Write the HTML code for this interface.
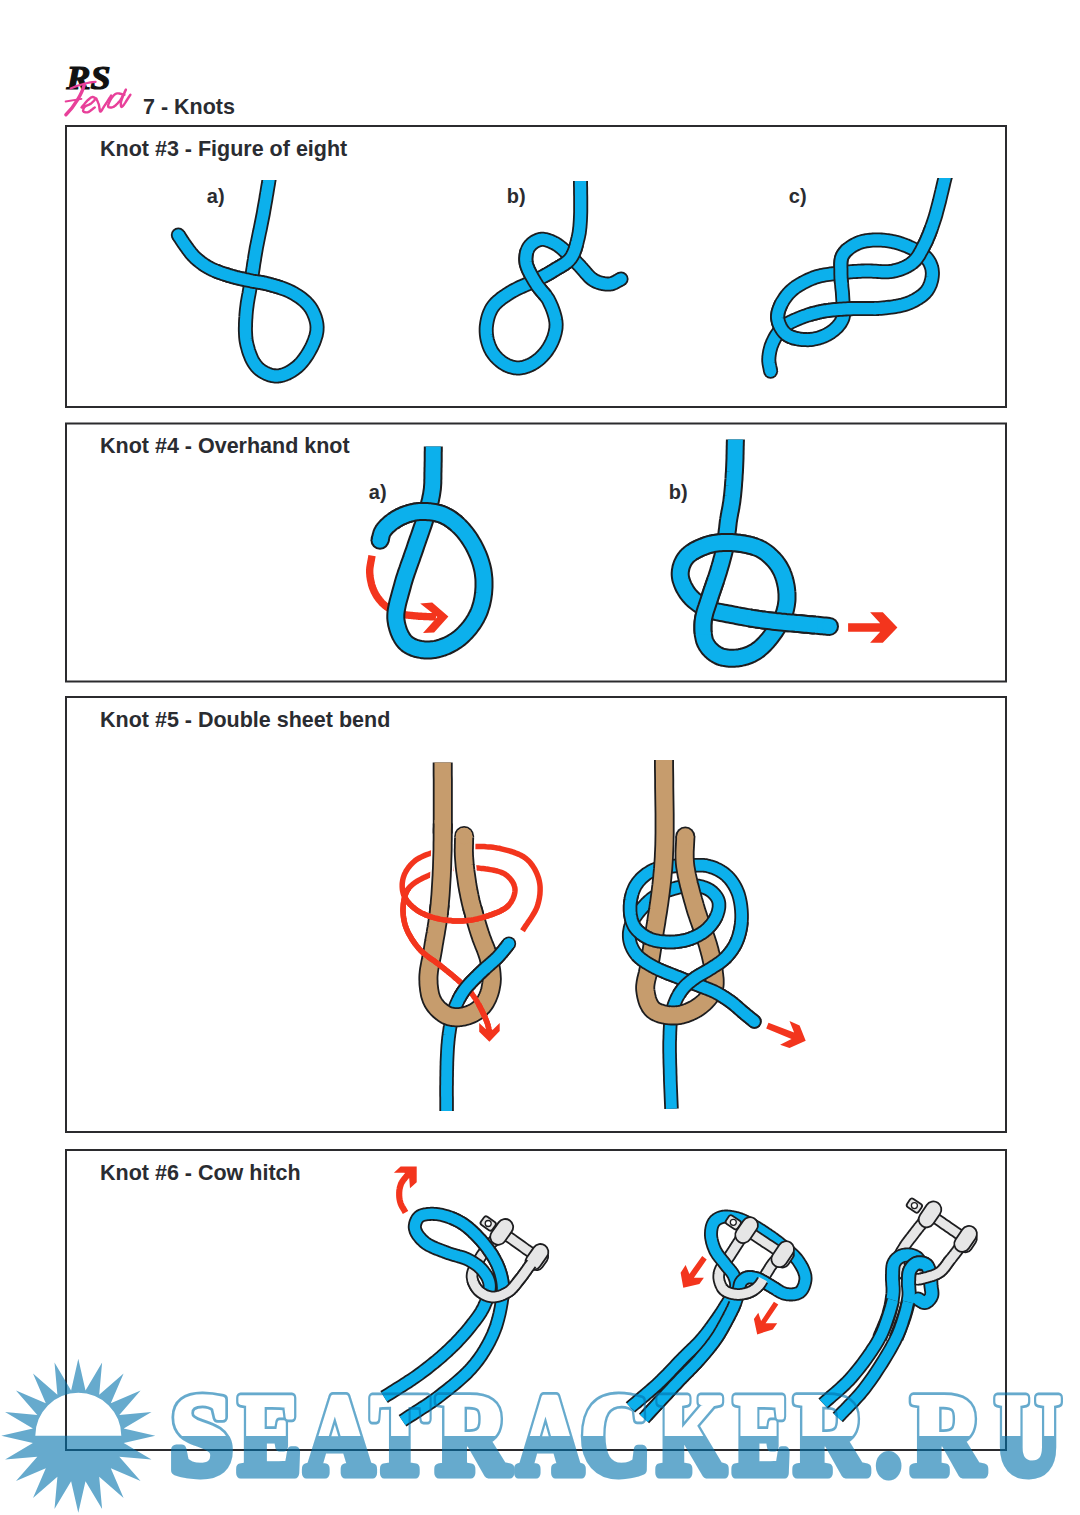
<!DOCTYPE html>
<html><head><meta charset="utf-8">
<style>
html,body{margin:0;padding:0;background:#fff;}
body{width:1080px;height:1515px;position:relative;overflow:hidden;font-family:"Liberation Sans",sans-serif;}
svg{position:absolute;left:0;top:0;}
.wm{mix-blend-mode:multiply;}
</style></head><body>
<svg width="1080" height="1515" viewBox="0 0 1080 1515">
<g fill="none" stroke="#2b2b2e" stroke-width="2">
<rect x="66" y="126" width="940" height="281"/>
<rect x="66" y="423.5" width="940" height="258"/>
<rect x="66" y="697" width="940" height="435"/>
<rect x="66" y="1150" width="940" height="300"/>
</g>
<g font-family="Liberation Sans" font-weight="bold" fill="#2a2c31" font-size="21.5">
<text x="143" y="114">7 - Knots</text>
<text x="100" y="155.5">Knot #3 - Figure of eight</text>
<text x="100" y="452.5">Knot #4 - Overhand knot</text>
<text x="100" y="726.5">Knot #5 - Double sheet bend</text>
<text x="100" y="1179.5">Knot #6 - Cow hitch</text>
<g font-size="20">
<text x="206.8" y="203">a)</text>
<text x="506.8" y="203">b)</text>
<text x="788.8" y="203">c)</text>
<text x="368.8" y="499">a)</text>
<text x="668.8" y="499">b)</text>
</g>
</g>
<text x="66.5" y="89.3" font-family="Liberation Serif" font-weight="bold" font-style="italic" font-size="33" fill="#111" stroke="#111" stroke-width="1.2" textLength="44" lengthAdjust="spacingAndGlyphs">RS</text>
<g fill="none" stroke="#e8409a" stroke-linecap="round" stroke-linejoin="round">
<path d="M70.7 88.5 C78.5 85.2 88.1 82.2 95.6 81.9" stroke-width="2.2"/>
<path d="M84.4 84.4 C82.2 93.3 74.8 105.9 65.9 114.8" stroke-width="3.4"/>
<path d="M65.6 101.5 L81.5 98.9" stroke-width="1.8"/>
<path d="M81.5 107.4 L82.3 106.4 L83.1 105.5 L84.0 104.5 L84.8 103.5 L85.6 102.5 L86.4 101.6 L87.2 100.7 L88.0 100.0 L88.6 99.5 L89.2 99.0 L89.8 98.5 L90.3 98.0 L90.9 97.6 L91.5 97.3 L92.0 97.1 L92.5 97.0 L92.9 97.0 L93.3 97.1 L93.8 97.3 L94.2 97.4 L94.5 97.7 L94.9 97.9 L95.1 98.2 L95.2 98.5 L95.2 99.0 L94.9 99.5 L94.4 100.2 L93.9 100.8 L93.2 101.5 L92.5 102.2 L91.8 102.8 L91.1 103.4 L90.4 103.9 L89.5 104.4 L88.6 104.8 L87.7 105.2 L86.7 105.6 L85.9 106.0 L85.2 106.5 L84.6 107.0 L84.2 107.5 L83.9 108.0 L83.6 108.6 L83.3 109.2 L83.2 109.8 L83.1 110.3 L83.1 110.8 L83.2 111.2 L83.5 111.5 L83.8 111.8 L84.3 112.0 L84.9 112.2 L85.5 112.3 L86.2 112.4 L86.8 112.4 L87.4 112.3 L88.2 112.1 L89.1 111.6 L90.1 111.0 L91.0 110.3 L92.0 109.6 L92.9 108.8 L93.9 108.1 L94.8 107.4" stroke-width="2.4"/>
<path d="M96.3 98.5 L96.6 99.2 L96.9 100.0 L97.3 100.7 L97.6 101.4 L97.9 102.1 L98.2 102.9 L98.5 103.6 L98.8 104.4 L99.0 105.3 L99.2 106.4 L99.4 107.6 L99.5 108.8 L99.7 109.8 L99.8 110.7 L100.1 111.3 L100.4 111.6 L100.8 111.5 L101.2 111.1 L101.7 110.5 L102.2 109.6 L102.7 108.7 L103.3 107.7 L103.8 106.8 L104.4 105.9 L105.2 104.8 L106.0 103.5 L106.8 102.3 L107.7 100.9 L108.5 99.6 L109.4 98.2 L110.3 96.9 L111.1 95.6" stroke-width="2.4"/>
<path d="M124.4 94.8 L123.4 94.6 L122.3 94.3 L121.3 94.0 L120.2 93.7 L119.2 93.5 L118.2 93.4 L117.2 93.4 L116.3 93.6 L115.4 94.0 L114.6 94.6 L113.7 95.4 L113.0 96.2 L112.2 97.2 L111.6 98.1 L110.9 99.1 L110.4 100.0 L109.9 100.9 L109.5 101.8 L109.0 102.8 L108.6 103.8 L108.3 104.7 L108.2 105.6 L108.1 106.3 L108.3 106.8 L108.6 107.1 L109.0 107.3 L109.5 107.4 L110.1 107.5 L110.7 107.5 L111.4 107.5 L112.0 107.4 L112.6 107.2 L113.4 106.9 L114.3 106.4 L115.1 105.8 L116.0 105.0 L116.8 104.2 L117.7 103.3 L118.5 102.4 L119.3 101.5 L120.3 100.1 L121.4 98.3 L122.4 96.3 L123.4 94.3 L124.4 92.5 L125.1 91.0 L125.6 89.9 L125.9 89.6 L125.8 90.0 L125.3 91.1 L124.6 92.7 L123.7 94.6 L122.8 96.7 L122.0 98.7 L121.4 100.5 L121.0 102.0 L120.9 102.8 L120.9 103.6 L120.8 104.4 L120.9 105.2 L120.9 105.9 L121.1 106.4 L121.3 106.8 L121.5 107.0 L122.1 106.7 L123.0 105.8 L124.1 104.4 L125.3 102.6 L126.6 100.5 L127.9 98.5 L129.2 96.5 L130.4 94.8" stroke-width="2.4"/>
</g>
<defs><clipPath id="cl0"><rect x="0" y="180.0" width="1080" height="1335.0"/></clipPath><clipPath id="cl1"><rect x="0" y="181.0" width="1080" height="1334.0"/></clipPath><clipPath id="cl2"><rect x="0" y="178.0" width="1080" height="1337.0"/></clipPath><clipPath id="cl3"><rect x="0" y="446.6" width="1080" height="1068.4"/></clipPath><clipPath id="cl4"><rect x="0" y="439.4" width="1080" height="1075.6"/></clipPath></defs>
<g clip-path="url(#cl0)"><circle cx="178.3" cy="235.0" r="7.50" fill="#1d1d1f"/>
<path d="M270.4 172.1 L270.3 172.7 L270.2 173.2 L270.1 173.7 L270.0 174.2 L269.9 174.7 L269.8 175.2 L269.7 175.7 L269.6 176.2 L269.6 176.8 L269.5 177.3 L269.4 177.9 L269.2 178.6 L269.1 179.3 L269.0 180.0 L268.7 181.7 L268.4 183.7 L268.0 185.9 L267.6 188.2 L267.2 190.7 L266.8 193.3 L266.3 195.9 L265.9 198.7 L265.4 201.5 L264.9 204.3 L264.4 207.1 L263.9 209.8 L263.5 212.4 L263.0 215.0 L262.5 217.5 L262.0 220.0 L261.5 222.5 L261.0 225.0 L260.5 227.6 L260.0 230.1 L259.4 232.6 L258.9 235.1 L258.4 237.6 L257.9 240.1 L257.4 242.6 L256.9 245.1 L256.4 247.5 L256.0 250.0 L255.6 252.3 L255.2 254.6 L254.8 256.9 L254.5 259.2 L254.1 261.5 L253.7 263.8 L253.4 266.1 L253.1 268.3 L252.7 270.6 L252.4 272.9 L252.0 275.1 L251.7 277.4 L251.4 279.7 L251.0 282.0 L250.6 284.3 L250.2 286.7 L249.8 289.1 L249.4 291.4 L249.0 293.8 L248.5 296.2 L248.1 298.6 L247.7 300.9 L247.3 303.3 L247.0 305.7 L246.7 308.0 L246.4 310.4 L246.2 312.7 L246.0 315.0 L245.9 317.2 L245.7 319.4 L245.6 321.6 L245.5 323.8 L245.5 326.0 L245.4 328.2 L245.4 330.4 L245.5 332.6 L245.6 334.7 L245.7 336.8 L245.9 338.9 L246.2 341.0 L246.6 343.0 L247.0 345.0 L247.5 346.8 L248.0 348.6 L248.5 350.5 L249.1 352.3 L249.8 354.2 L250.5 355.9 L251.2 357.7 L252.0 359.4 L252.9 361.1 L253.8 362.6 L254.8 364.1 L255.8 365.5 L256.9 366.8 L258.0 368.0 L259.1 369.0 L260.3 369.9 L261.5 370.8 L262.8 371.6 L264.1 372.4 L265.5 373.1 L266.9 373.8 L268.4 374.4 L269.8 374.9 L271.3 375.3 L272.7 375.6 L274.2 375.8 L275.6 376.0 L277.0 376.0 L278.4 375.9 L279.9 375.7 L281.4 375.4 L282.8 375.0 L284.3 374.5 L285.8 373.9 L287.3 373.3 L288.8 372.5 L290.2 371.7 L291.7 370.9 L293.1 369.9 L294.4 369.0 L295.7 368.0 L297.0 367.0 L298.4 365.8 L299.8 364.4 L301.1 363.0 L302.4 361.4 L303.7 359.8 L305.0 358.0 L306.2 356.3 L307.4 354.5 L308.5 352.7 L309.5 350.9 L310.5 349.1 L311.4 347.4 L312.3 345.6 L313.0 344.0 L313.6 342.7 L314.1 341.4 L314.6 340.1 L315.0 338.8 L315.4 337.5 L315.8 336.3 L316.2 335.0 L316.4 333.7 L316.7 332.4 L316.9 331.1 L317.0 329.9 L317.0 328.6 L317.1 327.3 L317.0 326.0 L316.9 324.6 L316.7 323.2 L316.4 321.8 L316.1 320.4 L315.7 319.0 L315.3 317.6 L314.8 316.2 L314.2 314.8 L313.6 313.4 L313.0 312.0 L312.3 310.7 L311.6 309.4 L310.8 308.2 L310.0 307.0 L309.1 305.8 L308.1 304.6 L307.1 303.5 L306.0 302.4 L304.9 301.3 L303.7 300.3 L302.5 299.3 L301.2 298.3 L299.9 297.3 L298.5 296.4 L297.2 295.5 L295.8 294.7 L294.4 293.8 L293.0 293.0 L291.4 292.1 L289.7 291.3 L288.0 290.5 L286.2 289.8 L284.4 289.1 L282.5 288.4 L280.7 287.7 L278.8 287.1 L276.9 286.5 L275.0 286.0 L273.2 285.4 L271.4 284.9 L269.7 284.5 L268.0 284.0 L266.7 283.7 L265.4 283.4 L264.2 283.1 L262.9 282.9 L261.7 282.6 L260.5 282.4 L259.3 282.2 L258.1 282.1 L256.9 281.9 L255.7 281.7 L254.5 281.5 L253.3 281.3 L252.1 281.1 L250.8 280.8 L249.4 280.5 L247.9 280.2 L246.5 279.9 L245.0 279.6 L243.5 279.2 L242.0 278.9 L240.5 278.6 L239.0 278.2 L237.4 277.8 L235.9 277.5 L234.4 277.1 L232.9 276.7 L231.5 276.2 L230.0 275.8 L228.5 275.4 L227.1 274.9 L225.6 274.4 L224.1 274.0 L222.6 273.5 L221.2 273.0 L219.7 272.5 L218.2 271.9 L216.8 271.4 L215.4 270.8 L214.0 270.2 L212.6 269.6 L211.3 269.0 L210.0 268.3 L208.8 267.6 L207.6 267.0 L206.5 266.3 L205.3 265.6 L204.2 264.8 L203.1 264.1 L202.0 263.3 L200.9 262.5 L199.9 261.7 L198.9 260.9 L197.9 260.1 L196.9 259.2 L195.9 258.4 L195.0 257.5 L194.2 256.7 L193.3 255.8 L192.6 255.0 L191.8 254.1 L191.0 253.2 L190.3 252.3 L189.6 251.3 L188.9 250.4 L188.2 249.5 L187.6 248.6 L186.9 247.7 L186.3 246.8 L185.6 245.9 L185.0 245.0 L184.5 244.3 L183.9 243.5 L183.4 242.8 L183.0 242.1 L182.5 241.4 L182.0 240.7 L181.5 240.0 L181.1 239.2 L180.6 238.5 L180.2 237.8 L179.7 237.1 L179.2 236.4 L178.8 235.7 L178.3 235.0" fill="none" stroke="#1d1d1f" stroke-width="15.00" stroke-linejoin="round"/>
<path d="M270.4 172.1 L270.3 172.7 L270.2 173.2 L270.1 173.7 L270.0 174.2 L269.9 174.7 L269.8 175.2 L269.7 175.7 L269.6 176.2 L269.6 176.8 L269.5 177.3 L269.4 177.9 L269.2 178.6 L269.1 179.3 L269.0 180.0 L268.7 181.7 L268.4 183.7 L268.0 185.9 L267.6 188.2 L267.2 190.7 L266.8 193.3 L266.3 195.9 L265.9 198.7 L265.4 201.5 L264.9 204.3 L264.4 207.1 L263.9 209.8 L263.5 212.4 L263.0 215.0 L262.5 217.5 L262.0 220.0 L261.5 222.5 L261.0 225.0 L260.5 227.6 L260.0 230.1 L259.4 232.6 L258.9 235.1 L258.4 237.6 L257.9 240.1 L257.4 242.6 L256.9 245.1 L256.4 247.5 L256.0 250.0 L255.6 252.3 L255.2 254.6 L254.8 256.9 L254.5 259.2 L254.1 261.5 L253.7 263.8 L253.4 266.1 L253.1 268.3 L252.7 270.6 L252.4 272.9 L252.0 275.1 L251.7 277.4 L251.4 279.7 L251.0 282.0 L250.6 284.3 L250.2 286.7 L249.8 289.1 L249.4 291.4 L249.0 293.8 L248.5 296.2 L248.1 298.6 L247.7 300.9 L247.3 303.3 L247.0 305.7 L246.7 308.0 L246.4 310.4 L246.2 312.7 L246.0 315.0 L245.9 317.2 L245.7 319.4 L245.6 321.6 L245.5 323.8 L245.5 326.0 L245.4 328.2 L245.4 330.4 L245.5 332.6 L245.6 334.7 L245.7 336.8 L245.9 338.9 L246.2 341.0 L246.6 343.0 L247.0 345.0 L247.5 346.8 L248.0 348.6 L248.5 350.5 L249.1 352.3 L249.8 354.2 L250.5 355.9 L251.2 357.7 L252.0 359.4 L252.9 361.1 L253.8 362.6 L254.8 364.1 L255.8 365.5 L256.9 366.8 L258.0 368.0 L259.1 369.0 L260.3 369.9 L261.5 370.8 L262.8 371.6 L264.1 372.4 L265.5 373.1 L266.9 373.8 L268.4 374.4 L269.8 374.9 L271.3 375.3 L272.7 375.6 L274.2 375.8 L275.6 376.0 L277.0 376.0 L278.4 375.9 L279.9 375.7 L281.4 375.4 L282.8 375.0 L284.3 374.5 L285.8 373.9 L287.3 373.3 L288.8 372.5 L290.2 371.7 L291.7 370.9 L293.1 369.9 L294.4 369.0 L295.7 368.0 L297.0 367.0 L298.4 365.8 L299.8 364.4 L301.1 363.0 L302.4 361.4 L303.7 359.8 L305.0 358.0 L306.2 356.3 L307.4 354.5 L308.5 352.7 L309.5 350.9 L310.5 349.1 L311.4 347.4 L312.3 345.6 L313.0 344.0 L313.6 342.7 L314.1 341.4 L314.6 340.1 L315.0 338.8 L315.4 337.5 L315.8 336.3 L316.2 335.0 L316.4 333.7 L316.7 332.4 L316.9 331.1 L317.0 329.9 L317.0 328.6 L317.1 327.3 L317.0 326.0 L316.9 324.6 L316.7 323.2 L316.4 321.8 L316.1 320.4 L315.7 319.0 L315.3 317.6 L314.8 316.2 L314.2 314.8 L313.6 313.4 L313.0 312.0 L312.3 310.7 L311.6 309.4 L310.8 308.2 L310.0 307.0 L309.1 305.8 L308.1 304.6 L307.1 303.5 L306.0 302.4 L304.9 301.3 L303.7 300.3 L302.5 299.3 L301.2 298.3 L299.9 297.3 L298.5 296.4 L297.2 295.5 L295.8 294.7 L294.4 293.8 L293.0 293.0 L291.4 292.1 L289.7 291.3 L288.0 290.5 L286.2 289.8 L284.4 289.1 L282.5 288.4 L280.7 287.7 L278.8 287.1 L276.9 286.5 L275.0 286.0 L273.2 285.4 L271.4 284.9 L269.7 284.5 L268.0 284.0 L266.7 283.7 L265.4 283.4 L264.2 283.1 L262.9 282.9 L261.7 282.6 L260.5 282.4 L259.3 282.2 L258.1 282.1 L256.9 281.9 L255.7 281.7 L254.5 281.5 L253.3 281.3 L252.1 281.1 L250.8 280.8 L249.4 280.5 L247.9 280.2 L246.5 279.9 L245.0 279.6 L243.5 279.2 L242.0 278.9 L240.5 278.6 L239.0 278.2 L237.4 277.8 L235.9 277.5 L234.4 277.1 L232.9 276.7 L231.5 276.2 L230.0 275.8 L228.5 275.4 L227.1 274.9 L225.6 274.4 L224.1 274.0 L222.6 273.5 L221.2 273.0 L219.7 272.5 L218.2 271.9 L216.8 271.4 L215.4 270.8 L214.0 270.2 L212.6 269.6 L211.3 269.0 L210.0 268.3 L208.8 267.6 L207.6 267.0 L206.5 266.3 L205.3 265.6 L204.2 264.8 L203.1 264.1 L202.0 263.3 L200.9 262.5 L199.9 261.7 L198.9 260.9 L197.9 260.1 L196.9 259.2 L195.9 258.4 L195.0 257.5 L194.2 256.7 L193.3 255.8 L192.6 255.0 L191.8 254.1 L191.0 253.2 L190.3 252.3 L189.6 251.3 L188.9 250.4 L188.2 249.5 L187.6 248.6 L186.9 247.7 L186.3 246.8 L185.6 245.9 L185.0 245.0 L184.5 244.3 L183.9 243.5 L183.4 242.8 L183.0 242.1 L182.5 241.4 L182.0 240.7 L181.5 240.0 L181.1 239.2 L180.6 238.5 L180.2 237.8 L179.7 237.1 L179.2 236.4 L178.8 235.7 L178.3 235.0" fill="none" stroke="#0cb0ec" stroke-width="11.40" stroke-linejoin="round"/>
<circle cx="178.3" cy="235.0" r="5.70" fill="#0cb0ec"/>
<path d="M280.7 287.7 L278.8 287.1 L276.9 286.5 L275.0 286.0 L273.2 285.4 L271.4 284.9 L269.7 284.5 L268.0 284.0 L266.7 283.7 L265.4 283.4 L264.2 283.1 L262.9 282.9 L261.7 282.6 L260.5 282.4 L259.3 282.2 L258.1 282.1 L256.9 281.9 L255.7 281.7 L254.5 281.5 L253.3 281.3 L252.1 281.1 L250.8 280.8 L249.4 280.5 L247.9 280.2 L246.5 279.9 L245.0 279.6 L243.5 279.2 L242.0 278.9 L240.5 278.6 L239.0 278.2 L237.4 277.8 L235.9 277.5 L234.4 277.1 L232.9 276.7 L231.5 276.2 L230.0 275.8 L228.5 275.4 L227.1 274.9 L225.6 274.4 L224.1 274.0 L222.6 273.5 L221.2 273.0 L219.7 272.5 L218.2 271.9 L216.8 271.4 L215.4 270.8" fill="none" stroke="#1d1d1f" stroke-width="15.00" stroke-linejoin="round"/>
<path d="M282.5 288.4 L280.7 287.7 L278.8 287.1 L276.9 286.5 L275.0 286.0 L273.2 285.4 L271.4 284.9 L269.7 284.5 L268.0 284.0 L266.7 283.7 L265.4 283.4 L264.2 283.1 L262.9 282.9 L261.7 282.6 L260.5 282.4 L259.3 282.2 L258.1 282.1 L256.9 281.9 L255.7 281.7 L254.5 281.5 L253.3 281.3 L252.1 281.1 L250.8 280.8 L249.4 280.5 L247.9 280.2 L246.5 279.9 L245.0 279.6 L243.5 279.2 L242.0 278.9 L240.5 278.6 L239.0 278.2 L237.4 277.8 L235.9 277.5 L234.4 277.1 L232.9 276.7 L231.5 276.2 L230.0 275.8 L228.5 275.4 L227.1 274.9 L225.6 274.4 L224.1 274.0 L222.6 273.5 L221.2 273.0 L219.7 272.5 L218.2 271.9 L216.8 271.4 L215.4 270.8 L214.0 270.2" fill="none" stroke="#0cb0ec" stroke-width="11.40" stroke-linejoin="round"/></g>
<g clip-path="url(#cl1)"><circle cx="621.1" cy="279.0" r="7.50" fill="#1d1d1f"/>
<path d="M580.5 173.0 L580.5 173.6 L580.5 174.1 L580.5 174.6 L580.5 175.1 L580.5 175.6 L580.5 176.1 L580.5 176.6 L580.5 177.1 L580.5 177.7 L580.5 178.3 L580.5 178.9 L580.5 179.5 L580.5 180.2 L580.5 181.0 L580.5 182.9 L580.5 185.2 L580.6 187.7 L580.6 190.4 L580.6 193.4 L580.7 196.4 L580.7 199.6 L580.7 202.8 L580.7 205.9 L580.7 209.1 L580.7 212.1 L580.6 214.9 L580.5 217.6 L580.4 220.0 L580.3 221.5 L580.2 223.0 L580.1 224.4 L580.0 225.8 L579.9 227.1 L579.7 228.4 L579.6 229.7 L579.4 230.9 L579.3 232.2 L579.1 233.4 L578.8 234.6 L578.6 235.9 L578.3 237.2 L578.0 238.5 L577.6 239.9 L577.3 241.4 L576.9 242.9 L576.5 244.4 L576.1 246.0 L575.6 247.5 L575.2 249.0 L574.6 250.5 L574.1 252.0 L573.5 253.4 L572.8 254.8 L572.1 256.1 L571.3 257.3 L570.5 258.5 L569.6 259.6 L568.7 260.6 L567.6 261.5 L566.6 262.4 L565.4 263.3 L564.3 264.1 L563.0 264.9 L561.8 265.6 L560.6 266.4 L559.3 267.1 L558.1 267.8 L556.8 268.5 L555.6 269.3 L554.4 270.0 L553.3 270.7 L552.1 271.4 L551.0 272.1 L549.9 272.8 L548.7 273.4 L547.6 274.1 L546.4 274.7 L545.3 275.3 L544.1 276.0 L542.9 276.6 L541.7 277.3 L540.4 277.9 L539.1 278.6 L537.8 279.3 L536.0 280.2 L534.1 281.1 L532.1 282.0 L530.0 283.0 L527.9 283.9 L525.7 284.8 L523.6 285.8 L521.4 286.7 L519.2 287.7 L517.1 288.7 L515.1 289.8 L513.1 290.8 L511.2 291.9 L509.4 293.0 L507.9 294.0 L506.5 294.9 L505.0 295.9 L503.6 296.9 L502.2 297.8 L500.9 298.8 L499.6 299.9 L498.3 300.9 L497.1 302.0 L495.9 303.1 L494.8 304.3 L493.8 305.5 L492.9 306.7 L492.0 308.0 L491.2 309.4 L490.5 310.8 L489.8 312.3 L489.2 313.8 L488.6 315.4 L488.1 317.0 L487.7 318.6 L487.3 320.3 L487.0 321.9 L486.7 323.6 L486.5 325.2 L486.3 326.8 L486.2 328.4 L486.2 330.0 L486.2 331.5 L486.3 333.0 L486.4 334.5 L486.6 336.0 L486.8 337.5 L487.1 339.0 L487.4 340.4 L487.8 341.9 L488.3 343.4 L488.7 344.8 L489.2 346.1 L489.8 347.5 L490.4 348.8 L491.0 350.0 L491.6 351.1 L492.3 352.2 L493.0 353.3 L493.8 354.3 L494.6 355.4 L495.4 356.4 L496.3 357.3 L497.2 358.3 L498.2 359.2 L499.1 360.0 L500.1 360.8 L501.0 361.6 L502.0 362.3 L503.0 363.0 L503.9 363.6 L504.9 364.1 L505.8 364.7 L506.8 365.2 L507.8 365.6 L508.9 366.1 L509.9 366.5 L510.9 366.8 L512.0 367.1 L513.0 367.4 L514.1 367.6 L515.1 367.8 L516.2 367.9 L517.2 368.0 L518.2 368.0 L519.3 368.0 L520.4 367.9 L521.5 367.7 L522.5 367.5 L523.6 367.3 L524.7 367.0 L525.8 366.6 L526.9 366.3 L527.9 365.9 L529.0 365.4 L530.0 365.0 L531.0 364.5 L532.0 364.0 L533.0 363.4 L534.0 362.8 L535.0 362.2 L536.0 361.5 L537.0 360.7 L538.0 360.0 L539.0 359.2 L539.9 358.4 L540.8 357.5 L541.7 356.6 L542.6 355.7 L543.4 354.8 L544.2 353.9 L545.0 353.0 L545.8 352.1 L546.5 351.1 L547.2 350.1 L547.9 349.0 L548.6 348.0 L549.3 346.9 L549.9 345.8 L550.5 344.7 L551.1 343.6 L551.6 342.5 L552.2 341.4 L552.6 340.2 L553.1 339.1 L553.5 338.0 L553.9 337.0 L554.2 335.9 L554.5 334.9 L554.8 333.9 L555.1 332.8 L555.3 331.8 L555.5 330.7 L555.7 329.7 L555.9 328.6 L556.0 327.5 L556.0 326.4 L556.1 325.3 L556.1 324.2 L556.0 323.0 L555.9 321.5 L555.6 320.0 L555.4 318.5 L555.0 316.9 L554.6 315.3 L554.1 313.6 L553.6 312.0 L553.0 310.3 L552.4 308.7 L551.8 307.1 L551.1 305.5 L550.4 304.0 L549.7 302.5 L549.0 301.0 L548.3 299.6 L547.4 298.3 L546.6 297.1 L545.7 295.8 L544.7 294.6 L543.7 293.4 L542.7 292.3 L541.7 291.1 L540.7 289.9 L539.7 288.7 L538.8 287.5 L537.8 286.2 L536.9 284.9 L536.1 283.6 L535.2 282.2 L534.3 280.7 L533.4 279.1 L532.5 277.6 L531.6 276.0 L530.7 274.4 L529.9 272.8 L529.1 271.2 L528.3 269.6 L527.7 268.0 L527.1 266.5 L526.6 264.9 L526.2 263.5 L526.0 262.0 L525.9 260.8 L525.8 259.7 L525.8 258.5 L525.9 257.4 L526.0 256.2 L526.1 255.1 L526.3 253.9 L526.5 252.8 L526.8 251.7 L527.2 250.7 L527.6 249.7 L528.0 248.7 L528.5 247.8 L529.0 247.0 L529.6 246.2 L530.2 245.5 L530.9 244.7 L531.6 244.0 L532.4 243.3 L533.3 242.7 L534.1 242.1 L535.0 241.5 L536.0 241.0 L536.9 240.6 L537.8 240.2 L538.8 239.8 L539.7 239.6 L540.6 239.4 L541.5 239.3 L542.5 239.3 L543.5 239.3 L544.5 239.5 L545.5 239.7 L546.5 239.9 L547.5 240.2 L548.5 240.6 L549.6 240.9 L550.6 241.3 L551.6 241.8 L552.5 242.2 L553.5 242.7 L554.4 243.1 L555.3 243.6 L556.2 244.1 L557.0 244.6 L557.9 245.2 L558.7 245.8 L559.5 246.4 L560.4 247.1 L561.2 247.7 L562.0 248.4 L562.8 249.1 L563.6 249.8 L564.4 250.6 L565.2 251.3 L566.0 252.0 L566.9 252.8 L567.8 253.6 L568.7 254.5 L569.6 255.4 L570.5 256.3 L571.3 257.2 L572.2 258.1 L573.1 259.0 L574.0 259.9 L574.9 260.9 L575.8 261.8 L576.7 262.8 L577.7 263.7 L578.6 264.7 L579.7 265.8 L580.7 267.0 L581.8 268.2 L582.9 269.5 L584.0 270.7 L585.1 272.0 L586.2 273.3 L587.3 274.5 L588.4 275.7 L589.5 276.9 L590.7 277.9 L591.9 278.9 L593.1 279.8 L594.3 280.5 L595.4 281.1 L596.5 281.6 L597.6 282.0 L598.7 282.5 L599.9 282.8 L601.0 283.2 L602.2 283.4 L603.4 283.7 L604.5 283.9 L605.7 284.0 L606.8 284.1 L607.9 284.1 L609.0 284.1 L610.0 284.0 L610.9 283.9 L611.7 283.7 L612.5 283.4 L613.3 283.1 L614.1 282.8 L614.9 282.4 L615.7 282.0 L616.5 281.5 L617.2 281.1 L618.0 280.6 L618.8 280.2 L619.5 279.8 L620.3 279.4 L621.1 279.0" fill="none" stroke="#1d1d1f" stroke-width="15.00" stroke-linejoin="round"/>
<path d="M580.5 173.0 L580.5 173.6 L580.5 174.1 L580.5 174.6 L580.5 175.1 L580.5 175.6 L580.5 176.1 L580.5 176.6 L580.5 177.1 L580.5 177.7 L580.5 178.3 L580.5 178.9 L580.5 179.5 L580.5 180.2 L580.5 181.0 L580.5 182.9 L580.5 185.2 L580.6 187.7 L580.6 190.4 L580.6 193.4 L580.7 196.4 L580.7 199.6 L580.7 202.8 L580.7 205.9 L580.7 209.1 L580.7 212.1 L580.6 214.9 L580.5 217.6 L580.4 220.0 L580.3 221.5 L580.2 223.0 L580.1 224.4 L580.0 225.8 L579.9 227.1 L579.7 228.4 L579.6 229.7 L579.4 230.9 L579.3 232.2 L579.1 233.4 L578.8 234.6 L578.6 235.9 L578.3 237.2 L578.0 238.5 L577.6 239.9 L577.3 241.4 L576.9 242.9 L576.5 244.4 L576.1 246.0 L575.6 247.5 L575.2 249.0 L574.6 250.5 L574.1 252.0 L573.5 253.4 L572.8 254.8 L572.1 256.1 L571.3 257.3 L570.5 258.5 L569.6 259.6 L568.7 260.6 L567.6 261.5 L566.6 262.4 L565.4 263.3 L564.3 264.1 L563.0 264.9 L561.8 265.6 L560.6 266.4 L559.3 267.1 L558.1 267.8 L556.8 268.5 L555.6 269.3 L554.4 270.0 L553.3 270.7 L552.1 271.4 L551.0 272.1 L549.9 272.8 L548.7 273.4 L547.6 274.1 L546.4 274.7 L545.3 275.3 L544.1 276.0 L542.9 276.6 L541.7 277.3 L540.4 277.9 L539.1 278.6 L537.8 279.3 L536.0 280.2 L534.1 281.1 L532.1 282.0 L530.0 283.0 L527.9 283.9 L525.7 284.8 L523.6 285.8 L521.4 286.7 L519.2 287.7 L517.1 288.7 L515.1 289.8 L513.1 290.8 L511.2 291.9 L509.4 293.0 L507.9 294.0 L506.5 294.9 L505.0 295.9 L503.6 296.9 L502.2 297.8 L500.9 298.8 L499.6 299.9 L498.3 300.9 L497.1 302.0 L495.9 303.1 L494.8 304.3 L493.8 305.5 L492.9 306.7 L492.0 308.0 L491.2 309.4 L490.5 310.8 L489.8 312.3 L489.2 313.8 L488.6 315.4 L488.1 317.0 L487.7 318.6 L487.3 320.3 L487.0 321.9 L486.7 323.6 L486.5 325.2 L486.3 326.8 L486.2 328.4 L486.2 330.0 L486.2 331.5 L486.3 333.0 L486.4 334.5 L486.6 336.0 L486.8 337.5 L487.1 339.0 L487.4 340.4 L487.8 341.9 L488.3 343.4 L488.7 344.8 L489.2 346.1 L489.8 347.5 L490.4 348.8 L491.0 350.0 L491.6 351.1 L492.3 352.2 L493.0 353.3 L493.8 354.3 L494.6 355.4 L495.4 356.4 L496.3 357.3 L497.2 358.3 L498.2 359.2 L499.1 360.0 L500.1 360.8 L501.0 361.6 L502.0 362.3 L503.0 363.0 L503.9 363.6 L504.9 364.1 L505.8 364.7 L506.8 365.2 L507.8 365.6 L508.9 366.1 L509.9 366.5 L510.9 366.8 L512.0 367.1 L513.0 367.4 L514.1 367.6 L515.1 367.8 L516.2 367.9 L517.2 368.0 L518.2 368.0 L519.3 368.0 L520.4 367.9 L521.5 367.7 L522.5 367.5 L523.6 367.3 L524.7 367.0 L525.8 366.6 L526.9 366.3 L527.9 365.9 L529.0 365.4 L530.0 365.0 L531.0 364.5 L532.0 364.0 L533.0 363.4 L534.0 362.8 L535.0 362.2 L536.0 361.5 L537.0 360.7 L538.0 360.0 L539.0 359.2 L539.9 358.4 L540.8 357.5 L541.7 356.6 L542.6 355.7 L543.4 354.8 L544.2 353.9 L545.0 353.0 L545.8 352.1 L546.5 351.1 L547.2 350.1 L547.9 349.0 L548.6 348.0 L549.3 346.9 L549.9 345.8 L550.5 344.7 L551.1 343.6 L551.6 342.5 L552.2 341.4 L552.6 340.2 L553.1 339.1 L553.5 338.0 L553.9 337.0 L554.2 335.9 L554.5 334.9 L554.8 333.9 L555.1 332.8 L555.3 331.8 L555.5 330.7 L555.7 329.7 L555.9 328.6 L556.0 327.5 L556.0 326.4 L556.1 325.3 L556.1 324.2 L556.0 323.0 L555.9 321.5 L555.6 320.0 L555.4 318.5 L555.0 316.9 L554.6 315.3 L554.1 313.6 L553.6 312.0 L553.0 310.3 L552.4 308.7 L551.8 307.1 L551.1 305.5 L550.4 304.0 L549.7 302.5 L549.0 301.0 L548.3 299.6 L547.4 298.3 L546.6 297.1 L545.7 295.8 L544.7 294.6 L543.7 293.4 L542.7 292.3 L541.7 291.1 L540.7 289.9 L539.7 288.7 L538.8 287.5 L537.8 286.2 L536.9 284.9 L536.1 283.6 L535.2 282.2 L534.3 280.7 L533.4 279.1 L532.5 277.6 L531.6 276.0 L530.7 274.4 L529.9 272.8 L529.1 271.2 L528.3 269.6 L527.7 268.0 L527.1 266.5 L526.6 264.9 L526.2 263.5 L526.0 262.0 L525.9 260.8 L525.8 259.7 L525.8 258.5 L525.9 257.4 L526.0 256.2 L526.1 255.1 L526.3 253.9 L526.5 252.8 L526.8 251.7 L527.2 250.7 L527.6 249.7 L528.0 248.7 L528.5 247.8 L529.0 247.0 L529.6 246.2 L530.2 245.5 L530.9 244.7 L531.6 244.0 L532.4 243.3 L533.3 242.7 L534.1 242.1 L535.0 241.5 L536.0 241.0 L536.9 240.6 L537.8 240.2 L538.8 239.8 L539.7 239.6 L540.6 239.4 L541.5 239.3 L542.5 239.3 L543.5 239.3 L544.5 239.5 L545.5 239.7 L546.5 239.9 L547.5 240.2 L548.5 240.6 L549.6 240.9 L550.6 241.3 L551.6 241.8 L552.5 242.2 L553.5 242.7 L554.4 243.1 L555.3 243.6 L556.2 244.1 L557.0 244.6 L557.9 245.2 L558.7 245.8 L559.5 246.4 L560.4 247.1 L561.2 247.7 L562.0 248.4 L562.8 249.1 L563.6 249.8 L564.4 250.6 L565.2 251.3 L566.0 252.0 L566.9 252.8 L567.8 253.6 L568.7 254.5 L569.6 255.4 L570.5 256.3 L571.3 257.2 L572.2 258.1 L573.1 259.0 L574.0 259.9 L574.9 260.9 L575.8 261.8 L576.7 262.8 L577.7 263.7 L578.6 264.7 L579.7 265.8 L580.7 267.0 L581.8 268.2 L582.9 269.5 L584.0 270.7 L585.1 272.0 L586.2 273.3 L587.3 274.5 L588.4 275.7 L589.5 276.9 L590.7 277.9 L591.9 278.9 L593.1 279.8 L594.3 280.5 L595.4 281.1 L596.5 281.6 L597.6 282.0 L598.7 282.5 L599.9 282.8 L601.0 283.2 L602.2 283.4 L603.4 283.7 L604.5 283.9 L605.7 284.0 L606.8 284.1 L607.9 284.1 L609.0 284.1 L610.0 284.0 L610.9 283.9 L611.7 283.7 L612.5 283.4 L613.3 283.1 L614.1 282.8 L614.9 282.4 L615.7 282.0 L616.5 281.5 L617.2 281.1 L618.0 280.6 L618.8 280.2 L619.5 279.8 L620.3 279.4 L621.1 279.0" fill="none" stroke="#0cb0ec" stroke-width="11.40" stroke-linejoin="round"/>
<circle cx="621.1" cy="279.0" r="5.70" fill="#0cb0ec"/>
<path d="M576.5 244.4 L576.1 246.0 L575.6 247.5 L575.2 249.0 L574.6 250.5 L574.1 252.0 L573.5 253.4 L572.8 254.8 L572.1 256.1 L571.3 257.3 L570.5 258.5 L569.6 259.6 L568.7 260.6 L567.6 261.5 L566.6 262.4 L565.4 263.3 L564.3 264.1 L563.0 264.9 L561.8 265.6 L560.6 266.4 L559.3 267.1 L558.1 267.8 L556.8 268.5 L555.6 269.3 L554.4 270.0 L553.3 270.7 L552.1 271.4 L551.0 272.1 L549.9 272.8 L548.7 273.4 L547.6 274.1 L546.4 274.7 L545.3 275.3 L544.1 276.0 L542.9 276.6" fill="none" stroke="#1d1d1f" stroke-width="15.00" stroke-linejoin="round"/>
<path d="M576.9 242.9 L576.5 244.4 L576.1 246.0 L575.6 247.5 L575.2 249.0 L574.6 250.5 L574.1 252.0 L573.5 253.4 L572.8 254.8 L572.1 256.1 L571.3 257.3 L570.5 258.5 L569.6 259.6 L568.7 260.6 L567.6 261.5 L566.6 262.4 L565.4 263.3 L564.3 264.1 L563.0 264.9 L561.8 265.6 L560.6 266.4 L559.3 267.1 L558.1 267.8 L556.8 268.5 L555.6 269.3 L554.4 270.0 L553.3 270.7 L552.1 271.4 L551.0 272.1 L549.9 272.8 L548.7 273.4 L547.6 274.1 L546.4 274.7 L545.3 275.3 L544.1 276.0 L542.9 276.6 L541.7 277.3" fill="none" stroke="#0cb0ec" stroke-width="11.40" stroke-linejoin="round"/>
<path d="M545.7 295.8 L544.7 294.6 L543.7 293.4 L542.7 292.3 L541.7 291.1 L540.7 289.9 L539.7 288.7 L538.8 287.5 L537.8 286.2 L536.9 284.9 L536.1 283.6 L535.2 282.2 L534.3 280.7 L533.4 279.1 L532.5 277.6 L531.6 276.0 L530.7 274.4 L529.9 272.8 L529.1 271.2 L528.3 269.6 L527.7 268.0 L527.1 266.5 L526.6 264.9 L526.2 263.5 L526.0 262.0 L525.9 260.8 L525.8 259.7 L525.8 258.5 L525.9 257.4 L526.0 256.2 L526.1 255.1 L526.3 253.9 L526.5 252.8 L526.8 251.7 L527.2 250.7" fill="none" stroke="#1d1d1f" stroke-width="15.00" stroke-linejoin="round"/>
<path d="M546.6 297.1 L545.7 295.8 L544.7 294.6 L543.7 293.4 L542.7 292.3 L541.7 291.1 L540.7 289.9 L539.7 288.7 L538.8 287.5 L537.8 286.2 L536.9 284.9 L536.1 283.6 L535.2 282.2 L534.3 280.7 L533.4 279.1 L532.5 277.6 L531.6 276.0 L530.7 274.4 L529.9 272.8 L529.1 271.2 L528.3 269.6 L527.7 268.0 L527.1 266.5 L526.6 264.9 L526.2 263.5 L526.0 262.0 L525.9 260.8 L525.8 259.7 L525.8 258.5 L525.9 257.4 L526.0 256.2 L526.1 255.1 L526.3 253.9 L526.5 252.8 L526.8 251.7 L527.2 250.7 L527.6 249.7" fill="none" stroke="#0cb0ec" stroke-width="11.40" stroke-linejoin="round"/></g>
<g clip-path="url(#cl2)"><circle cx="770.6" cy="371.3" r="7.50" fill="#1d1d1f"/>
<path d="M947.0 170.3 L946.9 170.8 L946.7 171.3 L946.6 171.8 L946.5 172.3 L946.3 172.8 L946.2 173.2 L946.1 173.7 L946.0 174.2 L945.8 174.8 L945.7 175.3 L945.5 175.9 L945.4 176.6 L945.2 177.3 L945.0 178.0 L944.5 180.0 L943.9 182.3 L943.3 185.0 L942.6 187.9 L941.9 191.0 L941.1 194.2 L940.3 197.6 L939.5 201.0 L938.6 204.4 L937.7 207.8 L936.8 211.1 L936.0 214.3 L935.1 217.2 L934.2 220.0 L933.5 222.1 L932.8 224.2 L932.1 226.2 L931.4 228.3 L930.6 230.3 L929.9 232.2 L929.2 234.1 L928.4 236.0 L927.6 237.8 L926.9 239.6 L926.1 241.4 L925.3 243.1 L924.4 244.8 L923.6 246.4 L922.9 247.7 L922.2 249.0 L921.6 250.3 L920.9 251.5 L920.2 252.7 L919.6 253.9 L918.9 255.1 L918.2 256.2 L917.4 257.3 L916.6 258.4 L915.8 259.4 L914.9 260.4 L914.0 261.3 L913.0 262.2 L911.9 263.1 L910.7 264.0 L909.5 264.8 L908.2 265.5 L906.9 266.3 L905.6 267.0 L904.2 267.6 L902.7 268.2 L901.3 268.8 L899.8 269.3 L898.3 269.8 L896.8 270.2 L895.2 270.6 L893.7 271.0 L891.9 271.3 L890.0 271.6 L888.1 271.7 L886.1 271.7 L884.1 271.7 L882.0 271.7 L879.9 271.6 L877.8 271.4 L875.8 271.3 L873.7 271.2 L871.6 271.1 L869.6 271.0 L867.6 271.0 L865.6 271.0 L863.8 271.1 L862.0 271.1 L860.2 271.2 L858.5 271.3 L856.7 271.4 L855.0 271.5 L853.2 271.6 L851.5 271.7 L849.8 271.9 L848.0 272.0 L846.3 272.2 L844.5 272.4 L842.7 272.6 L840.9 272.8 L838.9 273.0 L836.9 273.3 L834.9 273.5 L832.9 273.8 L830.8 274.0 L828.8 274.3 L826.7 274.6 L824.7 274.9 L822.6 275.3 L820.6 275.7 L818.6 276.2 L816.6 276.8 L814.7 277.4 L812.8 278.1 L810.9 278.9 L809.0 279.7 L807.0 280.6 L805.1 281.6 L803.1 282.6 L801.2 283.7 L799.3 284.8 L797.5 285.9 L795.7 287.1 L794.0 288.4 L792.4 289.7 L790.9 291.1 L789.4 292.5 L788.1 293.9 L786.9 295.3 L785.8 296.8 L784.7 298.3 L783.6 300.0 L782.6 301.6 L781.6 303.3 L780.7 305.1 L780.0 306.8 L779.3 308.5 L778.7 310.3 L778.2 312.0 L777.9 313.6 L777.7 315.2 L777.6 316.8 L777.7 318.2 L777.9 319.6 L778.2 321.0 L778.5 322.4 L779.0 323.8 L779.6 325.2 L780.2 326.5 L780.9 327.8 L781.7 329.1 L782.5 330.3 L783.4 331.5 L784.4 332.6 L785.4 333.5 L786.4 334.4 L787.6 335.3 L789.0 336.0 L790.4 336.7 L792.0 337.3 L793.6 337.9 L795.3 338.3 L797.1 338.7 L798.8 339.0 L800.6 339.3 L802.4 339.5 L804.2 339.6 L806.0 339.6 L807.7 339.7 L809.3 339.6 L810.9 339.5 L812.4 339.3 L814.0 339.0 L815.6 338.7 L817.3 338.3 L818.8 337.9 L820.4 337.4 L822.0 336.8 L823.5 336.2 L825.0 335.6 L826.4 334.9 L827.8 334.2 L829.1 333.4 L830.4 332.6 L831.5 331.8 L832.6 331.0 L833.7 330.2 L834.8 329.3 L835.8 328.3 L836.8 327.4 L837.7 326.4 L838.6 325.3 L839.5 324.2 L840.3 323.2 L841.0 322.0 L841.6 320.9 L842.2 319.7 L842.7 318.5 L843.1 317.2 L843.4 315.8 L843.6 314.4 L843.7 313.0 L843.8 311.5 L843.7 310.0 L843.6 308.4 L843.5 306.9 L843.4 305.3 L843.2 303.7 L843.0 302.1 L842.9 300.6 L842.8 299.0 L842.7 297.4 L842.6 295.7 L842.5 293.9 L842.4 292.2 L842.2 290.4 L842.0 288.6 L841.8 286.8 L841.7 285.0 L841.5 283.2 L841.3 281.4 L841.2 279.6 L841.0 277.8 L841.0 276.1 L840.9 274.4 L840.9 272.8 L840.9 271.4 L840.9 270.1 L840.9 268.7 L840.8 267.4 L840.8 266.1 L840.8 264.7 L840.8 263.4 L840.9 262.2 L841.0 260.9 L841.2 259.7 L841.4 258.5 L841.8 257.4 L842.2 256.3 L842.7 255.2 L843.4 254.1 L844.2 253.0 L845.0 252.0 L846.0 250.9 L847.0 249.9 L848.2 249.0 L849.3 248.1 L850.6 247.2 L851.8 246.3 L853.1 245.5 L854.5 244.8 L855.8 244.1 L857.2 243.5 L858.5 242.9 L860.0 242.3 L861.6 241.8 L863.3 241.4 L865.0 241.0 L866.8 240.7 L868.6 240.5 L870.4 240.3 L872.2 240.1 L874.1 240.0 L876.0 240.0 L877.8 240.0 L879.6 240.0 L881.4 240.1 L883.2 240.2 L885.0 240.4 L886.8 240.6 L888.6 240.8 L890.4 241.1 L892.2 241.5 L894.0 241.9 L895.8 242.3 L897.6 242.8 L899.4 243.3 L901.1 243.9 L902.8 244.5 L904.5 245.1 L906.2 245.7 L907.8 246.4 L909.3 247.1 L910.9 247.8 L912.5 248.5 L914.0 249.3 L915.6 250.1 L917.1 250.9 L918.6 251.8 L920.0 252.7 L921.4 253.6 L922.7 254.6 L924.0 255.6 L925.1 256.6 L926.2 257.6 L927.1 258.7 L927.8 259.6 L928.4 260.5 L929.0 261.4 L929.6 262.4 L930.1 263.4 L930.5 264.4 L930.9 265.4 L931.3 266.4 L931.6 267.5 L931.9 268.5 L932.1 269.6 L932.2 270.7 L932.3 271.7 L932.4 272.8 L932.4 274.0 L932.3 275.3 L932.2 276.5 L932.0 277.8 L931.8 279.2 L931.5 280.5 L931.1 281.8 L930.7 283.2 L930.3 284.5 L929.7 285.7 L929.1 287.0 L928.5 288.2 L927.8 289.3 L927.1 290.4 L926.2 291.5 L925.3 292.6 L924.2 293.6 L923.1 294.6 L922.0 295.6 L920.7 296.5 L919.4 297.4 L918.1 298.3 L916.7 299.1 L915.3 299.9 L913.9 300.7 L912.4 301.4 L911.0 302.1 L909.5 302.7 L907.8 303.4 L906.1 304.0 L904.4 304.5 L902.6 305.0 L900.8 305.4 L898.9 305.8 L897.0 306.2 L895.1 306.5 L893.2 306.8 L891.2 307.1 L889.2 307.3 L887.2 307.5 L885.2 307.8 L883.2 308.0 L880.8 308.2 L878.4 308.4 L875.9 308.5 L873.4 308.6 L870.8 308.6 L868.2 308.6 L865.6 308.6 L863.0 308.6 L860.4 308.6 L857.8 308.6 L855.3 308.6 L852.8 308.6 L850.4 308.7 L848.0 308.8 L846.0 308.9 L844.0 309.0 L842.0 309.2 L840.1 309.3 L838.2 309.4 L836.3 309.6 L834.4 309.7 L832.5 309.9 L830.7 310.1 L828.9 310.3 L827.0 310.6 L825.2 310.8 L823.4 311.2 L821.6 311.5 L819.9 311.9 L818.2 312.2 L816.5 312.7 L814.8 313.1 L813.1 313.5 L811.4 314.0 L809.7 314.5 L808.0 315.0 L806.4 315.6 L804.8 316.1 L803.2 316.7 L801.7 317.3 L800.2 317.9 L798.7 318.5 L797.4 319.0 L796.2 319.6 L795.0 320.1 L793.7 320.6 L792.6 321.2 L791.4 321.7 L790.2 322.3 L789.1 322.9 L788.0 323.6 L786.9 324.2 L785.9 324.9 L784.8 325.7 L783.9 326.5 L782.9 327.3 L781.9 328.2 L781.0 329.2 L780.1 330.2 L779.2 331.3 L778.4 332.4 L777.6 333.6 L776.8 334.7 L776.0 335.9 L775.3 337.1 L774.6 338.4 L774.0 339.6 L773.4 340.8 L772.8 342.0 L772.3 343.2 L771.9 344.3 L771.4 345.4 L771.0 346.5 L770.7 347.7 L770.4 348.8 L770.1 350.0 L769.8 351.1 L769.6 352.3 L769.4 353.5 L769.2 354.6 L769.1 355.7 L768.9 356.8 L768.9 357.9 L768.8 359.0 L768.8 359.9 L768.8 360.8 L768.9 361.7 L769.0 362.6 L769.1 363.5 L769.3 364.4 L769.4 365.2 L769.6 366.1 L769.8 367.0 L770.0 367.8 L770.1 368.7 L770.3 369.6 L770.5 370.4 L770.6 371.3" fill="none" stroke="#1d1d1f" stroke-width="15.00" stroke-linejoin="round"/>
<path d="M947.0 170.3 L946.9 170.8 L946.7 171.3 L946.6 171.8 L946.5 172.3 L946.3 172.8 L946.2 173.2 L946.1 173.7 L946.0 174.2 L945.8 174.8 L945.7 175.3 L945.5 175.9 L945.4 176.6 L945.2 177.3 L945.0 178.0 L944.5 180.0 L943.9 182.3 L943.3 185.0 L942.6 187.9 L941.9 191.0 L941.1 194.2 L940.3 197.6 L939.5 201.0 L938.6 204.4 L937.7 207.8 L936.8 211.1 L936.0 214.3 L935.1 217.2 L934.2 220.0 L933.5 222.1 L932.8 224.2 L932.1 226.2 L931.4 228.3 L930.6 230.3 L929.9 232.2 L929.2 234.1 L928.4 236.0 L927.6 237.8 L926.9 239.6 L926.1 241.4 L925.3 243.1 L924.4 244.8 L923.6 246.4 L922.9 247.7 L922.2 249.0 L921.6 250.3 L920.9 251.5 L920.2 252.7 L919.6 253.9 L918.9 255.1 L918.2 256.2 L917.4 257.3 L916.6 258.4 L915.8 259.4 L914.9 260.4 L914.0 261.3 L913.0 262.2 L911.9 263.1 L910.7 264.0 L909.5 264.8 L908.2 265.5 L906.9 266.3 L905.6 267.0 L904.2 267.6 L902.7 268.2 L901.3 268.8 L899.8 269.3 L898.3 269.8 L896.8 270.2 L895.2 270.6 L893.7 271.0 L891.9 271.3 L890.0 271.6 L888.1 271.7 L886.1 271.7 L884.1 271.7 L882.0 271.7 L879.9 271.6 L877.8 271.4 L875.8 271.3 L873.7 271.2 L871.6 271.1 L869.6 271.0 L867.6 271.0 L865.6 271.0 L863.8 271.1 L862.0 271.1 L860.2 271.2 L858.5 271.3 L856.7 271.4 L855.0 271.5 L853.2 271.6 L851.5 271.7 L849.8 271.9 L848.0 272.0 L846.3 272.2 L844.5 272.4 L842.7 272.6 L840.9 272.8 L838.9 273.0 L836.9 273.3 L834.9 273.5 L832.9 273.8 L830.8 274.0 L828.8 274.3 L826.7 274.6 L824.7 274.9 L822.6 275.3 L820.6 275.7 L818.6 276.2 L816.6 276.8 L814.7 277.4 L812.8 278.1 L810.9 278.9 L809.0 279.7 L807.0 280.6 L805.1 281.6 L803.1 282.6 L801.2 283.7 L799.3 284.8 L797.5 285.9 L795.7 287.1 L794.0 288.4 L792.4 289.7 L790.9 291.1 L789.4 292.5 L788.1 293.9 L786.9 295.3 L785.8 296.8 L784.7 298.3 L783.6 300.0 L782.6 301.6 L781.6 303.3 L780.7 305.1 L780.0 306.8 L779.3 308.5 L778.7 310.3 L778.2 312.0 L777.9 313.6 L777.7 315.2 L777.6 316.8 L777.7 318.2 L777.9 319.6 L778.2 321.0 L778.5 322.4 L779.0 323.8 L779.6 325.2 L780.2 326.5 L780.9 327.8 L781.7 329.1 L782.5 330.3 L783.4 331.5 L784.4 332.6 L785.4 333.5 L786.4 334.4 L787.6 335.3 L789.0 336.0 L790.4 336.7 L792.0 337.3 L793.6 337.9 L795.3 338.3 L797.1 338.7 L798.8 339.0 L800.6 339.3 L802.4 339.5 L804.2 339.6 L806.0 339.6 L807.7 339.7 L809.3 339.6 L810.9 339.5 L812.4 339.3 L814.0 339.0 L815.6 338.7 L817.3 338.3 L818.8 337.9 L820.4 337.4 L822.0 336.8 L823.5 336.2 L825.0 335.6 L826.4 334.9 L827.8 334.2 L829.1 333.4 L830.4 332.6 L831.5 331.8 L832.6 331.0 L833.7 330.2 L834.8 329.3 L835.8 328.3 L836.8 327.4 L837.7 326.4 L838.6 325.3 L839.5 324.2 L840.3 323.2 L841.0 322.0 L841.6 320.9 L842.2 319.7 L842.7 318.5 L843.1 317.2 L843.4 315.8 L843.6 314.4 L843.7 313.0 L843.8 311.5 L843.7 310.0 L843.6 308.4 L843.5 306.9 L843.4 305.3 L843.2 303.7 L843.0 302.1 L842.9 300.6 L842.8 299.0 L842.7 297.4 L842.6 295.7 L842.5 293.9 L842.4 292.2 L842.2 290.4 L842.0 288.6 L841.8 286.8 L841.7 285.0 L841.5 283.2 L841.3 281.4 L841.2 279.6 L841.0 277.8 L841.0 276.1 L840.9 274.4 L840.9 272.8 L840.9 271.4 L840.9 270.1 L840.9 268.7 L840.8 267.4 L840.8 266.1 L840.8 264.7 L840.8 263.4 L840.9 262.2 L841.0 260.9 L841.2 259.7 L841.4 258.5 L841.8 257.4 L842.2 256.3 L842.7 255.2 L843.4 254.1 L844.2 253.0 L845.0 252.0 L846.0 250.9 L847.0 249.9 L848.2 249.0 L849.3 248.1 L850.6 247.2 L851.8 246.3 L853.1 245.5 L854.5 244.8 L855.8 244.1 L857.2 243.5 L858.5 242.9 L860.0 242.3 L861.6 241.8 L863.3 241.4 L865.0 241.0 L866.8 240.7 L868.6 240.5 L870.4 240.3 L872.2 240.1 L874.1 240.0 L876.0 240.0 L877.8 240.0 L879.6 240.0 L881.4 240.1 L883.2 240.2 L885.0 240.4 L886.8 240.6 L888.6 240.8 L890.4 241.1 L892.2 241.5 L894.0 241.9 L895.8 242.3 L897.6 242.8 L899.4 243.3 L901.1 243.9 L902.8 244.5 L904.5 245.1 L906.2 245.7 L907.8 246.4 L909.3 247.1 L910.9 247.8 L912.5 248.5 L914.0 249.3 L915.6 250.1 L917.1 250.9 L918.6 251.8 L920.0 252.7 L921.4 253.6 L922.7 254.6 L924.0 255.6 L925.1 256.6 L926.2 257.6 L927.1 258.7 L927.8 259.6 L928.4 260.5 L929.0 261.4 L929.6 262.4 L930.1 263.4 L930.5 264.4 L930.9 265.4 L931.3 266.4 L931.6 267.5 L931.9 268.5 L932.1 269.6 L932.2 270.7 L932.3 271.7 L932.4 272.8 L932.4 274.0 L932.3 275.3 L932.2 276.5 L932.0 277.8 L931.8 279.2 L931.5 280.5 L931.1 281.8 L930.7 283.2 L930.3 284.5 L929.7 285.7 L929.1 287.0 L928.5 288.2 L927.8 289.3 L927.1 290.4 L926.2 291.5 L925.3 292.6 L924.2 293.6 L923.1 294.6 L922.0 295.6 L920.7 296.5 L919.4 297.4 L918.1 298.3 L916.7 299.1 L915.3 299.9 L913.9 300.7 L912.4 301.4 L911.0 302.1 L909.5 302.7 L907.8 303.4 L906.1 304.0 L904.4 304.5 L902.6 305.0 L900.8 305.4 L898.9 305.8 L897.0 306.2 L895.1 306.5 L893.2 306.8 L891.2 307.1 L889.2 307.3 L887.2 307.5 L885.2 307.8 L883.2 308.0 L880.8 308.2 L878.4 308.4 L875.9 308.5 L873.4 308.6 L870.8 308.6 L868.2 308.6 L865.6 308.6 L863.0 308.6 L860.4 308.6 L857.8 308.6 L855.3 308.6 L852.8 308.6 L850.4 308.7 L848.0 308.8 L846.0 308.9 L844.0 309.0 L842.0 309.2 L840.1 309.3 L838.2 309.4 L836.3 309.6 L834.4 309.7 L832.5 309.9 L830.7 310.1 L828.9 310.3 L827.0 310.6 L825.2 310.8 L823.4 311.2 L821.6 311.5 L819.9 311.9 L818.2 312.2 L816.5 312.7 L814.8 313.1 L813.1 313.5 L811.4 314.0 L809.7 314.5 L808.0 315.0 L806.4 315.6 L804.8 316.1 L803.2 316.7 L801.7 317.3 L800.2 317.9 L798.7 318.5 L797.4 319.0 L796.2 319.6 L795.0 320.1 L793.7 320.6 L792.6 321.2 L791.4 321.7 L790.2 322.3 L789.1 322.9 L788.0 323.6 L786.9 324.2 L785.9 324.9 L784.8 325.7 L783.9 326.5 L782.9 327.3 L781.9 328.2 L781.0 329.2 L780.1 330.2 L779.2 331.3 L778.4 332.4 L777.6 333.6 L776.8 334.7 L776.0 335.9 L775.3 337.1 L774.6 338.4 L774.0 339.6 L773.4 340.8 L772.8 342.0 L772.3 343.2 L771.9 344.3 L771.4 345.4 L771.0 346.5 L770.7 347.7 L770.4 348.8 L770.1 350.0 L769.8 351.1 L769.6 352.3 L769.4 353.5 L769.2 354.6 L769.1 355.7 L768.9 356.8 L768.9 357.9 L768.8 359.0 L768.8 359.9 L768.8 360.8 L768.9 361.7 L769.0 362.6 L769.1 363.5 L769.3 364.4 L769.4 365.2 L769.6 366.1 L769.8 367.0 L770.0 367.8 L770.1 368.7 L770.3 369.6 L770.5 370.4 L770.6 371.3" fill="none" stroke="#0cb0ec" stroke-width="11.40" stroke-linejoin="round"/>
<circle cx="770.6" cy="371.3" r="5.70" fill="#0cb0ec"/>
<path d="M931.4 228.3 L930.6 230.3 L929.9 232.2 L929.2 234.1 L928.4 236.0 L927.6 237.8 L926.9 239.6 L926.1 241.4 L925.3 243.1 L924.4 244.8 L923.6 246.4 L922.9 247.7 L922.2 249.0 L921.6 250.3 L920.9 251.5 L920.2 252.7 L919.6 253.9 L918.9 255.1 L918.2 256.2 L917.4 257.3 L916.6 258.4 L915.8 259.4 L914.9 260.4 L914.0 261.3 L913.0 262.2 L911.9 263.1" fill="none" stroke="#1d1d1f" stroke-width="15.00" stroke-linejoin="round"/>
<path d="M932.1 226.2 L931.4 228.3 L930.6 230.3 L929.9 232.2 L929.2 234.1 L928.4 236.0 L927.6 237.8 L926.9 239.6 L926.1 241.4 L925.3 243.1 L924.4 244.8 L923.6 246.4 L922.9 247.7 L922.2 249.0 L921.6 250.3 L920.9 251.5 L920.2 252.7 L919.6 253.9 L918.9 255.1 L918.2 256.2 L917.4 257.3 L916.6 258.4 L915.8 259.4 L914.9 260.4 L914.0 261.3 L913.0 262.2 L911.9 263.1 L910.7 264.0" fill="none" stroke="#0cb0ec" stroke-width="11.40" stroke-linejoin="round"/>
<path d="M841.5 283.2 L841.3 281.4 L841.2 279.6 L841.0 277.8 L841.0 276.1 L840.9 274.4 L840.9 272.8 L840.9 271.4 L840.9 270.1 L840.9 268.7 L840.8 267.4 L840.8 266.1 L840.8 264.7 L840.8 263.4 L840.9 262.2 L841.0 260.9 L841.2 259.7 L841.4 258.5 L841.8 257.4 L842.2 256.3 L842.7 255.2 L843.4 254.1 L844.2 253.0 L845.0 252.0 L846.0 250.9 L847.0 249.9 L848.2 249.0" fill="none" stroke="#1d1d1f" stroke-width="15.00" stroke-linejoin="round"/>
<path d="M841.7 285.0 L841.5 283.2 L841.3 281.4 L841.2 279.6 L841.0 277.8 L841.0 276.1 L840.9 274.4 L840.9 272.8 L840.9 271.4 L840.9 270.1 L840.9 268.7 L840.8 267.4 L840.8 266.1 L840.8 264.7 L840.8 263.4 L840.9 262.2 L841.0 260.9 L841.2 259.7 L841.4 258.5 L841.8 257.4 L842.2 256.3 L842.7 255.2 L843.4 254.1 L844.2 253.0 L845.0 252.0 L846.0 250.9 L847.0 249.9 L848.2 249.0 L849.3 248.1" fill="none" stroke="#0cb0ec" stroke-width="11.40" stroke-linejoin="round"/>
<path d="M873.4 308.6 L870.8 308.6 L868.2 308.6 L865.6 308.6 L863.0 308.6 L860.4 308.6 L857.8 308.6 L855.3 308.6 L852.8 308.6 L850.4 308.7 L848.0 308.8 L846.0 308.9 L844.0 309.0 L842.0 309.2 L840.1 309.3 L838.2 309.4 L836.3 309.6 L834.4 309.7 L832.5 309.9 L830.7 310.1 L828.9 310.3 L827.0 310.6 L825.2 310.8 L823.4 311.2 L821.6 311.5 L819.9 311.9 L818.2 312.2 L816.5 312.7 L814.8 313.1 L813.1 313.5 L811.4 314.0 L809.7 314.5" fill="none" stroke="#1d1d1f" stroke-width="15.00" stroke-linejoin="round"/>
<path d="M875.9 308.5 L873.4 308.6 L870.8 308.6 L868.2 308.6 L865.6 308.6 L863.0 308.6 L860.4 308.6 L857.8 308.6 L855.3 308.6 L852.8 308.6 L850.4 308.7 L848.0 308.8 L846.0 308.9 L844.0 309.0 L842.0 309.2 L840.1 309.3 L838.2 309.4 L836.3 309.6 L834.4 309.7 L832.5 309.9 L830.7 310.1 L828.9 310.3 L827.0 310.6 L825.2 310.8 L823.4 311.2 L821.6 311.5 L819.9 311.9 L818.2 312.2 L816.5 312.7 L814.8 313.1 L813.1 313.5 L811.4 314.0 L809.7 314.5 L808.0 315.0" fill="none" stroke="#0cb0ec" stroke-width="11.40" stroke-linejoin="round"/>
<path d="M781.6 303.3 L780.7 305.1 L780.0 306.8 L779.3 308.5 L778.7 310.3 L778.2 312.0 L777.9 313.6 L777.7 315.2 L777.6 316.8 L777.7 318.2 L777.9 319.6 L778.2 321.0 L778.5 322.4 L779.0 323.8 L779.6 325.2 L780.2 326.5 L780.9 327.8 L781.7 329.1 L782.5 330.3 L783.4 331.5 L784.4 332.6 L785.4 333.5 L786.4 334.4 L787.6 335.3 L789.0 336.0 L790.4 336.7 L792.0 337.3 L793.6 337.9 L795.3 338.3 L797.1 338.7" fill="none" stroke="#1d1d1f" stroke-width="15.00" stroke-linejoin="round"/>
<path d="M782.6 301.6 L781.6 303.3 L780.7 305.1 L780.0 306.8 L779.3 308.5 L778.7 310.3 L778.2 312.0 L777.9 313.6 L777.7 315.2 L777.6 316.8 L777.7 318.2 L777.9 319.6 L778.2 321.0 L778.5 322.4 L779.0 323.8 L779.6 325.2 L780.2 326.5 L780.9 327.8 L781.7 329.1 L782.5 330.3 L783.4 331.5 L784.4 332.6 L785.4 333.5 L786.4 334.4 L787.6 335.3 L789.0 336.0 L790.4 336.7 L792.0 337.3 L793.6 337.9 L795.3 338.3 L797.1 338.7 L798.8 339.0" fill="none" stroke="#0cb0ec" stroke-width="11.40" stroke-linejoin="round"/></g>
<path d="M372.0 555.6 L371.8 556.8 L371.6 558.0 L371.4 559.2 L371.2 560.4 L370.9 561.6 L370.7 562.8 L370.5 564.0 L370.3 565.2 L370.1 566.4 L369.9 567.6 L369.8 568.8 L369.7 570.0 L369.7 571.2 L369.7 572.4 L369.8 573.7 L369.9 575.0 L370.0 576.4 L370.2 577.7 L370.4 579.1 L370.7 580.5 L371.0 581.9 L371.3 583.2 L371.6 584.6 L372.0 585.9 L372.4 587.2 L372.9 588.5 L373.4 589.7 L373.9 590.9 L374.4 592.0 L375.0 593.1 L375.6 594.2 L376.2 595.3 L376.9 596.4 L377.6 597.4 L378.3 598.4 L379.1 599.4 L379.9 600.4 L380.7 601.3 L381.5 602.3 L382.3 603.1 L383.2 604.0 L384.1 604.8 L385.0 605.6 L386.0 606.3 L386.9 607.0 L387.9 607.7 L389.0 608.4 L390.0 609.0 L391.1 609.6 L392.2 610.2 L393.3 610.8 L394.4 611.3 L395.5 611.8 L396.6 612.3 L397.8 612.7 L398.9 613.1 L400.0 613.5 L401.2 613.8 L402.3 614.1 L403.5 614.4 L404.6 614.6 L405.8 614.8 L407.0 615.0 L408.2 615.1 L409.4 615.3 L410.6 615.4 L411.9 615.5 L413.1 615.6 L414.3 615.8 L415.6 615.9 L417.0 616.0 L418.4 616.2 L419.8 616.3 L421.3 616.3 L422.7 616.4 L424.2 616.5 L425.7 616.5 L427.1 616.6 L428.6 616.6 L430.1 616.7 L431.6 616.7 L433.1 616.8 L434.5 616.8 L436.0 616.9" fill="none" stroke="#f3351d" stroke-width="7.40" stroke-linecap="butt" stroke-linejoin="round"/>
<polygon points="420.2,603.4 432.2,602.5 448.4,616.4 434.1,632.6 423,633 437.3,616.9" fill="#f3351d"/>
<g clip-path="url(#cl3)"><circle cx="380.0" cy="540.3" r="9.50" fill="#1d1d1f"/>
<path d="M433.4 438.6 L433.4 439.2 L433.4 439.7 L433.4 440.2 L433.4 440.8 L433.4 441.3 L433.4 441.8 L433.4 442.3 L433.3 442.9 L433.3 443.4 L433.3 444.0 L433.3 444.6 L433.3 445.2 L433.3 445.9 L433.3 446.6 L433.3 447.9 L433.3 449.3 L433.3 450.8 L433.2 452.4 L433.2 454.1 L433.2 455.9 L433.2 457.6 L433.2 459.5 L433.2 461.3 L433.1 463.1 L433.1 464.9 L433.1 466.6 L433.0 468.4 L433.0 470.0 L433.0 471.5 L432.9 472.9 L432.9 474.4 L432.9 475.8 L432.9 477.3 L432.9 478.7 L432.8 480.1 L432.8 481.5 L432.8 483.0 L432.7 484.4 L432.6 485.8 L432.5 487.2 L432.4 488.6 L432.2 490.0 L432.0 491.4 L431.8 492.7 L431.6 494.1 L431.4 495.4 L431.1 496.7 L430.8 498.0 L430.6 499.3 L430.3 500.7 L429.9 502.0 L429.6 503.4 L429.2 504.8 L428.8 506.3 L428.4 507.8 L428.0 509.4 L427.3 511.8 L426.6 514.2 L425.8 516.8 L424.9 519.5 L424.0 522.2 L423.1 525.0 L422.1 527.8 L421.1 530.7 L420.1 533.6 L419.1 536.5 L418.1 539.3 L417.1 542.2 L416.1 545.0 L415.2 547.8 L414.3 550.5 L413.3 553.3 L412.3 556.0 L411.4 558.8 L410.4 561.5 L409.4 564.3 L408.4 567.1 L407.5 569.8 L406.5 572.5 L405.6 575.3 L404.7 578.0 L403.9 580.7 L403.1 583.4 L402.4 586.1 L401.7 588.6 L401.0 591.1 L400.3 593.6 L399.6 596.2 L398.9 598.7 L398.2 601.2 L397.6 603.7 L397.1 606.2 L396.6 608.6 L396.2 611.0 L395.9 613.4 L395.8 615.7 L395.8 618.0 L396.0 620.2 L396.3 622.1 L396.6 624.0 L397.1 625.9 L397.6 627.8 L398.2 629.7 L398.8 631.5 L399.6 633.3 L400.4 635.1 L401.3 636.7 L402.2 638.3 L403.2 639.8 L404.3 641.2 L405.5 642.5 L406.7 643.6 L408.0 644.6 L409.4 645.5 L410.8 646.3 L412.4 647.0 L414.0 647.7 L415.8 648.3 L417.5 648.8 L419.3 649.2 L421.1 649.5 L422.9 649.8 L424.8 649.9 L426.6 650.0 L428.4 650.1 L430.1 650.0 L432.0 649.8 L434.0 649.6 L436.0 649.2 L438.1 648.7 L440.2 648.1 L442.2 647.5 L444.3 646.7 L446.4 645.9 L448.4 644.9 L450.4 643.9 L452.3 642.9 L454.2 641.7 L456.1 640.5 L457.8 639.3 L459.6 637.9 L461.5 636.3 L463.3 634.6 L465.0 632.9 L466.8 631.0 L468.4 629.1 L470.1 627.1 L471.6 625.0 L473.1 622.9 L474.5 620.7 L475.8 618.5 L477.0 616.2 L478.1 614.0 L479.1 611.7 L480.0 609.2 L480.8 606.7 L481.6 604.1 L482.2 601.4 L482.8 598.6 L483.2 595.8 L483.6 592.9 L483.8 590.1 L484.0 587.2 L484.0 584.4 L484.0 581.5 L483.9 578.7 L483.6 576.0 L483.3 573.3 L482.9 570.6 L482.3 567.9 L481.6 565.1 L480.8 562.4 L479.9 559.6 L478.9 556.9 L477.8 554.2 L476.6 551.6 L475.4 549.0 L474.1 546.4 L472.7 543.9 L471.3 541.6 L469.9 539.3 L468.4 537.1 L467.0 535.2 L465.6 533.3 L464.1 531.5 L462.6 529.7 L461.0 528.0 L459.3 526.3 L457.6 524.7 L455.9 523.1 L454.1 521.7 L452.3 520.3 L450.5 519.0 L448.7 517.8 L446.9 516.8 L445.0 515.8 L443.3 515.0 L441.5 514.3 L439.7 513.7 L437.9 513.2 L436.1 512.8 L434.2 512.4 L432.3 512.1 L430.4 511.8 L428.5 511.7 L426.6 511.5 L424.8 511.5 L423.0 511.5 L421.2 511.5 L419.4 511.6 L417.8 511.7 L416.2 511.9 L414.6 512.2 L413.0 512.5 L411.4 512.9 L409.8 513.3 L408.3 513.7 L406.7 514.2 L405.2 514.8 L403.7 515.3 L402.3 516.0 L400.8 516.6 L399.4 517.3 L398.1 518.0 L396.9 518.7 L395.6 519.5 L394.4 520.3 L393.1 521.1 L391.9 522.0 L390.7 522.9 L389.6 523.9 L388.5 524.9 L387.4 525.8 L386.4 526.8 L385.5 527.8 L384.6 528.8 L383.9 529.8 L383.2 530.7 L382.8 531.4 L382.4 532.1 L382.1 532.7 L381.8 533.4 L381.6 534.1 L381.4 534.8 L381.2 535.5 L381.0 536.2 L380.9 536.9 L380.7 537.5 L380.6 538.2 L380.4 538.9 L380.2 539.6 L380.0 540.3" fill="none" stroke="#1d1d1f" stroke-width="19.00" stroke-linejoin="round"/>
<path d="M433.4 438.6 L433.4 439.2 L433.4 439.7 L433.4 440.2 L433.4 440.8 L433.4 441.3 L433.4 441.8 L433.4 442.3 L433.3 442.9 L433.3 443.4 L433.3 444.0 L433.3 444.6 L433.3 445.2 L433.3 445.9 L433.3 446.6 L433.3 447.9 L433.3 449.3 L433.3 450.8 L433.2 452.4 L433.2 454.1 L433.2 455.9 L433.2 457.6 L433.2 459.5 L433.2 461.3 L433.1 463.1 L433.1 464.9 L433.1 466.6 L433.0 468.4 L433.0 470.0 L433.0 471.5 L432.9 472.9 L432.9 474.4 L432.9 475.8 L432.9 477.3 L432.9 478.7 L432.8 480.1 L432.8 481.5 L432.8 483.0 L432.7 484.4 L432.6 485.8 L432.5 487.2 L432.4 488.6 L432.2 490.0 L432.0 491.4 L431.8 492.7 L431.6 494.1 L431.4 495.4 L431.1 496.7 L430.8 498.0 L430.6 499.3 L430.3 500.7 L429.9 502.0 L429.6 503.4 L429.2 504.8 L428.8 506.3 L428.4 507.8 L428.0 509.4 L427.3 511.8 L426.6 514.2 L425.8 516.8 L424.9 519.5 L424.0 522.2 L423.1 525.0 L422.1 527.8 L421.1 530.7 L420.1 533.6 L419.1 536.5 L418.1 539.3 L417.1 542.2 L416.1 545.0 L415.2 547.8 L414.3 550.5 L413.3 553.3 L412.3 556.0 L411.4 558.8 L410.4 561.5 L409.4 564.3 L408.4 567.1 L407.5 569.8 L406.5 572.5 L405.6 575.3 L404.7 578.0 L403.9 580.7 L403.1 583.4 L402.4 586.1 L401.7 588.6 L401.0 591.1 L400.3 593.6 L399.6 596.2 L398.9 598.7 L398.2 601.2 L397.6 603.7 L397.1 606.2 L396.6 608.6 L396.2 611.0 L395.9 613.4 L395.8 615.7 L395.8 618.0 L396.0 620.2 L396.3 622.1 L396.6 624.0 L397.1 625.9 L397.6 627.8 L398.2 629.7 L398.8 631.5 L399.6 633.3 L400.4 635.1 L401.3 636.7 L402.2 638.3 L403.2 639.8 L404.3 641.2 L405.5 642.5 L406.7 643.6 L408.0 644.6 L409.4 645.5 L410.8 646.3 L412.4 647.0 L414.0 647.7 L415.8 648.3 L417.5 648.8 L419.3 649.2 L421.1 649.5 L422.9 649.8 L424.8 649.9 L426.6 650.0 L428.4 650.1 L430.1 650.0 L432.0 649.8 L434.0 649.6 L436.0 649.2 L438.1 648.7 L440.2 648.1 L442.2 647.5 L444.3 646.7 L446.4 645.9 L448.4 644.9 L450.4 643.9 L452.3 642.9 L454.2 641.7 L456.1 640.5 L457.8 639.3 L459.6 637.9 L461.5 636.3 L463.3 634.6 L465.0 632.9 L466.8 631.0 L468.4 629.1 L470.1 627.1 L471.6 625.0 L473.1 622.9 L474.5 620.7 L475.8 618.5 L477.0 616.2 L478.1 614.0 L479.1 611.7 L480.0 609.2 L480.8 606.7 L481.6 604.1 L482.2 601.4 L482.8 598.6 L483.2 595.8 L483.6 592.9 L483.8 590.1 L484.0 587.2 L484.0 584.4 L484.0 581.5 L483.9 578.7 L483.6 576.0 L483.3 573.3 L482.9 570.6 L482.3 567.9 L481.6 565.1 L480.8 562.4 L479.9 559.6 L478.9 556.9 L477.8 554.2 L476.6 551.6 L475.4 549.0 L474.1 546.4 L472.7 543.9 L471.3 541.6 L469.9 539.3 L468.4 537.1 L467.0 535.2 L465.6 533.3 L464.1 531.5 L462.6 529.7 L461.0 528.0 L459.3 526.3 L457.6 524.7 L455.9 523.1 L454.1 521.7 L452.3 520.3 L450.5 519.0 L448.7 517.8 L446.9 516.8 L445.0 515.8 L443.3 515.0 L441.5 514.3 L439.7 513.7 L437.9 513.2 L436.1 512.8 L434.2 512.4 L432.3 512.1 L430.4 511.8 L428.5 511.7 L426.6 511.5 L424.8 511.5 L423.0 511.5 L421.2 511.5 L419.4 511.6 L417.8 511.7 L416.2 511.9 L414.6 512.2 L413.0 512.5 L411.4 512.9 L409.8 513.3 L408.3 513.7 L406.7 514.2 L405.2 514.8 L403.7 515.3 L402.3 516.0 L400.8 516.6 L399.4 517.3 L398.1 518.0 L396.9 518.7 L395.6 519.5 L394.4 520.3 L393.1 521.1 L391.9 522.0 L390.7 522.9 L389.6 523.9 L388.5 524.9 L387.4 525.8 L386.4 526.8 L385.5 527.8 L384.6 528.8 L383.9 529.8 L383.2 530.7 L382.8 531.4 L382.4 532.1 L382.1 532.7 L381.8 533.4 L381.6 534.1 L381.4 534.8 L381.2 535.5 L381.0 536.2 L380.9 536.9 L380.7 537.5 L380.6 538.2 L380.4 538.9 L380.2 539.6 L380.0 540.3" fill="none" stroke="#0cb0ec" stroke-width="15.00" stroke-linejoin="round"/>
<circle cx="380.0" cy="540.3" r="7.50" fill="#0cb0ec"/>
<path d="M457.6 524.7 L455.9 523.1 L454.1 521.7 L452.3 520.3 L450.5 519.0 L448.7 517.8 L446.9 516.8 L445.0 515.8 L443.3 515.0 L441.5 514.3 L439.7 513.7 L437.9 513.2 L436.1 512.8 L434.2 512.4 L432.3 512.1 L430.4 511.8 L428.5 511.7 L426.6 511.5 L424.8 511.5 L423.0 511.5 L421.2 511.5 L419.4 511.6 L417.8 511.7 L416.2 511.9 L414.6 512.2 L413.0 512.5 L411.4 512.9 L409.8 513.3 L408.3 513.7 L406.7 514.2 L405.2 514.8 L403.7 515.3 L402.3 516.0 L400.8 516.6 L399.4 517.3 L398.1 518.0 L396.9 518.7 L395.6 519.5 L394.4 520.3 L393.1 521.1" fill="none" stroke="#1d1d1f" stroke-width="19.00" stroke-linejoin="round"/>
<path d="M459.3 526.3 L457.6 524.7 L455.9 523.1 L454.1 521.7 L452.3 520.3 L450.5 519.0 L448.7 517.8 L446.9 516.8 L445.0 515.8 L443.3 515.0 L441.5 514.3 L439.7 513.7 L437.9 513.2 L436.1 512.8 L434.2 512.4 L432.3 512.1 L430.4 511.8 L428.5 511.7 L426.6 511.5 L424.8 511.5 L423.0 511.5 L421.2 511.5 L419.4 511.6 L417.8 511.7 L416.2 511.9 L414.6 512.2 L413.0 512.5 L411.4 512.9 L409.8 513.3 L408.3 513.7 L406.7 514.2 L405.2 514.8 L403.7 515.3 L402.3 516.0 L400.8 516.6 L399.4 517.3 L398.1 518.0 L396.9 518.7 L395.6 519.5 L394.4 520.3 L393.1 521.1 L391.9 522.0" fill="none" stroke="#0cb0ec" stroke-width="15.00" stroke-linejoin="round"/></g>
<g clip-path="url(#cl4)"><circle cx="829.5" cy="626.4" r="9.50" fill="#1d1d1f"/>
<path d="M735.6 431.4 L735.6 432.0 L735.6 432.5 L735.6 433.0 L735.6 433.5 L735.6 434.0 L735.5 434.6 L735.5 435.1 L735.5 435.6 L735.5 436.2 L735.5 436.7 L735.5 437.3 L735.4 438.0 L735.4 438.7 L735.4 439.4 L735.4 441.0 L735.3 442.7 L735.3 444.7 L735.2 446.7 L735.2 448.9 L735.1 451.1 L735.1 453.5 L735.0 455.9 L735.0 458.3 L734.9 460.7 L734.8 463.1 L734.7 465.5 L734.6 467.8 L734.5 470.0 L734.4 472.2 L734.2 474.4 L734.1 476.6 L734.0 478.8 L733.8 481.0 L733.6 483.2 L733.5 485.4 L733.3 487.6 L733.1 489.8 L732.9 491.9 L732.7 494.0 L732.5 496.0 L732.2 498.0 L732.0 500.0 L731.8 501.6 L731.6 503.1 L731.3 504.5 L731.1 505.9 L730.9 507.3 L730.6 508.7 L730.4 510.1 L730.1 511.4 L729.8 512.8 L729.6 514.2 L729.3 515.6 L729.1 517.0 L728.8 518.5 L728.6 520.0 L728.3 521.8 L728.1 523.6 L727.9 525.4 L727.7 527.3 L727.5 529.2 L727.2 531.1 L727.0 533.0 L726.8 534.9 L726.6 536.8 L726.3 538.8 L726.1 540.7 L725.8 542.6 L725.5 544.5 L725.1 546.4 L724.7 548.3 L724.3 550.2 L723.9 552.1 L723.4 554.0 L722.9 555.9 L722.4 557.8 L721.9 559.6 L721.4 561.5 L720.9 563.4 L720.3 565.3 L719.8 567.2 L719.2 569.0 L718.7 570.9 L718.1 572.8 L717.5 574.7 L716.9 576.6 L716.3 578.5 L715.6 580.4 L715.0 582.3 L714.3 584.2 L713.7 586.1 L713.0 588.0 L712.4 589.9 L711.7 591.8 L711.1 593.7 L710.5 595.5 L709.9 597.4 L709.3 599.2 L708.8 600.9 L708.2 602.5 L707.7 604.2 L707.1 605.8 L706.6 607.5 L706.0 609.1 L705.5 610.7 L705.0 612.3 L704.6 614.0 L704.2 615.6 L703.8 617.2 L703.5 618.8 L703.3 620.4 L703.1 622.0 L703.0 623.5 L702.9 625.1 L702.9 626.7 L702.9 628.3 L702.9 629.9 L703.0 631.5 L703.2 633.1 L703.3 634.7 L703.6 636.2 L703.9 637.7 L704.2 639.2 L704.6 640.6 L705.1 641.9 L705.7 643.2 L706.3 644.3 L706.9 645.4 L707.6 646.4 L708.4 647.5 L709.2 648.5 L710.1 649.4 L711.0 650.4 L711.9 651.2 L712.9 652.1 L713.9 652.9 L714.9 653.6 L716.0 654.3 L717.0 654.9 L718.1 655.5 L719.2 656.0 L720.3 656.5 L721.5 656.9 L722.7 657.2 L724.0 657.5 L725.2 657.7 L726.5 657.9 L727.8 658.1 L729.1 658.2 L730.4 658.2 L731.7 658.2 L733.0 658.2 L734.3 658.2 L735.6 658.1 L737.0 658.0 L738.4 657.8 L739.8 657.6 L741.2 657.3 L742.6 657.0 L744.0 656.6 L745.5 656.2 L746.9 655.7 L748.3 655.2 L749.7 654.7 L751.1 654.1 L752.4 653.4 L753.7 652.7 L755.0 652.0 L756.4 651.1 L757.8 650.1 L759.1 649.1 L760.5 647.9 L761.8 646.8 L763.1 645.5 L764.4 644.2 L765.7 642.9 L766.9 641.5 L768.1 640.1 L769.3 638.7 L770.4 637.3 L771.5 635.8 L772.6 634.4 L773.7 632.9 L774.8 631.4 L775.8 629.8 L776.8 628.2 L777.9 626.6 L778.8 625.0 L779.8 623.3 L780.7 621.6 L781.5 619.9 L782.3 618.2 L783.1 616.5 L783.8 614.8 L784.4 613.2 L784.9 611.5 L785.3 610.0 L785.7 608.5 L786.0 607.0 L786.3 605.5 L786.5 604.0 L786.7 602.5 L786.9 601.0 L787.0 599.5 L787.0 598.0 L787.0 596.5 L787.0 595.0 L787.0 593.4 L786.8 591.9 L786.7 590.4 L786.5 588.8 L786.3 587.1 L786.0 585.4 L785.6 583.7 L785.3 582.0 L784.8 580.3 L784.4 578.6 L783.8 576.9 L783.3 575.3 L782.6 573.7 L782.0 572.0 L781.2 570.5 L780.4 569.0 L779.6 567.5 L778.7 566.0 L777.7 564.6 L776.7 563.2 L775.6 561.7 L774.4 560.4 L773.2 559.0 L771.9 557.7 L770.6 556.4 L769.3 555.2 L767.9 554.0 L766.5 552.9 L765.0 551.8 L763.5 550.8 L762.0 549.9 L760.4 549.0 L758.7 548.2 L756.9 547.5 L755.1 546.8 L753.2 546.2 L751.3 545.6 L749.3 545.1 L747.4 544.7 L745.4 544.3 L743.4 543.9 L741.4 543.6 L739.5 543.3 L737.5 543.1 L735.6 542.9 L733.7 542.7 L731.8 542.6 L729.9 542.5 L728.0 542.5 L726.1 542.4 L724.2 542.5 L722.3 542.5 L720.4 542.7 L718.5 542.8 L716.6 543.1 L714.7 543.4 L712.9 543.7 L711.1 544.1 L709.3 544.6 L707.5 545.1 L705.7 545.7 L703.9 546.4 L702.0 547.1 L700.2 547.9 L698.4 548.7 L696.6 549.6 L694.9 550.5 L693.2 551.5 L691.6 552.5 L690.1 553.6 L688.8 554.7 L687.5 555.8 L686.4 557.0 L685.6 558.1 L684.8 559.2 L684.0 560.3 L683.4 561.5 L682.8 562.7 L682.2 564.0 L681.7 565.3 L681.3 566.6 L680.9 567.9 L680.7 569.3 L680.4 570.6 L680.3 571.9 L680.2 573.2 L680.2 574.5 L680.3 575.9 L680.5 577.3 L680.7 578.7 L681.1 580.1 L681.6 581.6 L682.1 583.1 L682.7 584.5 L683.3 585.9 L684.0 587.4 L684.8 588.7 L685.5 590.1 L686.4 591.4 L687.2 592.7 L688.1 593.9 L689.0 595.1 L690.1 596.3 L691.1 597.5 L692.2 598.6 L693.4 599.7 L694.6 600.8 L695.9 601.8 L697.2 602.8 L698.5 603.8 L699.9 604.7 L701.3 605.6 L702.7 606.4 L704.2 607.2 L705.7 608.0 L707.4 608.8 L709.3 609.5 L711.1 610.2 L713.1 610.8 L715.0 611.3 L717.1 611.8 L719.1 612.2 L721.2 612.6 L723.3 613.0 L725.5 613.4 L727.6 613.8 L729.7 614.2 L731.8 614.6 L733.9 615.0 L736.1 615.4 L738.3 615.9 L740.5 616.3 L742.8 616.7 L745.0 617.1 L747.2 617.5 L749.5 617.9 L751.8 618.3 L754.1 618.6 L756.4 619.0 L758.6 619.3 L761.0 619.7 L763.3 620.0 L765.6 620.3 L768.1 620.6 L770.6 620.9 L773.1 621.2 L775.6 621.5 L778.2 621.7 L780.7 622.0 L783.3 622.2 L785.9 622.5 L788.4 622.7 L790.9 622.9 L793.5 623.1 L795.9 623.4 L798.4 623.6 L800.8 623.8 L802.9 624.0 L805.1 624.2 L807.1 624.4 L809.2 624.6 L811.3 624.8 L813.3 625.0 L815.3 625.1 L817.4 625.3 L819.4 625.5 L821.4 625.7 L823.4 625.9 L825.4 626.0 L827.5 626.2 L829.5 626.4" fill="none" stroke="#1d1d1f" stroke-width="19.00" stroke-linejoin="round"/>
<path d="M735.6 431.4 L735.6 432.0 L735.6 432.5 L735.6 433.0 L735.6 433.5 L735.6 434.0 L735.5 434.6 L735.5 435.1 L735.5 435.6 L735.5 436.2 L735.5 436.7 L735.5 437.3 L735.4 438.0 L735.4 438.7 L735.4 439.4 L735.4 441.0 L735.3 442.7 L735.3 444.7 L735.2 446.7 L735.2 448.9 L735.1 451.1 L735.1 453.5 L735.0 455.9 L735.0 458.3 L734.9 460.7 L734.8 463.1 L734.7 465.5 L734.6 467.8 L734.5 470.0 L734.4 472.2 L734.2 474.4 L734.1 476.6 L734.0 478.8 L733.8 481.0 L733.6 483.2 L733.5 485.4 L733.3 487.6 L733.1 489.8 L732.9 491.9 L732.7 494.0 L732.5 496.0 L732.2 498.0 L732.0 500.0 L731.8 501.6 L731.6 503.1 L731.3 504.5 L731.1 505.9 L730.9 507.3 L730.6 508.7 L730.4 510.1 L730.1 511.4 L729.8 512.8 L729.6 514.2 L729.3 515.6 L729.1 517.0 L728.8 518.5 L728.6 520.0 L728.3 521.8 L728.1 523.6 L727.9 525.4 L727.7 527.3 L727.5 529.2 L727.2 531.1 L727.0 533.0 L726.8 534.9 L726.6 536.8 L726.3 538.8 L726.1 540.7 L725.8 542.6 L725.5 544.5 L725.1 546.4 L724.7 548.3 L724.3 550.2 L723.9 552.1 L723.4 554.0 L722.9 555.9 L722.4 557.8 L721.9 559.6 L721.4 561.5 L720.9 563.4 L720.3 565.3 L719.8 567.2 L719.2 569.0 L718.7 570.9 L718.1 572.8 L717.5 574.7 L716.9 576.6 L716.3 578.5 L715.6 580.4 L715.0 582.3 L714.3 584.2 L713.7 586.1 L713.0 588.0 L712.4 589.9 L711.7 591.8 L711.1 593.7 L710.5 595.5 L709.9 597.4 L709.3 599.2 L708.8 600.9 L708.2 602.5 L707.7 604.2 L707.1 605.8 L706.6 607.5 L706.0 609.1 L705.5 610.7 L705.0 612.3 L704.6 614.0 L704.2 615.6 L703.8 617.2 L703.5 618.8 L703.3 620.4 L703.1 622.0 L703.0 623.5 L702.9 625.1 L702.9 626.7 L702.9 628.3 L702.9 629.9 L703.0 631.5 L703.2 633.1 L703.3 634.7 L703.6 636.2 L703.9 637.7 L704.2 639.2 L704.6 640.6 L705.1 641.9 L705.7 643.2 L706.3 644.3 L706.9 645.4 L707.6 646.4 L708.4 647.5 L709.2 648.5 L710.1 649.4 L711.0 650.4 L711.9 651.2 L712.9 652.1 L713.9 652.9 L714.9 653.6 L716.0 654.3 L717.0 654.9 L718.1 655.5 L719.2 656.0 L720.3 656.5 L721.5 656.9 L722.7 657.2 L724.0 657.5 L725.2 657.7 L726.5 657.9 L727.8 658.1 L729.1 658.2 L730.4 658.2 L731.7 658.2 L733.0 658.2 L734.3 658.2 L735.6 658.1 L737.0 658.0 L738.4 657.8 L739.8 657.6 L741.2 657.3 L742.6 657.0 L744.0 656.6 L745.5 656.2 L746.9 655.7 L748.3 655.2 L749.7 654.7 L751.1 654.1 L752.4 653.4 L753.7 652.7 L755.0 652.0 L756.4 651.1 L757.8 650.1 L759.1 649.1 L760.5 647.9 L761.8 646.8 L763.1 645.5 L764.4 644.2 L765.7 642.9 L766.9 641.5 L768.1 640.1 L769.3 638.7 L770.4 637.3 L771.5 635.8 L772.6 634.4 L773.7 632.9 L774.8 631.4 L775.8 629.8 L776.8 628.2 L777.9 626.6 L778.8 625.0 L779.8 623.3 L780.7 621.6 L781.5 619.9 L782.3 618.2 L783.1 616.5 L783.8 614.8 L784.4 613.2 L784.9 611.5 L785.3 610.0 L785.7 608.5 L786.0 607.0 L786.3 605.5 L786.5 604.0 L786.7 602.5 L786.9 601.0 L787.0 599.5 L787.0 598.0 L787.0 596.5 L787.0 595.0 L787.0 593.4 L786.8 591.9 L786.7 590.4 L786.5 588.8 L786.3 587.1 L786.0 585.4 L785.6 583.7 L785.3 582.0 L784.8 580.3 L784.4 578.6 L783.8 576.9 L783.3 575.3 L782.6 573.7 L782.0 572.0 L781.2 570.5 L780.4 569.0 L779.6 567.5 L778.7 566.0 L777.7 564.6 L776.7 563.2 L775.6 561.7 L774.4 560.4 L773.2 559.0 L771.9 557.7 L770.6 556.4 L769.3 555.2 L767.9 554.0 L766.5 552.9 L765.0 551.8 L763.5 550.8 L762.0 549.9 L760.4 549.0 L758.7 548.2 L756.9 547.5 L755.1 546.8 L753.2 546.2 L751.3 545.6 L749.3 545.1 L747.4 544.7 L745.4 544.3 L743.4 543.9 L741.4 543.6 L739.5 543.3 L737.5 543.1 L735.6 542.9 L733.7 542.7 L731.8 542.6 L729.9 542.5 L728.0 542.5 L726.1 542.4 L724.2 542.5 L722.3 542.5 L720.4 542.7 L718.5 542.8 L716.6 543.1 L714.7 543.4 L712.9 543.7 L711.1 544.1 L709.3 544.6 L707.5 545.1 L705.7 545.7 L703.9 546.4 L702.0 547.1 L700.2 547.9 L698.4 548.7 L696.6 549.6 L694.9 550.5 L693.2 551.5 L691.6 552.5 L690.1 553.6 L688.8 554.7 L687.5 555.8 L686.4 557.0 L685.6 558.1 L684.8 559.2 L684.0 560.3 L683.4 561.5 L682.8 562.7 L682.2 564.0 L681.7 565.3 L681.3 566.6 L680.9 567.9 L680.7 569.3 L680.4 570.6 L680.3 571.9 L680.2 573.2 L680.2 574.5 L680.3 575.9 L680.5 577.3 L680.7 578.7 L681.1 580.1 L681.6 581.6 L682.1 583.1 L682.7 584.5 L683.3 585.9 L684.0 587.4 L684.8 588.7 L685.5 590.1 L686.4 591.4 L687.2 592.7 L688.1 593.9 L689.0 595.1 L690.1 596.3 L691.1 597.5 L692.2 598.6 L693.4 599.7 L694.6 600.8 L695.9 601.8 L697.2 602.8 L698.5 603.8 L699.9 604.7 L701.3 605.6 L702.7 606.4 L704.2 607.2 L705.7 608.0 L707.4 608.8 L709.3 609.5 L711.1 610.2 L713.1 610.8 L715.0 611.3 L717.1 611.8 L719.1 612.2 L721.2 612.6 L723.3 613.0 L725.5 613.4 L727.6 613.8 L729.7 614.2 L731.8 614.6 L733.9 615.0 L736.1 615.4 L738.3 615.9 L740.5 616.3 L742.8 616.7 L745.0 617.1 L747.2 617.5 L749.5 617.9 L751.8 618.3 L754.1 618.6 L756.4 619.0 L758.6 619.3 L761.0 619.7 L763.3 620.0 L765.6 620.3 L768.1 620.6 L770.6 620.9 L773.1 621.2 L775.6 621.5 L778.2 621.7 L780.7 622.0 L783.3 622.2 L785.9 622.5 L788.4 622.7 L790.9 622.9 L793.5 623.1 L795.9 623.4 L798.4 623.6 L800.8 623.8 L802.9 624.0 L805.1 624.2 L807.1 624.4 L809.2 624.6 L811.3 624.8 L813.3 625.0 L815.3 625.1 L817.4 625.3 L819.4 625.5 L821.4 625.7 L823.4 625.9 L825.4 626.0 L827.5 626.2 L829.5 626.4" fill="none" stroke="#0cb0ec" stroke-width="15.00" stroke-linejoin="round"/>
<circle cx="829.5" cy="626.4" r="7.50" fill="#0cb0ec"/>
<path d="M749.5 617.9 L751.8 618.3 L754.1 618.6 L756.4 619.0 L758.6 619.3 L761.0 619.7 L763.3 620.0 L765.6 620.3 L768.1 620.6 L770.6 620.9 L773.1 621.2 L775.6 621.5 L778.2 621.7 L780.7 622.0 L783.3 622.2 L785.9 622.5 L788.4 622.7 L790.9 622.9 L793.5 623.1 L795.9 623.4 L798.4 623.6 L800.8 623.8 L802.9 624.0 L805.1 624.2 L807.1 624.4 L809.2 624.6 L811.3 624.8 L813.3 625.0 L815.3 625.1" fill="none" stroke="#1d1d1f" stroke-width="19.00" stroke-linejoin="round"/>
<path d="M747.2 617.5 L749.5 617.9 L751.8 618.3 L754.1 618.6 L756.4 619.0 L758.6 619.3 L761.0 619.7 L763.3 620.0 L765.6 620.3 L768.1 620.6 L770.6 620.9 L773.1 621.2 L775.6 621.5 L778.2 621.7 L780.7 622.0 L783.3 622.2 L785.9 622.5 L788.4 622.7 L790.9 622.9 L793.5 623.1 L795.9 623.4 L798.4 623.6 L800.8 623.8 L802.9 624.0 L805.1 624.2 L807.1 624.4 L809.2 624.6 L811.3 624.8 L813.3 625.0 L815.3 625.1 L817.4 625.3" fill="none" stroke="#0cb0ec" stroke-width="15.00" stroke-linejoin="round"/>
<path d="M715.6 580.4 L715.0 582.3 L714.3 584.2 L713.7 586.1 L713.0 588.0 L712.4 589.9 L711.7 591.8 L711.1 593.7 L710.5 595.5 L709.9 597.4 L709.3 599.2 L708.8 600.9 L708.2 602.5 L707.7 604.2 L707.1 605.8 L706.6 607.5 L706.0 609.1 L705.5 610.7 L705.0 612.3 L704.6 614.0 L704.2 615.6 L703.8 617.2 L703.5 618.8 L703.3 620.4 L703.1 622.0 L703.0 623.5 L702.9 625.1 L702.9 626.7 L702.9 628.3 L702.9 629.9 L703.0 631.5 L703.2 633.1" fill="none" stroke="#1d1d1f" stroke-width="19.00" stroke-linejoin="round"/>
<path d="M716.3 578.5 L715.6 580.4 L715.0 582.3 L714.3 584.2 L713.7 586.1 L713.0 588.0 L712.4 589.9 L711.7 591.8 L711.1 593.7 L710.5 595.5 L709.9 597.4 L709.3 599.2 L708.8 600.9 L708.2 602.5 L707.7 604.2 L707.1 605.8 L706.6 607.5 L706.0 609.1 L705.5 610.7 L705.0 612.3 L704.6 614.0 L704.2 615.6 L703.8 617.2 L703.5 618.8 L703.3 620.4 L703.1 622.0 L703.0 623.5 L702.9 625.1 L702.9 626.7 L702.9 628.3 L702.9 629.9 L703.0 631.5 L703.2 633.1 L703.3 634.7" fill="none" stroke="#0cb0ec" stroke-width="15.00" stroke-linejoin="round"/>
<path d="M755.1 546.8 L753.2 546.2 L751.3 545.6 L749.3 545.1 L747.4 544.7 L745.4 544.3 L743.4 543.9 L741.4 543.6 L739.5 543.3 L737.5 543.1 L735.6 542.9 L733.7 542.7 L731.8 542.6 L729.9 542.5 L728.0 542.5 L726.1 542.4 L724.2 542.5 L722.3 542.5 L720.4 542.7 L718.5 542.8 L716.6 543.1 L714.7 543.4 L712.9 543.7 L711.1 544.1 L709.3 544.6 L707.5 545.1 L705.7 545.7 L703.9 546.4 L702.0 547.1 L700.2 547.9 L698.4 548.7 L696.6 549.6 L694.9 550.5 L693.2 551.5 L691.6 552.5" fill="none" stroke="#1d1d1f" stroke-width="19.00" stroke-linejoin="round"/>
<path d="M756.9 547.5 L755.1 546.8 L753.2 546.2 L751.3 545.6 L749.3 545.1 L747.4 544.7 L745.4 544.3 L743.4 543.9 L741.4 543.6 L739.5 543.3 L737.5 543.1 L735.6 542.9 L733.7 542.7 L731.8 542.6 L729.9 542.5 L728.0 542.5 L726.1 542.4 L724.2 542.5 L722.3 542.5 L720.4 542.7 L718.5 542.8 L716.6 543.1 L714.7 543.4 L712.9 543.7 L711.1 544.1 L709.3 544.6 L707.5 545.1 L705.7 545.7 L703.9 546.4 L702.0 547.1 L700.2 547.9 L698.4 548.7 L696.6 549.6 L694.9 550.5 L693.2 551.5 L691.6 552.5 L690.1 553.6" fill="none" stroke="#0cb0ec" stroke-width="15.00" stroke-linejoin="round"/></g>
<polygon points="848.1,623.3 880.2,623.3 870.1,612.3 882.8,612.3 897.4,627.5 882.8,642.8 870.1,642.8 880.2,631.8 848.1,631.8" fill="#f3351d"/>
<circle cx="508.9" cy="943.7" r="7.25" fill="#1d1d1f"/>
<path d="M446.6 1111.0 L446.6 1108.8 L446.6 1106.6 L446.6 1104.3 L446.6 1102.1 L446.6 1099.9 L446.6 1097.7 L446.5 1095.5 L446.5 1093.2 L446.5 1091.0 L446.5 1088.8 L446.5 1086.6 L446.6 1084.4 L446.6 1082.2 L446.6 1080.0 L446.6 1077.8 L446.7 1075.6 L446.7 1073.4 L446.7 1071.2 L446.8 1069.0 L446.8 1066.8 L446.9 1064.6 L446.9 1062.4 L447.0 1060.3 L447.1 1058.1 L447.2 1056.0 L447.3 1054.0 L447.4 1052.0 L447.5 1050.0 L447.6 1048.4 L447.7 1046.9 L447.8 1045.3 L448.0 1043.8 L448.1 1042.4 L448.2 1040.9 L448.4 1039.5 L448.5 1038.0 L448.7 1036.6 L448.9 1035.2 L449.0 1033.8 L449.3 1032.4 L449.5 1030.9 L449.7 1029.5 L449.9 1028.1 L450.2 1026.6 L450.4 1025.2 L450.7 1023.8 L451.0 1022.4 L451.2 1020.9 L451.5 1019.5 L451.8 1018.1 L452.2 1016.7 L452.5 1015.3 L452.9 1013.9 L453.3 1012.5 L453.7 1011.2 L454.2 1009.8 L454.7 1008.4 L455.2 1007.1 L455.7 1005.7 L456.3 1004.4 L456.9 1003.1 L457.5 1001.8 L458.1 1000.5 L458.8 999.1 L459.4 997.9 L460.1 996.6 L460.9 995.3 L461.7 994.0 L462.5 992.8 L463.3 991.5 L464.3 990.1 L465.3 988.8 L466.4 987.4 L467.5 986.1 L468.7 984.8 L469.9 983.5 L471.1 982.2 L472.4 980.9 L473.6 979.6 L474.9 978.3 L476.2 977.1 L477.5 975.8 L478.7 974.5 L480.0 973.3 L481.3 972.1 L482.6 970.8 L483.9 969.6 L485.3 968.4 L486.6 967.2 L488.0 966.0 L489.4 964.8 L490.7 963.6 L492.1 962.4 L493.4 961.2 L494.7 960.1 L495.9 958.9 L497.1 957.8 L498.2 956.6 L499.1 955.7 L499.9 954.7 L500.7 953.8 L501.5 952.9 L502.3 951.9 L503.1 951.0 L503.8 950.1 L504.5 949.2 L505.2 948.3 L506.0 947.4 L506.7 946.5 L507.4 945.5 L508.1 944.6 L508.9 943.7" fill="none" stroke="#1d1d1f" stroke-width="14.50" stroke-linejoin="round"/>
<path d="M446.6 1111.0 L446.6 1108.8 L446.6 1106.6 L446.6 1104.3 L446.6 1102.1 L446.6 1099.9 L446.6 1097.7 L446.5 1095.5 L446.5 1093.2 L446.5 1091.0 L446.5 1088.8 L446.5 1086.6 L446.6 1084.4 L446.6 1082.2 L446.6 1080.0 L446.6 1077.8 L446.7 1075.6 L446.7 1073.4 L446.7 1071.2 L446.8 1069.0 L446.8 1066.8 L446.9 1064.6 L446.9 1062.4 L447.0 1060.3 L447.1 1058.1 L447.2 1056.0 L447.3 1054.0 L447.4 1052.0 L447.5 1050.0 L447.6 1048.4 L447.7 1046.9 L447.8 1045.3 L448.0 1043.8 L448.1 1042.4 L448.2 1040.9 L448.4 1039.5 L448.5 1038.0 L448.7 1036.6 L448.9 1035.2 L449.0 1033.8 L449.3 1032.4 L449.5 1030.9 L449.7 1029.5 L449.9 1028.1 L450.2 1026.6 L450.4 1025.2 L450.7 1023.8 L451.0 1022.4 L451.2 1020.9 L451.5 1019.5 L451.8 1018.1 L452.2 1016.7 L452.5 1015.3 L452.9 1013.9 L453.3 1012.5 L453.7 1011.2 L454.2 1009.8 L454.7 1008.4 L455.2 1007.1 L455.7 1005.7 L456.3 1004.4 L456.9 1003.1 L457.5 1001.8 L458.1 1000.5 L458.8 999.1 L459.4 997.9 L460.1 996.6 L460.9 995.3 L461.7 994.0 L462.5 992.8 L463.3 991.5 L464.3 990.1 L465.3 988.8 L466.4 987.4 L467.5 986.1 L468.7 984.8 L469.9 983.5 L471.1 982.2 L472.4 980.9 L473.6 979.6 L474.9 978.3 L476.2 977.1 L477.5 975.8 L478.7 974.5 L480.0 973.3 L481.3 972.1 L482.6 970.8 L483.9 969.6 L485.3 968.4 L486.6 967.2 L488.0 966.0 L489.4 964.8 L490.7 963.6 L492.1 962.4 L493.4 961.2 L494.7 960.1 L495.9 958.9 L497.1 957.8 L498.2 956.6 L499.1 955.7 L499.9 954.7 L500.7 953.8 L501.5 952.9 L502.3 951.9 L503.1 951.0 L503.8 950.1 L504.5 949.2 L505.2 948.3 L506.0 947.4 L506.7 946.5 L507.4 945.5 L508.1 944.6 L508.9 943.7" fill="none" stroke="#0cb0ec" stroke-width="10.90" stroke-linejoin="round"/>
<circle cx="508.9" cy="943.7" r="5.45" fill="#0cb0ec"/>
<circle cx="464.1" cy="836.0" r="10.00" fill="#1d1d1f"/>
<path d="M442.7 762.6 L442.7 766.7 L442.7 770.9 L442.7 775.0 L442.8 779.2 L442.8 783.4 L442.8 787.5 L442.8 791.7 L442.8 795.9 L442.8 800.0 L442.8 804.1 L442.8 808.1 L442.8 812.1 L442.8 816.1 L442.8 820.0 L442.8 823.4 L442.8 826.8 L442.7 830.1 L442.7 833.4 L442.7 836.6 L442.7 839.9 L442.6 843.1 L442.6 846.3 L442.6 849.5 L442.5 852.7 L442.4 855.8 L442.3 859.0 L442.2 862.3 L442.1 865.5 L442.0 868.8 L441.8 872.1 L441.7 875.4 L441.5 878.7 L441.3 882.0 L441.1 885.3 L440.9 888.6 L440.7 891.9 L440.5 895.1 L440.2 898.4 L439.9 901.6 L439.7 904.8 L439.3 908.0 L439.0 911.1 L438.7 913.9 L438.3 916.7 L437.9 919.5 L437.5 922.3 L437.0 925.1 L436.6 927.8 L436.1 930.5 L435.7 933.2 L435.2 935.9 L434.7 938.6 L434.3 941.2 L433.8 943.8 L433.4 946.4 L433.0 949.0 L432.6 951.3 L432.2 953.6 L431.8 955.8 L431.3 958.1 L430.9 960.3 L430.4 962.5 L430.0 964.7 L429.6 966.9 L429.2 969.0 L428.9 971.1 L428.7 973.2 L428.5 975.3 L428.4 977.4 L428.4 979.4 L428.5 981.2 L428.5 982.9 L428.6 984.7 L428.8 986.4 L429.0 988.1 L429.2 989.9 L429.5 991.5 L429.8 993.2 L430.1 994.8 L430.6 996.4 L431.1 997.9 L431.6 999.4 L432.3 1000.8 L433.0 1002.2 L433.7 1003.4 L434.6 1004.7 L435.5 1005.9 L436.4 1007.0 L437.4 1008.2 L438.5 1009.3 L439.6 1010.3 L440.8 1011.3 L442.0 1012.3 L443.2 1013.1 L444.4 1013.9 L445.6 1014.7 L446.9 1015.3 L448.1 1015.8 L449.3 1016.2 L450.5 1016.5 L451.8 1016.8 L453.1 1017.0 L454.4 1017.1 L455.8 1017.2 L457.1 1017.2 L458.5 1017.2 L459.9 1017.1 L461.2 1016.9 L462.6 1016.7 L463.9 1016.4 L465.2 1016.1 L466.4 1015.8 L467.7 1015.4 L469.0 1014.9 L470.3 1014.4 L471.6 1013.8 L472.9 1013.2 L474.2 1012.5 L475.4 1011.7 L476.7 1010.9 L477.9 1010.1 L479.0 1009.2 L480.1 1008.3 L481.2 1007.3 L482.2 1006.3 L483.1 1005.2 L484.0 1004.0 L484.9 1002.7 L485.7 1001.4 L486.5 999.9 L487.2 998.5 L487.9 996.9 L488.5 995.4 L489.1 993.8 L489.6 992.2 L490.1 990.5 L490.5 988.9 L490.8 987.2 L491.1 985.6 L491.4 984.0 L491.6 982.3 L491.7 980.7 L491.8 979.0 L491.7 977.2 L491.6 975.5 L491.5 973.8 L491.3 972.0 L491.1 970.2 L490.8 968.5 L490.5 966.7 L490.2 965.0 L489.8 963.2 L489.5 961.4 L489.1 959.7 L488.7 957.9 L488.2 956.1 L487.6 954.3 L487.0 952.5 L486.3 950.7 L485.7 948.9 L485.0 947.1 L484.2 945.3 L483.5 943.5 L482.8 941.7 L482.1 939.8 L481.3 937.9 L480.7 935.9 L480.0 933.9 L479.2 931.4 L478.4 928.9 L477.6 926.3 L476.8 923.6 L476.0 920.9 L475.2 918.2 L474.3 915.4 L473.6 912.6 L472.8 909.8 L472.0 907.0 L471.3 904.2 L470.6 901.4 L470.0 898.6 L469.4 895.9 L468.9 893.2 L468.3 890.4 L467.8 887.6 L467.3 884.8 L466.9 882.0 L466.5 879.2 L466.1 876.3 L465.7 873.6 L465.3 870.8 L465.0 868.1 L464.7 865.5 L464.5 862.9 L464.3 860.4 L464.1 858.0 L464.0 856.2 L463.9 854.6 L463.9 852.9 L463.8 851.3 L463.8 849.7 L463.9 848.2 L463.9 846.6 L463.9 845.1 L464.0 843.6 L464.0 842.1 L464.0 840.6 L464.1 839.1 L464.1 837.6 L464.1 836.0" fill="none" stroke="#1d1d1f" stroke-width="20.00" stroke-linejoin="round"/>
<path d="M442.7 762.6 L442.7 766.7 L442.7 770.9 L442.7 775.0 L442.8 779.2 L442.8 783.4 L442.8 787.5 L442.8 791.7 L442.8 795.9 L442.8 800.0 L442.8 804.1 L442.8 808.1 L442.8 812.1 L442.8 816.1 L442.8 820.0 L442.8 823.4 L442.8 826.8 L442.7 830.1 L442.7 833.4 L442.7 836.6 L442.7 839.9 L442.6 843.1 L442.6 846.3 L442.6 849.5 L442.5 852.7 L442.4 855.8 L442.3 859.0 L442.2 862.3 L442.1 865.5 L442.0 868.8 L441.8 872.1 L441.7 875.4 L441.5 878.7 L441.3 882.0 L441.1 885.3 L440.9 888.6 L440.7 891.9 L440.5 895.1 L440.2 898.4 L439.9 901.6 L439.7 904.8 L439.3 908.0 L439.0 911.1 L438.7 913.9 L438.3 916.7 L437.9 919.5 L437.5 922.3 L437.0 925.1 L436.6 927.8 L436.1 930.5 L435.7 933.2 L435.2 935.9 L434.7 938.6 L434.3 941.2 L433.8 943.8 L433.4 946.4 L433.0 949.0 L432.6 951.3 L432.2 953.6 L431.8 955.8 L431.3 958.1 L430.9 960.3 L430.4 962.5 L430.0 964.7 L429.6 966.9 L429.2 969.0 L428.9 971.1 L428.7 973.2 L428.5 975.3 L428.4 977.4 L428.4 979.4 L428.5 981.2 L428.5 982.9 L428.6 984.7 L428.8 986.4 L429.0 988.1 L429.2 989.9 L429.5 991.5 L429.8 993.2 L430.1 994.8 L430.6 996.4 L431.1 997.9 L431.6 999.4 L432.3 1000.8 L433.0 1002.2 L433.7 1003.4 L434.6 1004.7 L435.5 1005.9 L436.4 1007.0 L437.4 1008.2 L438.5 1009.3 L439.6 1010.3 L440.8 1011.3 L442.0 1012.3 L443.2 1013.1 L444.4 1013.9 L445.6 1014.7 L446.9 1015.3 L448.1 1015.8 L449.3 1016.2 L450.5 1016.5 L451.8 1016.8 L453.1 1017.0 L454.4 1017.1 L455.8 1017.2 L457.1 1017.2 L458.5 1017.2 L459.9 1017.1 L461.2 1016.9 L462.6 1016.7 L463.9 1016.4 L465.2 1016.1 L466.4 1015.8 L467.7 1015.4 L469.0 1014.9 L470.3 1014.4 L471.6 1013.8 L472.9 1013.2 L474.2 1012.5 L475.4 1011.7 L476.7 1010.9 L477.9 1010.1 L479.0 1009.2 L480.1 1008.3 L481.2 1007.3 L482.2 1006.3 L483.1 1005.2 L484.0 1004.0 L484.9 1002.7 L485.7 1001.4 L486.5 999.9 L487.2 998.5 L487.9 996.9 L488.5 995.4 L489.1 993.8 L489.6 992.2 L490.1 990.5 L490.5 988.9 L490.8 987.2 L491.1 985.6 L491.4 984.0 L491.6 982.3 L491.7 980.7 L491.8 979.0 L491.7 977.2 L491.6 975.5 L491.5 973.8 L491.3 972.0 L491.1 970.2 L490.8 968.5 L490.5 966.7 L490.2 965.0 L489.8 963.2 L489.5 961.4 L489.1 959.7 L488.7 957.9 L488.2 956.1 L487.6 954.3 L487.0 952.5 L486.3 950.7 L485.7 948.9 L485.0 947.1 L484.2 945.3 L483.5 943.5 L482.8 941.7 L482.1 939.8 L481.3 937.9 L480.7 935.9 L480.0 933.9 L479.2 931.4 L478.4 928.9 L477.6 926.3 L476.8 923.6 L476.0 920.9 L475.2 918.2 L474.3 915.4 L473.6 912.6 L472.8 909.8 L472.0 907.0 L471.3 904.2 L470.6 901.4 L470.0 898.6 L469.4 895.9 L468.9 893.2 L468.3 890.4 L467.8 887.6 L467.3 884.8 L466.9 882.0 L466.5 879.2 L466.1 876.3 L465.7 873.6 L465.3 870.8 L465.0 868.1 L464.7 865.5 L464.5 862.9 L464.3 860.4 L464.1 858.0 L464.0 856.2 L463.9 854.6 L463.9 852.9 L463.8 851.3 L463.8 849.7 L463.9 848.2 L463.9 846.6 L463.9 845.1 L464.0 843.6 L464.0 842.1 L464.0 840.6 L464.1 839.1 L464.1 837.6 L464.1 836.0" fill="none" stroke="#c69c6d" stroke-width="16.40" stroke-linejoin="round"/>
<circle cx="464.1" cy="836.0" r="8.20" fill="#c69c6d"/>
<path d="M458.1 1000.5 L458.8 999.1 L459.4 997.9 L460.1 996.6 L460.9 995.3 L461.7 994.0 L462.5 992.8 L463.3 991.5 L464.3 990.1 L465.3 988.8 L466.4 987.4 L467.5 986.1 L468.7 984.8 L469.9 983.5 L471.1 982.2 L472.4 980.9 L473.6 979.6 L474.9 978.3 L476.2 977.1 L477.5 975.8 L478.7 974.5 L480.0 973.3 L481.3 972.1 L482.6 970.8 L483.9 969.6 L485.3 968.4 L486.6 967.2 L488.0 966.0 L489.4 964.8 L490.7 963.6 L492.1 962.4 L493.4 961.2 L494.7 960.1 L495.9 958.9 L497.1 957.8 L498.2 956.6 L499.1 955.7 L499.9 954.7 L500.7 953.8 L501.5 952.9 L502.3 951.9 L503.1 951.0 L503.8 950.1 L504.5 949.2 L505.2 948.3 L506.0 947.4 L506.7 946.5 L507.4 945.5 L508.1 944.6" fill="none" stroke="#1d1d1f" stroke-width="14.50" stroke-linejoin="round"/>
<path d="M457.5 1001.8 L458.1 1000.5 L458.8 999.1 L459.4 997.9 L460.1 996.6 L460.9 995.3 L461.7 994.0 L462.5 992.8 L463.3 991.5 L464.3 990.1 L465.3 988.8 L466.4 987.4 L467.5 986.1 L468.7 984.8 L469.9 983.5 L471.1 982.2 L472.4 980.9 L473.6 979.6 L474.9 978.3 L476.2 977.1 L477.5 975.8 L478.7 974.5 L480.0 973.3 L481.3 972.1 L482.6 970.8 L483.9 969.6 L485.3 968.4 L486.6 967.2 L488.0 966.0 L489.4 964.8 L490.7 963.6 L492.1 962.4 L493.4 961.2 L494.7 960.1 L495.9 958.9 L497.1 957.8 L498.2 956.6 L499.1 955.7 L499.9 954.7 L500.7 953.8 L501.5 952.9 L502.3 951.9 L503.1 951.0 L503.8 950.1 L504.5 949.2 L505.2 948.3 L506.0 947.4 L506.7 946.5 L507.4 945.5 L508.1 944.6 L508.9 943.7" fill="none" stroke="#0cb0ec" stroke-width="10.90" stroke-linejoin="round"/>
<circle cx="508.9" cy="943.7" r="5.45" fill="#0cb0ec"/>
<path d="M522.5 930.8 L523.6 929.0 L524.8 927.1 L526.0 925.3 L527.3 923.5 L528.5 921.6 L529.8 919.8 L531.0 918.0 L532.2 916.1 L533.3 914.3 L534.4 912.5 L535.4 910.6 L536.3 908.7 L537.1 906.9 L537.7 905.0 L538.2 903.3 L538.6 901.6 L539.0 899.8 L539.4 898.0 L539.6 896.3 L539.9 894.5 L540.0 892.7 L540.1 890.9 L540.1 889.2 L540.1 887.4 L540.0 885.7 L539.8 884.0 L539.5 882.3 L539.2 880.7 L538.8 879.1 L538.3 877.4 L537.7 875.8 L537.1 874.1 L536.4 872.5 L535.6 870.8 L534.7 869.2 L533.8 867.7 L532.8 866.1 L531.8 864.7 L530.7 863.3 L529.6 861.9 L528.4 860.7 L527.1 859.5 L525.7 858.3 L524.1 857.2 L522.5 856.2 L520.8 855.3 L519.0 854.4 L517.1 853.6 L515.2 852.9 L513.3 852.1 L511.3 851.5 L509.3 850.9 L507.3 850.3 L505.3 849.8 L503.3 849.3 L501.3 848.8 L499.2 848.3 L497.1 848.0 L495.0 847.6 L492.9 847.3 L490.7 847.1 L488.5 846.9 L486.3 846.8 L484.1 846.6 L481.9 846.6 L479.7 846.5 L477.5 846.5 L475.3 846.5 L473.1 846.6 L470.9 846.6 L468.7 846.7 L466.5 846.8 L464.3 846.9 L462.1 847.0 L459.9 847.2 L457.7 847.4 L455.5 847.7 L453.3 847.9 L451.1 848.2 L448.9 848.6 L446.8 849.0 L444.7 849.4 L442.6 849.9 L440.5 850.4 L438.5 850.9 L436.5 851.5 L434.5 852.0 L432.5 852.6 L430.5 853.3 L428.5 854.0 L426.6 854.7 L424.7 855.4 L422.8 856.2 L421.0 857.1 L419.3 858.0 L417.7 858.9 L416.1 859.9 L414.7 861.0 L413.6 862.0 L412.5 863.0 L411.4 864.1 L410.4 865.2 L409.4 866.3 L408.5 867.5 L407.6 868.8 L406.8 870.0 L406.0 871.3 L405.4 872.5 L404.7 873.8 L404.2 875.1 L403.7 876.4 L403.3 877.7 L403.0 878.9 L402.7 880.2 L402.5 881.5 L402.3 882.8 L402.2 884.2 L402.2 885.5 L402.2 886.9 L402.3 888.2 L402.4 889.6 L402.6 890.9 L402.9 892.2 L403.2 893.5 L403.6 894.7 L404.1 895.9 L404.8 897.2 L405.5 898.6 L406.4 899.9 L407.3 901.2 L408.4 902.5 L409.5 903.8 L410.7 905.1 L412.0 906.3 L413.4 907.5 L414.8 908.6 L416.2 909.7 L417.7 910.7 L419.2 911.7 L420.8 912.6 L422.8 913.6 L425.0 914.6 L427.3 915.5 L429.7 916.4 L432.2 917.2 L434.8 917.9 L437.4 918.5 L440.1 919.1 L442.7 919.6 L445.4 920.0 L448.1 920.4 L450.7 920.6 L453.2 920.9 L455.7 921.0 L457.9 921.1 L460.2 921.0 L462.4 921.0 L464.7 920.8 L466.9 920.6 L469.2 920.3 L471.4 920.0 L473.6 919.6 L475.7 919.1 L477.9 918.7 L480.0 918.1 L482.1 917.6 L484.1 917.0 L486.1 916.4 L487.9 915.8 L489.8 915.2 L491.6 914.6 L493.4 913.9 L495.3 913.2 L497.1 912.5 L498.9 911.7 L500.6 910.9 L502.2 910.0 L503.8 909.1 L505.2 908.2 L506.6 907.2 L507.8 906.1 L508.9 905.0 L509.7 904.0 L510.5 902.9 L511.3 901.8 L511.9 900.6 L512.6 899.4 L513.1 898.2 L513.6 896.9 L514.1 895.6 L514.4 894.3 L514.7 893.1 L514.9 891.8 L515.0 890.6 L515.0 889.4 L514.9 888.3 L514.7 887.2 L514.4 886.2 L514.1 885.1 L513.6 884.0 L513.1 882.9 L512.5 881.9 L511.8 880.9 L511.1 879.9 L510.3 878.9 L509.5 878.0 L508.6 877.1 L507.7 876.2 L506.8 875.4 L505.8 874.7 L504.6 873.9 L503.3 873.2 L501.9 872.6 L500.4 872.0 L498.8 871.5 L497.2 871.0 L495.5 870.6 L493.8 870.2 L492.0 869.9 L490.2 869.6 L488.4 869.3 L486.7 869.1 L484.9 868.8 L483.1 868.6 L481.1 868.4 L479.0 868.1 L476.9 868.0 L474.7 867.8 L472.5 867.7 L470.3 867.6 L468.0 867.6 L465.8 867.6 L463.5 867.7 L461.3 867.8 L459.1 867.9 L456.9 868.1 L454.8 868.3 L452.7 868.6 L450.8 868.9 L448.8 869.2 L446.9 869.6 L445.0 870.1 L443.0 870.5 L441.1 871.0 L439.3 871.6 L437.4 872.1 L435.6 872.7 L433.8 873.4 L432.0 874.0 L430.3 874.7 L428.6 875.5 L426.9 876.2 L425.4 876.9 L423.9 877.6 L422.5 878.3 L421.0 879.1 L419.5 879.9 L418.1 880.7 L416.7 881.5 L415.3 882.4 L414.1 883.3 L412.8 884.2 L411.7 885.2 L410.6 886.2 L409.6 887.2 L408.7 888.3 L408.0 889.3 L407.3 890.4 L406.7 891.5 L406.2 892.6 L405.7 893.8 L405.3 894.9 L404.9 896.2 L404.6 897.4 L404.3 898.6 L404.0 899.9 L403.8 901.2 L403.6 902.4 L403.4 903.7 L403.3 905.0 L403.2 906.4 L403.1 907.9 L403.0 909.4 L403.0 910.9 L403.1 912.4 L403.2 914.0 L403.3 915.5 L403.5 917.1 L403.7 918.6 L404.0 920.2 L404.3 921.7 L404.7 923.3 L405.1 924.8 L405.6 926.3 L406.2 928.0 L406.9 929.7 L407.6 931.3 L408.4 933.0 L409.3 934.7 L410.3 936.4 L411.3 938.1 L412.3 939.8 L413.4 941.4 L414.5 943.0 L415.7 944.6 L416.9 946.1 L418.1 947.6 L419.3 949.0 L420.6 950.4 L422.0 951.7 L423.4 953.0 L424.9 954.2 L426.4 955.4 L428.0 956.6 L429.5 957.8 L431.1 958.9 L432.8 960.0 L434.4 961.1 L435.9 962.3 L437.5 963.4 L439.0 964.5 L440.5 965.7 L441.9 966.8 L443.2 967.9 L444.6 969.0 L445.9 970.1 L447.3 971.2 L448.6 972.2 L450.0 973.3 L451.3 974.4 L452.6 975.5 L453.9 976.6 L455.1 977.7 L456.4 978.7 L457.6 979.8 L458.8 980.9 L459.9 981.9 L460.9 982.8 L462.0 983.8 L463.0 984.7 L464.0 985.7 L465.0 986.7 L466.0 987.6 L467.0 988.6 L468.0 989.5 L468.9 990.5 L469.8 991.5 L470.7 992.5 L471.6 993.6 L472.4 994.6 L473.2 995.6 L473.9 996.7 L474.7 997.7 L475.4 998.8 L476.0 999.9 L476.7 1001.0 L477.4 1002.1 L478.0 1003.2 L478.6 1004.3 L479.2 1005.4 L479.8 1006.5 L480.4 1007.6 L480.9 1008.7 L481.5 1009.8 L482.0 1010.8 L482.5 1011.9 L483.0 1012.9 L483.5 1014.0 L484.0 1015.0 L484.5 1016.1 L485.0 1017.1 L485.4 1018.2 L485.8 1019.2 L486.2 1020.2 L486.6 1021.2 L487.0 1022.2 L487.3 1023.1 L487.6 1024.0 L487.8 1024.6 L488.0 1025.2 L488.1 1025.8 L488.3 1026.4 L488.4 1027.0 L488.5 1027.6 L488.6 1028.1 L488.7 1028.7 L488.8 1029.2 L489.0 1029.8 L489.1 1030.3 L489.2 1030.9 L489.3 1031.4 L489.4 1032.0" fill="none" stroke="#f3351d" stroke-width="5.50" stroke-linecap="butt" stroke-linejoin="round"/>
<path d="M442.7 833.4 L442.7 836.6 L442.7 839.9 L442.6 843.1 L442.6 846.3 L442.6 849.5 L442.5 852.7 L442.4 855.8 L442.3 859.0 L442.2 862.3 L442.1 865.5 L442.0 868.8 L441.8 872.1 L441.7 875.4 L441.5 878.7 L441.3 882.0 L441.1 885.3 L440.9 888.6 L440.7 891.9 L440.5 895.1 L440.2 898.4 L439.9 901.6 L439.7 904.8" fill="none" stroke="#fff" stroke-width="23.00" stroke-linejoin="round"/>
<path d="M442.7 830.1 L442.7 833.4 L442.7 836.6 L442.7 839.9 L442.6 843.1 L442.6 846.3 L442.6 849.5 L442.5 852.7 L442.4 855.8 L442.3 859.0 L442.2 862.3 L442.1 865.5 L442.0 868.8 L441.8 872.1 L441.7 875.4 L441.5 878.7 L441.3 882.0 L441.1 885.3 L440.9 888.6 L440.7 891.9 L440.5 895.1 L440.2 898.4 L439.9 901.6 L439.7 904.8 L439.3 908.0 L439.0 911.1" fill="none" stroke="#c69c6d" stroke-width="16.40" stroke-linejoin="round"/>
<path d="M472.0 907.0 L471.3 904.2 L470.6 901.4 L470.0 898.6 L469.4 895.9 L468.9 893.2 L468.3 890.4 L467.8 887.6 L467.3 884.8 L466.9 882.0 L466.5 879.2 L466.1 876.3 L465.7 873.6 L465.3 870.8 L465.0 868.1 L464.7 865.5 L464.5 862.9 L464.3 860.4 L464.1 858.0 L464.0 856.2 L463.9 854.6 L463.9 852.9 L463.8 851.3 L463.8 849.7 L463.9 848.2 L463.9 846.6 L463.9 845.1 L464.0 843.6 L464.0 842.1 L464.0 840.6 L464.1 839.1 L464.1 837.6" fill="none" stroke="#fff" stroke-width="23.00" stroke-linejoin="round"/>
<path d="M472.8 909.8 L472.0 907.0 L471.3 904.2 L470.6 901.4 L470.0 898.6 L469.4 895.9 L468.9 893.2 L468.3 890.4 L467.8 887.6 L467.3 884.8 L466.9 882.0 L466.5 879.2 L466.1 876.3 L465.7 873.6 L465.3 870.8 L465.0 868.1 L464.7 865.5 L464.5 862.9 L464.3 860.4 L464.1 858.0 L464.0 856.2 L463.9 854.6 L463.9 852.9 L463.8 851.3 L463.8 849.7 L463.9 848.2 L463.9 846.6 L463.9 845.1 L464.0 843.6 L464.0 842.1 L464.0 840.6 L464.1 839.1 L464.1 837.6 L464.1 836.0" fill="none" stroke="#c69c6d" stroke-width="16.40" stroke-linejoin="round"/>
<path d="M442.8 823.4 L442.8 826.8 L442.7 830.1 L442.7 833.4 L442.7 836.6 L442.7 839.9 L442.6 843.1 L442.6 846.3 L442.6 849.5 L442.5 852.7 L442.4 855.8 L442.3 859.0 L442.2 862.3 L442.1 865.5 L442.0 868.8 L441.8 872.1 L441.7 875.4 L441.5 878.7 L441.3 882.0 L441.1 885.3 L440.9 888.6 L440.7 891.9 L440.5 895.1 L440.2 898.4 L439.9 901.6 L439.7 904.8 L439.3 908.0 L439.0 911.1 L438.7 913.9" fill="none" stroke="#1d1d1f" stroke-width="20.00" stroke-linejoin="round"/>
<path d="M442.8 820.0 L442.8 823.4 L442.8 826.8 L442.7 830.1 L442.7 833.4 L442.7 836.6 L442.7 839.9 L442.6 843.1 L442.6 846.3 L442.6 849.5 L442.5 852.7 L442.4 855.8 L442.3 859.0 L442.2 862.3 L442.1 865.5 L442.0 868.8 L441.8 872.1 L441.7 875.4 L441.5 878.7 L441.3 882.0 L441.1 885.3 L440.9 888.6 L440.7 891.9 L440.5 895.1 L440.2 898.4 L439.9 901.6 L439.7 904.8 L439.3 908.0 L439.0 911.1 L438.7 913.9 L438.3 916.7" fill="none" stroke="#c69c6d" stroke-width="16.40" stroke-linejoin="round"/>
<path d="M474.3 915.4 L473.6 912.6 L472.8 909.8 L472.0 907.0 L471.3 904.2 L470.6 901.4 L470.0 898.6 L469.4 895.9 L468.9 893.2 L468.3 890.4 L467.8 887.6 L467.3 884.8 L466.9 882.0 L466.5 879.2 L466.1 876.3 L465.7 873.6 L465.3 870.8 L465.0 868.1 L464.7 865.5 L464.5 862.9 L464.3 860.4 L464.1 858.0 L464.0 856.2 L463.9 854.6 L463.9 852.9 L463.8 851.3 L463.8 849.7 L463.9 848.2 L463.9 846.6 L463.9 845.1 L464.0 843.6 L464.0 842.1 L464.0 840.6 L464.1 839.1 L464.1 837.6" fill="none" stroke="#1d1d1f" stroke-width="20.00" stroke-linejoin="round"/>
<path d="M475.2 918.2 L474.3 915.4 L473.6 912.6 L472.8 909.8 L472.0 907.0 L471.3 904.2 L470.6 901.4 L470.0 898.6 L469.4 895.9 L468.9 893.2 L468.3 890.4 L467.8 887.6 L467.3 884.8 L466.9 882.0 L466.5 879.2 L466.1 876.3 L465.7 873.6 L465.3 870.8 L465.0 868.1 L464.7 865.5 L464.5 862.9 L464.3 860.4 L464.1 858.0 L464.0 856.2 L463.9 854.6 L463.9 852.9 L463.8 851.3 L463.8 849.7 L463.9 848.2 L463.9 846.6 L463.9 845.1 L464.0 843.6 L464.0 842.1 L464.0 840.6 L464.1 839.1 L464.1 837.6 L464.1 836.0" fill="none" stroke="#c69c6d" stroke-width="16.40" stroke-linejoin="round"/>
<circle cx="464.1" cy="836" r="8.20" fill="#c69c6d"/>
<path d="M404.1 895.9 L404.8 897.2 L405.5 898.6 L406.4 899.9 L407.3 901.2 L408.4 902.5 L409.5 903.8 L410.7 905.1 L412.0 906.3 L413.4 907.5 L414.8 908.6 L416.2 909.7 L417.7 910.7 L419.2 911.7 L420.8 912.6 L422.8 913.6 L425.0 914.6 L427.3 915.5 L429.7 916.4 L432.2 917.2 L434.8 917.9 L437.4 918.5 L440.1 919.1 L442.7 919.6 L445.4 920.0 L448.1 920.4 L450.7 920.6 L453.2 920.9 L455.7 921.0 L457.9 921.1 L460.2 921.0 L462.4 921.0 L464.7 920.8 L466.9 920.6 L469.2 920.3 L471.4 920.0 L473.6 919.6 L475.7 919.1 L477.9 918.7 L480.0 918.1 L482.1 917.6 L484.1 917.0 L486.1 916.4 L487.9 915.8 L489.8 915.2 L491.6 914.6 L493.4 913.9 L495.3 913.2 L497.1 912.5 L498.9 911.7 L500.6 910.9 L502.2 910.0 L503.8 909.1 L505.2 908.2 L506.6 907.2 L507.8 906.1 L508.9 905.0" fill="none" stroke="#f3351d" stroke-width="5.50" stroke-linecap="butt" stroke-linejoin="round"/>
<path d="M408.7 888.3 L408.0 889.3 L407.3 890.4 L406.7 891.5 L406.2 892.6 L405.7 893.8 L405.3 894.9 L404.9 896.2 L404.6 897.4 L404.3 898.6 L404.0 899.9 L403.8 901.2 L403.6 902.4 L403.4 903.7 L403.3 905.0 L403.2 906.4 L403.1 907.9 L403.0 909.4 L403.0 910.9 L403.1 912.4 L403.2 914.0 L403.3 915.5 L403.5 917.1 L403.7 918.6 L404.0 920.2 L404.3 921.7 L404.7 923.3 L405.1 924.8 L405.6 926.3 L406.2 928.0 L406.9 929.7 L407.6 931.3 L408.4 933.0 L409.3 934.7 L410.3 936.4 L411.3 938.1 L412.3 939.8 L413.4 941.4 L414.5 943.0 L415.7 944.6 L416.9 946.1 L418.1 947.6 L419.3 949.0 L420.6 950.4 L422.0 951.7 L423.4 953.0 L424.9 954.2 L426.4 955.4 L428.0 956.6 L429.5 957.8 L431.1 958.9 L432.8 960.0 L434.4 961.1 L435.9 962.3 L437.5 963.4 L439.0 964.5 L440.5 965.7 L441.9 966.8 L443.2 967.9 L444.6 969.0 L445.9 970.1 L447.3 971.2 L448.6 972.2 L450.0 973.3 L451.3 974.4 L452.6 975.5 L453.9 976.6 L455.1 977.7 L456.4 978.7 L457.6 979.8 L458.8 980.9 L459.9 981.9 L460.9 982.8 L462.0 983.8 L463.0 984.7 L464.0 985.7 L465.0 986.7 L466.0 987.6 L467.0 988.6 L468.0 989.5 L468.9 990.5 L469.8 991.5 L470.7 992.5 L471.6 993.6 L472.4 994.6" fill="none" stroke="#f3351d" stroke-width="5.50" stroke-linecap="butt" stroke-linejoin="round"/>
<path d="M460.1 996.6 L460.9 995.3 L461.7 994.0 L462.5 992.8 L463.3 991.5 L464.3 990.1 L465.3 988.8 L466.4 987.4 L467.5 986.1 L468.7 984.8 L469.9 983.5 L471.1 982.2 L472.4 980.9 L473.6 979.6 L474.9 978.3 L476.2 977.1 L477.5 975.8 L478.7 974.5 L480.0 973.3 L481.3 972.1 L482.6 970.8 L483.9 969.6 L485.3 968.4" fill="none" stroke="#1d1d1f" stroke-width="14.50" stroke-linejoin="round"/>
<path d="M459.4 997.9 L460.1 996.6 L460.9 995.3 L461.7 994.0 L462.5 992.8 L463.3 991.5 L464.3 990.1 L465.3 988.8 L466.4 987.4 L467.5 986.1 L468.7 984.8 L469.9 983.5 L471.1 982.2 L472.4 980.9 L473.6 979.6 L474.9 978.3 L476.2 977.1 L477.5 975.8 L478.7 974.5 L480.0 973.3 L481.3 972.1 L482.6 970.8 L483.9 969.6 L485.3 968.4 L486.6 967.2" fill="none" stroke="#0cb0ec" stroke-width="10.90" stroke-linejoin="round"/>
<path d="M478.6 1004.3 L479.2 1005.4 L479.8 1006.5 L480.4 1007.6 L480.9 1008.7 L481.5 1009.8 L482.0 1010.8 L482.5 1011.9 L483.0 1012.9 L483.5 1014.0 L484.0 1015.0 L484.5 1016.1 L485.0 1017.1 L485.4 1018.2 L485.8 1019.2 L486.2 1020.2 L486.6 1021.2 L487.0 1022.2 L487.3 1023.1 L487.6 1024.0 L487.8 1024.6 L488.0 1025.2 L488.1 1025.8 L488.3 1026.4 L488.4 1027.0 L488.5 1027.6 L488.6 1028.1 L488.7 1028.7 L488.8 1029.2 L489.0 1029.8 L489.1 1030.3 L489.2 1030.9 L489.3 1031.4 L489.4 1032.0" fill="none" stroke="#f3351d" stroke-width="5.50" stroke-linecap="butt" stroke-linejoin="round"/>
<polygon points="479.2,1023.1 485.6,1028.9 492.8,1029.7 499.7,1023.1 499.7,1031.1 489.4,1041.7 479.2,1031.7" fill="#f3351d"/>
<circle cx="754.4" cy="1021.5" r="7.25" fill="#1d1d1f"/>
<path d="M671.5 1108.8 L671.4 1106.4 L671.3 1104.0 L671.2 1101.6 L671.1 1099.2 L671.0 1096.8 L670.9 1094.3 L670.8 1091.9 L670.7 1089.5 L670.6 1087.1 L670.5 1084.7 L670.4 1082.3 L670.3 1079.9 L670.3 1077.4 L670.2 1075.0 L670.1 1072.5 L670.1 1070.0 L670.0 1067.4 L669.9 1064.9 L669.8 1062.3 L669.8 1059.7 L669.7 1057.2 L669.7 1054.6 L669.6 1052.1 L669.6 1049.6 L669.6 1047.1 L669.6 1044.7 L669.6 1042.3 L669.7 1040.0 L669.8 1038.1 L669.8 1036.1 L669.9 1034.2 L669.9 1032.4 L670.0 1030.5 L670.1 1028.6 L670.2 1026.8 L670.3 1025.0 L670.5 1023.3 L670.6 1021.5 L670.8 1019.8 L671.0 1018.2 L671.2 1016.6 L671.5 1015.0 L671.7 1013.8 L672.0 1012.6 L672.2 1011.5 L672.5 1010.3 L672.8 1009.2 L673.1 1008.1 L673.4 1007.1 L673.7 1006.0 L674.0 1005.0 L674.4 1004.0 L674.8 1003.0 L675.2 1002.0 L675.6 1001.0 L676.0 1000.0 L676.4 999.1 L676.9 998.1 L677.3 997.2 L677.8 996.3 L678.3 995.5 L678.8 994.6 L679.3 993.7 L679.9 992.9 L680.4 992.0 L681.0 991.2 L681.6 990.4 L682.2 989.6 L682.8 988.8 L683.5 988.0 L684.2 987.2 L684.9 986.4 L685.7 985.7 L686.4 984.9 L687.2 984.2 L688.0 983.5 L688.9 982.7 L689.7 982.0 L690.6 981.4 L691.4 980.7 L692.3 980.0 L693.2 979.3 L694.1 978.7 L695.0 978.0 L696.0 977.3 L697.0 976.6 L698.0 976.0 L699.1 975.3 L700.2 974.7 L701.2 974.1 L702.3 973.5 L703.4 972.9 L704.5 972.3 L705.7 971.6 L706.8 971.0 L707.8 970.4 L708.9 969.7 L710.0 969.0 L711.1 968.3 L712.2 967.6 L713.4 966.8 L714.5 966.1 L715.7 965.4 L716.8 964.6 L717.9 963.9 L719.1 963.1 L720.2 962.3 L721.2 961.5 L722.3 960.7 L723.3 959.8 L724.3 958.9 L725.3 958.0 L726.3 957.0 L727.2 956.0 L728.1 955.0 L729.0 953.9 L729.9 952.8 L730.7 951.7 L731.6 950.6 L732.4 949.4 L733.1 948.2 L733.9 947.0 L734.6 945.8 L735.3 944.6 L735.9 943.3 L736.5 942.0 L737.1 940.6 L737.7 939.1 L738.2 937.7 L738.7 936.1 L739.1 934.6 L739.6 933.0 L739.9 931.5 L740.3 929.9 L740.6 928.2 L740.9 926.6 L741.1 925.0 L741.3 923.3 L741.4 921.7 L741.5 920.0 L741.6 918.1 L741.6 916.2 L741.6 914.3 L741.5 912.3 L741.4 910.3 L741.2 908.3 L741.0 906.2 L740.7 904.2 L740.4 902.2 L740.0 900.3 L739.6 898.4 L739.1 896.5 L738.6 894.7 L738.0 893.0 L737.4 891.5 L736.8 890.1 L736.1 888.6 L735.4 887.2 L734.6 885.8 L733.8 884.4 L732.9 883.1 L732.1 881.8 L731.1 880.5 L730.2 879.3 L729.2 878.2 L728.1 877.1 L727.1 876.0 L726.0 875.0 L724.9 874.1 L723.8 873.2 L722.6 872.4 L721.3 871.6 L720.1 870.8 L718.8 870.1 L717.5 869.4 L716.1 868.8 L714.8 868.2 L713.4 867.7 L712.0 867.2 L710.7 866.8 L709.3 866.4 L708.0 866.0 L706.7 865.7 L705.5 865.5 L704.2 865.4 L703.0 865.2 L701.7 865.2 L700.4 865.2 L699.1 865.2 L697.8 865.2 L696.5 865.3 L695.2 865.3 L693.9 865.4 L692.6 865.4 L691.3 865.5 L690.0 865.5 L688.6 865.5 L687.2 865.5 L685.8 865.5 L684.3 865.6 L682.9 865.6 L681.4 865.6 L680.0 865.7 L678.5 865.7 L677.1 865.8 L675.7 865.9 L674.2 866.0 L672.8 866.2 L671.4 866.3 L670.0 866.5 L668.7 866.7 L667.3 866.9 L665.9 867.0 L664.6 867.2 L663.2 867.4 L661.9 867.7 L660.6 867.9 L659.2 868.2 L657.9 868.5 L656.6 868.8 L655.4 869.2 L654.1 869.7 L652.9 870.2 L651.7 870.8 L650.4 871.5 L649.2 872.3 L647.9 873.1 L646.6 873.9 L645.4 874.9 L644.2 875.9 L643.0 876.9 L641.8 877.9 L640.7 879.0 L639.7 880.2 L638.6 881.4 L637.7 882.5 L636.8 883.8 L636.0 885.0 L635.2 886.3 L634.5 887.7 L633.9 889.1 L633.3 890.5 L632.7 892.0 L632.2 893.6 L631.8 895.1 L631.4 896.7 L631.0 898.3 L630.8 899.8 L630.5 901.4 L630.3 903.0 L630.2 904.5 L630.1 906.0 L630.1 907.5 L630.1 908.9 L630.1 910.4 L630.2 912.0 L630.3 913.5 L630.5 915.0 L630.8 916.5 L631.1 918.0 L631.4 919.4 L631.8 920.8 L632.3 922.2 L632.8 923.5 L633.4 924.8 L634.0 926.0 L634.7 927.1 L635.4 928.1 L636.3 929.2 L637.1 930.2 L638.1 931.1 L639.1 932.0 L640.1 932.9 L641.2 933.8 L642.3 934.6 L643.4 935.4 L644.5 936.1 L645.7 936.8 L646.8 937.4 L648.0 938.0 L649.2 938.6 L650.5 939.1 L651.7 939.5 L653.1 939.9 L654.4 940.3 L655.8 940.6 L657.1 940.9 L658.5 941.2 L659.9 941.4 L661.4 941.6 L662.8 941.7 L664.2 941.8 L665.6 941.9 L667.0 942.0 L668.5 942.0 L670.0 942.1 L671.5 942.0 L673.0 942.0 L674.5 941.9 L676.1 941.8 L677.6 941.6 L679.1 941.4 L680.6 941.2 L682.2 940.9 L683.7 940.6 L685.1 940.3 L686.6 939.9 L688.0 939.5 L689.4 939.1 L690.8 938.6 L692.1 938.0 L693.5 937.5 L694.9 936.9 L696.2 936.2 L697.6 935.6 L698.9 934.9 L700.2 934.1 L701.4 933.4 L702.6 932.6 L703.8 931.8 L704.9 930.9 L706.0 930.0 L707.0 929.1 L708.0 928.2 L708.9 927.2 L709.9 926.2 L710.8 925.1 L711.7 924.0 L712.5 922.9 L713.3 921.8 L714.1 920.7 L714.8 919.5 L715.4 918.4 L716.0 917.3 L716.5 916.1 L717.0 915.0 L717.4 914.0 L717.7 913.0 L718.0 912.0 L718.3 911.0 L718.5 909.9 L718.7 908.9 L718.9 907.9 L719.0 906.8 L719.0 905.8 L719.0 904.8 L719.0 903.8 L718.9 902.8 L718.7 901.9 L718.5 901.0 L718.2 900.1 L717.9 899.3 L717.4 898.4 L717.0 897.5 L716.4 896.7 L715.9 895.9 L715.2 895.1 L714.6 894.3 L713.9 893.6 L713.1 892.8 L712.4 892.1 L711.6 891.5 L710.8 890.9 L710.0 890.3 L709.0 889.7 L708.0 889.1 L706.9 888.6 L705.8 888.1 L704.6 887.7 L703.4 887.3 L702.2 886.9 L700.9 886.6 L699.6 886.3 L698.4 886.0 L697.1 885.8 L695.8 885.6 L694.5 885.5 L693.3 885.4 L692.0 885.3 L690.8 885.3 L689.5 885.4 L688.2 885.5 L686.9 885.6 L685.7 885.8 L684.4 886.0 L683.1 886.3 L681.8 886.6 L680.5 886.9 L679.2 887.2 L677.9 887.5 L676.6 887.9 L675.3 888.2 L673.9 888.6 L672.5 889.0 L671.0 889.4 L669.6 889.9 L668.1 890.3 L666.7 890.8 L665.3 891.3 L663.8 891.9 L662.4 892.5 L661.0 893.1 L659.7 893.7 L658.3 894.4 L657.0 895.1 L655.8 895.8 L654.7 896.5 L653.6 897.3 L652.5 898.1 L651.4 898.9 L650.4 899.8 L649.4 900.6 L648.4 901.5 L647.4 902.5 L646.4 903.4 L645.5 904.4 L644.6 905.3 L643.7 906.3 L642.8 907.3 L641.9 908.3 L641.0 909.3 L640.2 910.3 L639.3 911.4 L638.4 912.4 L637.6 913.5 L636.8 914.6 L636.0 915.7 L635.2 916.8 L634.4 917.9 L633.8 919.0 L633.1 920.2 L632.5 921.3 L632.0 922.5 L631.5 923.6 L631.1 924.7 L630.8 925.7 L630.4 926.8 L630.1 927.9 L629.9 929.0 L629.7 930.1 L629.5 931.3 L629.3 932.4 L629.2 933.5 L629.2 934.6 L629.2 935.7 L629.2 936.8 L629.3 937.9 L629.4 939.0 L629.6 940.1 L629.8 941.2 L630.1 942.3 L630.4 943.5 L630.8 944.6 L631.2 945.7 L631.7 946.8 L632.2 947.9 L632.7 949.0 L633.3 950.0 L633.9 951.1 L634.6 952.1 L635.3 953.1 L636.0 954.0 L636.8 955.0 L637.8 956.0 L638.7 956.9 L639.7 957.8 L640.8 958.7 L641.9 959.6 L643.1 960.4 L644.3 961.3 L645.5 962.1 L646.7 962.9 L648.0 963.7 L649.3 964.4 L650.7 965.2 L652.0 966.0 L653.7 966.9 L655.5 967.9 L657.4 968.8 L659.3 969.7 L661.3 970.5 L663.3 971.4 L665.4 972.3 L667.5 973.1 L669.5 973.9 L671.6 974.7 L673.6 975.5 L675.6 976.3 L677.5 977.0 L679.4 977.8 L681.0 978.4 L682.6 979.1 L684.1 979.7 L685.7 980.3 L687.2 980.9 L688.7 981.5 L690.2 982.1 L691.7 982.6 L693.2 983.2 L694.6 983.8 L696.1 984.3 L697.5 984.9 L698.9 985.4 L700.3 986.0 L701.5 986.5 L702.7 986.9 L703.8 987.4 L705.0 987.8 L706.1 988.3 L707.2 988.7 L708.4 989.1 L709.5 989.6 L710.6 990.0 L711.7 990.5 L712.7 990.9 L713.8 991.4 L714.9 992.0 L716.0 992.5 L717.1 993.1 L718.2 993.7 L719.3 994.3 L720.4 995.0 L721.5 995.6 L722.6 996.3 L723.7 997.0 L724.7 997.7 L725.8 998.4 L726.9 999.1 L727.9 999.8 L729.0 1000.5 L730.0 1001.3 L731.0 1002.0 L732.0 1002.7 L733.0 1003.5 L733.9 1004.3 L734.9 1005.1 L735.8 1005.9 L736.8 1006.7 L737.7 1007.5 L738.6 1008.3 L739.5 1009.1 L740.4 1009.9 L741.3 1010.7 L742.2 1011.5 L743.1 1012.3 L744.0 1013.0 L744.8 1013.6 L745.5 1014.3 L746.3 1014.9 L747.0 1015.5 L747.8 1016.1 L748.5 1016.7 L749.3 1017.3 L750.0 1017.9 L750.7 1018.5 L751.5 1019.1 L752.2 1019.7 L752.9 1020.3 L753.7 1020.9 L754.4 1021.5" fill="none" stroke="#1d1d1f" stroke-width="14.50" stroke-linejoin="round"/>
<path d="M671.5 1108.8 L671.4 1106.4 L671.3 1104.0 L671.2 1101.6 L671.1 1099.2 L671.0 1096.8 L670.9 1094.3 L670.8 1091.9 L670.7 1089.5 L670.6 1087.1 L670.5 1084.7 L670.4 1082.3 L670.3 1079.9 L670.3 1077.4 L670.2 1075.0 L670.1 1072.5 L670.1 1070.0 L670.0 1067.4 L669.9 1064.9 L669.8 1062.3 L669.8 1059.7 L669.7 1057.2 L669.7 1054.6 L669.6 1052.1 L669.6 1049.6 L669.6 1047.1 L669.6 1044.7 L669.6 1042.3 L669.7 1040.0 L669.8 1038.1 L669.8 1036.1 L669.9 1034.2 L669.9 1032.4 L670.0 1030.5 L670.1 1028.6 L670.2 1026.8 L670.3 1025.0 L670.5 1023.3 L670.6 1021.5 L670.8 1019.8 L671.0 1018.2 L671.2 1016.6 L671.5 1015.0 L671.7 1013.8 L672.0 1012.6 L672.2 1011.5 L672.5 1010.3 L672.8 1009.2 L673.1 1008.1 L673.4 1007.1 L673.7 1006.0 L674.0 1005.0 L674.4 1004.0 L674.8 1003.0 L675.2 1002.0 L675.6 1001.0 L676.0 1000.0 L676.4 999.1 L676.9 998.1 L677.3 997.2 L677.8 996.3 L678.3 995.5 L678.8 994.6 L679.3 993.7 L679.9 992.9 L680.4 992.0 L681.0 991.2 L681.6 990.4 L682.2 989.6 L682.8 988.8 L683.5 988.0 L684.2 987.2 L684.9 986.4 L685.7 985.7 L686.4 984.9 L687.2 984.2 L688.0 983.5 L688.9 982.7 L689.7 982.0 L690.6 981.4 L691.4 980.7 L692.3 980.0 L693.2 979.3 L694.1 978.7 L695.0 978.0 L696.0 977.3 L697.0 976.6 L698.0 976.0 L699.1 975.3 L700.2 974.7 L701.2 974.1 L702.3 973.5 L703.4 972.9 L704.5 972.3 L705.7 971.6 L706.8 971.0 L707.8 970.4 L708.9 969.7 L710.0 969.0 L711.1 968.3 L712.2 967.6 L713.4 966.8 L714.5 966.1 L715.7 965.4 L716.8 964.6 L717.9 963.9 L719.1 963.1 L720.2 962.3 L721.2 961.5 L722.3 960.7 L723.3 959.8 L724.3 958.9 L725.3 958.0 L726.3 957.0 L727.2 956.0 L728.1 955.0 L729.0 953.9 L729.9 952.8 L730.7 951.7 L731.6 950.6 L732.4 949.4 L733.1 948.2 L733.9 947.0 L734.6 945.8 L735.3 944.6 L735.9 943.3 L736.5 942.0 L737.1 940.6 L737.7 939.1 L738.2 937.7 L738.7 936.1 L739.1 934.6 L739.6 933.0 L739.9 931.5 L740.3 929.9 L740.6 928.2 L740.9 926.6 L741.1 925.0 L741.3 923.3 L741.4 921.7 L741.5 920.0 L741.6 918.1 L741.6 916.2 L741.6 914.3 L741.5 912.3 L741.4 910.3 L741.2 908.3 L741.0 906.2 L740.7 904.2 L740.4 902.2 L740.0 900.3 L739.6 898.4 L739.1 896.5 L738.6 894.7 L738.0 893.0 L737.4 891.5 L736.8 890.1 L736.1 888.6 L735.4 887.2 L734.6 885.8 L733.8 884.4 L732.9 883.1 L732.1 881.8 L731.1 880.5 L730.2 879.3 L729.2 878.2 L728.1 877.1 L727.1 876.0 L726.0 875.0 L724.9 874.1 L723.8 873.2 L722.6 872.4 L721.3 871.6 L720.1 870.8 L718.8 870.1 L717.5 869.4 L716.1 868.8 L714.8 868.2 L713.4 867.7 L712.0 867.2 L710.7 866.8 L709.3 866.4 L708.0 866.0 L706.7 865.7 L705.5 865.5 L704.2 865.4 L703.0 865.2 L701.7 865.2 L700.4 865.2 L699.1 865.2 L697.8 865.2 L696.5 865.3 L695.2 865.3 L693.9 865.4 L692.6 865.4 L691.3 865.5 L690.0 865.5 L688.6 865.5 L687.2 865.5 L685.8 865.5 L684.3 865.6 L682.9 865.6 L681.4 865.6 L680.0 865.7 L678.5 865.7 L677.1 865.8 L675.7 865.9 L674.2 866.0 L672.8 866.2 L671.4 866.3 L670.0 866.5 L668.7 866.7 L667.3 866.9 L665.9 867.0 L664.6 867.2 L663.2 867.4 L661.9 867.7 L660.6 867.9 L659.2 868.2 L657.9 868.5 L656.6 868.8 L655.4 869.2 L654.1 869.7 L652.9 870.2 L651.7 870.8 L650.4 871.5 L649.2 872.3 L647.9 873.1 L646.6 873.9 L645.4 874.9 L644.2 875.9 L643.0 876.9 L641.8 877.9 L640.7 879.0 L639.7 880.2 L638.6 881.4 L637.7 882.5 L636.8 883.8 L636.0 885.0 L635.2 886.3 L634.5 887.7 L633.9 889.1 L633.3 890.5 L632.7 892.0 L632.2 893.6 L631.8 895.1 L631.4 896.7 L631.0 898.3 L630.8 899.8 L630.5 901.4 L630.3 903.0 L630.2 904.5 L630.1 906.0 L630.1 907.5 L630.1 908.9 L630.1 910.4 L630.2 912.0 L630.3 913.5 L630.5 915.0 L630.8 916.5 L631.1 918.0 L631.4 919.4 L631.8 920.8 L632.3 922.2 L632.8 923.5 L633.4 924.8 L634.0 926.0 L634.7 927.1 L635.4 928.1 L636.3 929.2 L637.1 930.2 L638.1 931.1 L639.1 932.0 L640.1 932.9 L641.2 933.8 L642.3 934.6 L643.4 935.4 L644.5 936.1 L645.7 936.8 L646.8 937.4 L648.0 938.0 L649.2 938.6 L650.5 939.1 L651.7 939.5 L653.1 939.9 L654.4 940.3 L655.8 940.6 L657.1 940.9 L658.5 941.2 L659.9 941.4 L661.4 941.6 L662.8 941.7 L664.2 941.8 L665.6 941.9 L667.0 942.0 L668.5 942.0 L670.0 942.1 L671.5 942.0 L673.0 942.0 L674.5 941.9 L676.1 941.8 L677.6 941.6 L679.1 941.4 L680.6 941.2 L682.2 940.9 L683.7 940.6 L685.1 940.3 L686.6 939.9 L688.0 939.5 L689.4 939.1 L690.8 938.6 L692.1 938.0 L693.5 937.5 L694.9 936.9 L696.2 936.2 L697.6 935.6 L698.9 934.9 L700.2 934.1 L701.4 933.4 L702.6 932.6 L703.8 931.8 L704.9 930.9 L706.0 930.0 L707.0 929.1 L708.0 928.2 L708.9 927.2 L709.9 926.2 L710.8 925.1 L711.7 924.0 L712.5 922.9 L713.3 921.8 L714.1 920.7 L714.8 919.5 L715.4 918.4 L716.0 917.3 L716.5 916.1 L717.0 915.0 L717.4 914.0 L717.7 913.0 L718.0 912.0 L718.3 911.0 L718.5 909.9 L718.7 908.9 L718.9 907.9 L719.0 906.8 L719.0 905.8 L719.0 904.8 L719.0 903.8 L718.9 902.8 L718.7 901.9 L718.5 901.0 L718.2 900.1 L717.9 899.3 L717.4 898.4 L717.0 897.5 L716.4 896.7 L715.9 895.9 L715.2 895.1 L714.6 894.3 L713.9 893.6 L713.1 892.8 L712.4 892.1 L711.6 891.5 L710.8 890.9 L710.0 890.3 L709.0 889.7 L708.0 889.1 L706.9 888.6 L705.8 888.1 L704.6 887.7 L703.4 887.3 L702.2 886.9 L700.9 886.6 L699.6 886.3 L698.4 886.0 L697.1 885.8 L695.8 885.6 L694.5 885.5 L693.3 885.4 L692.0 885.3 L690.8 885.3 L689.5 885.4 L688.2 885.5 L686.9 885.6 L685.7 885.8 L684.4 886.0 L683.1 886.3 L681.8 886.6 L680.5 886.9 L679.2 887.2 L677.9 887.5 L676.6 887.9 L675.3 888.2 L673.9 888.6 L672.5 889.0 L671.0 889.4 L669.6 889.9 L668.1 890.3 L666.7 890.8 L665.3 891.3 L663.8 891.9 L662.4 892.5 L661.0 893.1 L659.7 893.7 L658.3 894.4 L657.0 895.1 L655.8 895.8 L654.7 896.5 L653.6 897.3 L652.5 898.1 L651.4 898.9 L650.4 899.8 L649.4 900.6 L648.4 901.5 L647.4 902.5 L646.4 903.4 L645.5 904.4 L644.6 905.3 L643.7 906.3 L642.8 907.3 L641.9 908.3 L641.0 909.3 L640.2 910.3 L639.3 911.4 L638.4 912.4 L637.6 913.5 L636.8 914.6 L636.0 915.7 L635.2 916.8 L634.4 917.9 L633.8 919.0 L633.1 920.2 L632.5 921.3 L632.0 922.5 L631.5 923.6 L631.1 924.7 L630.8 925.7 L630.4 926.8 L630.1 927.9 L629.9 929.0 L629.7 930.1 L629.5 931.3 L629.3 932.4 L629.2 933.5 L629.2 934.6 L629.2 935.7 L629.2 936.8 L629.3 937.9 L629.4 939.0 L629.6 940.1 L629.8 941.2 L630.1 942.3 L630.4 943.5 L630.8 944.6 L631.2 945.7 L631.7 946.8 L632.2 947.9 L632.7 949.0 L633.3 950.0 L633.9 951.1 L634.6 952.1 L635.3 953.1 L636.0 954.0 L636.8 955.0 L637.8 956.0 L638.7 956.9 L639.7 957.8 L640.8 958.7 L641.9 959.6 L643.1 960.4 L644.3 961.3 L645.5 962.1 L646.7 962.9 L648.0 963.7 L649.3 964.4 L650.7 965.2 L652.0 966.0 L653.7 966.9 L655.5 967.9 L657.4 968.8 L659.3 969.7 L661.3 970.5 L663.3 971.4 L665.4 972.3 L667.5 973.1 L669.5 973.9 L671.6 974.7 L673.6 975.5 L675.6 976.3 L677.5 977.0 L679.4 977.8 L681.0 978.4 L682.6 979.1 L684.1 979.7 L685.7 980.3 L687.2 980.9 L688.7 981.5 L690.2 982.1 L691.7 982.6 L693.2 983.2 L694.6 983.8 L696.1 984.3 L697.5 984.9 L698.9 985.4 L700.3 986.0 L701.5 986.5 L702.7 986.9 L703.8 987.4 L705.0 987.8 L706.1 988.3 L707.2 988.7 L708.4 989.1 L709.5 989.6 L710.6 990.0 L711.7 990.5 L712.7 990.9 L713.8 991.4 L714.9 992.0 L716.0 992.5 L717.1 993.1 L718.2 993.7 L719.3 994.3 L720.4 995.0 L721.5 995.6 L722.6 996.3 L723.7 997.0 L724.7 997.7 L725.8 998.4 L726.9 999.1 L727.9 999.8 L729.0 1000.5 L730.0 1001.3 L731.0 1002.0 L732.0 1002.7 L733.0 1003.5 L733.9 1004.3 L734.9 1005.1 L735.8 1005.9 L736.8 1006.7 L737.7 1007.5 L738.6 1008.3 L739.5 1009.1 L740.4 1009.9 L741.3 1010.7 L742.2 1011.5 L743.1 1012.3 L744.0 1013.0 L744.8 1013.6 L745.5 1014.3 L746.3 1014.9 L747.0 1015.5 L747.8 1016.1 L748.5 1016.7 L749.3 1017.3 L750.0 1017.9 L750.7 1018.5 L751.5 1019.1 L752.2 1019.7 L752.9 1020.3 L753.7 1020.9 L754.4 1021.5" fill="none" stroke="#0cb0ec" stroke-width="10.90" stroke-linejoin="round"/>
<circle cx="754.4" cy="1021.5" r="5.45" fill="#0cb0ec"/>
<circle cx="685.3" cy="836.5" r="10.00" fill="#1d1d1f"/>
<path d="M664.0 760.0 L664.0 766.5 L664.1 773.2 L664.2 779.9 L664.2 786.7 L664.3 793.5 L664.4 800.4 L664.5 807.1 L664.6 813.8 L664.6 820.4 L664.6 826.8 L664.6 833.0 L664.5 838.9 L664.4 844.6 L664.2 850.0 L664.0 853.5 L663.9 856.8 L663.7 860.0 L663.5 863.1 L663.3 866.1 L663.1 869.0 L662.8 871.9 L662.5 874.7 L662.3 877.5 L662.0 880.3 L661.7 883.1 L661.4 885.9 L661.0 888.8 L660.7 891.7 L660.3 894.7 L659.9 897.7 L659.5 900.7 L659.1 903.7 L658.6 906.7 L658.2 909.7 L657.7 912.8 L657.2 915.7 L656.7 918.7 L656.3 921.7 L655.8 924.6 L655.3 927.6 L654.8 930.4 L654.4 933.3 L654.0 935.9 L653.6 938.5 L653.2 941.1 L652.8 943.7 L652.4 946.2 L652.0 948.8 L651.6 951.3 L651.2 953.8 L650.8 956.3 L650.4 958.8 L650.0 961.1 L649.6 963.5 L649.3 965.8 L648.9 968.0 L648.6 969.7 L648.2 971.4 L647.9 973.1 L647.5 974.7 L647.1 976.3 L646.7 977.9 L646.3 979.4 L646.0 981.0 L645.7 982.5 L645.5 984.0 L645.3 985.5 L645.2 987.0 L645.2 988.5 L645.3 990.0 L645.5 991.5 L645.7 993.0 L646.0 994.6 L646.3 996.2 L646.7 997.7 L647.1 999.3 L647.6 1000.8 L648.1 1002.3 L648.8 1003.8 L649.5 1005.1 L650.2 1006.4 L651.1 1007.6 L652.0 1008.7 L653.0 1009.7 L654.2 1010.6 L655.6 1011.5 L657.0 1012.2 L658.6 1012.9 L660.3 1013.5 L662.1 1014.0 L663.9 1014.4 L665.7 1014.8 L667.6 1015.1 L669.5 1015.3 L671.4 1015.4 L673.2 1015.4 L675.0 1015.4 L676.7 1015.3 L678.4 1015.1 L680.2 1014.8 L682.0 1014.4 L683.8 1013.9 L685.6 1013.4 L687.4 1012.7 L689.1 1012.0 L690.9 1011.2 L692.6 1010.4 L694.3 1009.5 L695.9 1008.6 L697.4 1007.6 L698.9 1006.6 L700.3 1005.6 L701.5 1004.6 L702.7 1003.6 L703.9 1002.6 L705.1 1001.5 L706.2 1000.3 L707.3 999.1 L708.3 997.9 L709.3 996.7 L710.2 995.4 L711.0 994.1 L711.8 992.8 L712.5 991.5 L713.1 990.2 L713.6 988.9 L714.0 987.6 L714.3 986.4 L714.5 985.1 L714.6 983.8 L714.6 982.4 L714.6 981.1 L714.6 979.7 L714.5 978.4 L714.3 977.0 L714.2 975.6 L714.0 974.2 L713.8 972.8 L713.7 971.4 L713.5 970.0 L713.3 968.4 L713.1 966.9 L712.9 965.4 L712.6 963.8 L712.3 962.3 L712.0 960.7 L711.6 959.1 L711.3 957.5 L710.9 955.9 L710.5 954.2 L710.0 952.5 L709.6 950.8 L709.1 949.0 L708.6 947.2 L707.9 944.6 L707.0 941.9 L706.1 939.1 L705.1 936.2 L704.1 933.2 L703.0 930.2 L701.9 927.2 L700.8 924.1 L699.7 921.0 L698.6 917.9 L697.6 914.8 L696.5 911.7 L695.6 908.6 L694.7 905.6 L693.9 902.6 L693.0 899.6 L692.2 896.6 L691.3 893.5 L690.5 890.4 L689.7 887.3 L688.9 884.3 L688.2 881.2 L687.5 878.2 L686.8 875.2 L686.3 872.3 L685.8 869.4 L685.3 866.6 L685.0 863.9 L684.8 861.8 L684.7 859.7 L684.6 857.7 L684.6 855.7 L684.6 853.7 L684.6 851.8 L684.7 849.9 L684.8 848.0 L684.9 846.1 L685.0 844.2 L685.1 842.3 L685.2 840.4 L685.3 838.4 L685.3 836.5" fill="none" stroke="#1d1d1f" stroke-width="20.00" stroke-linejoin="round"/>
<path d="M664.0 760.0 L664.0 766.5 L664.1 773.2 L664.2 779.9 L664.2 786.7 L664.3 793.5 L664.4 800.4 L664.5 807.1 L664.6 813.8 L664.6 820.4 L664.6 826.8 L664.6 833.0 L664.5 838.9 L664.4 844.6 L664.2 850.0 L664.0 853.5 L663.9 856.8 L663.7 860.0 L663.5 863.1 L663.3 866.1 L663.1 869.0 L662.8 871.9 L662.5 874.7 L662.3 877.5 L662.0 880.3 L661.7 883.1 L661.4 885.9 L661.0 888.8 L660.7 891.7 L660.3 894.7 L659.9 897.7 L659.5 900.7 L659.1 903.7 L658.6 906.7 L658.2 909.7 L657.7 912.8 L657.2 915.7 L656.7 918.7 L656.3 921.7 L655.8 924.6 L655.3 927.6 L654.8 930.4 L654.4 933.3 L654.0 935.9 L653.6 938.5 L653.2 941.1 L652.8 943.7 L652.4 946.2 L652.0 948.8 L651.6 951.3 L651.2 953.8 L650.8 956.3 L650.4 958.8 L650.0 961.1 L649.6 963.5 L649.3 965.8 L648.9 968.0 L648.6 969.7 L648.2 971.4 L647.9 973.1 L647.5 974.7 L647.1 976.3 L646.7 977.9 L646.3 979.4 L646.0 981.0 L645.7 982.5 L645.5 984.0 L645.3 985.5 L645.2 987.0 L645.2 988.5 L645.3 990.0 L645.5 991.5 L645.7 993.0 L646.0 994.6 L646.3 996.2 L646.7 997.7 L647.1 999.3 L647.6 1000.8 L648.1 1002.3 L648.8 1003.8 L649.5 1005.1 L650.2 1006.4 L651.1 1007.6 L652.0 1008.7 L653.0 1009.7 L654.2 1010.6 L655.6 1011.5 L657.0 1012.2 L658.6 1012.9 L660.3 1013.5 L662.1 1014.0 L663.9 1014.4 L665.7 1014.8 L667.6 1015.1 L669.5 1015.3 L671.4 1015.4 L673.2 1015.4 L675.0 1015.4 L676.7 1015.3 L678.4 1015.1 L680.2 1014.8 L682.0 1014.4 L683.8 1013.9 L685.6 1013.4 L687.4 1012.7 L689.1 1012.0 L690.9 1011.2 L692.6 1010.4 L694.3 1009.5 L695.9 1008.6 L697.4 1007.6 L698.9 1006.6 L700.3 1005.6 L701.5 1004.6 L702.7 1003.6 L703.9 1002.6 L705.1 1001.5 L706.2 1000.3 L707.3 999.1 L708.3 997.9 L709.3 996.7 L710.2 995.4 L711.0 994.1 L711.8 992.8 L712.5 991.5 L713.1 990.2 L713.6 988.9 L714.0 987.6 L714.3 986.4 L714.5 985.1 L714.6 983.8 L714.6 982.4 L714.6 981.1 L714.6 979.7 L714.5 978.4 L714.3 977.0 L714.2 975.6 L714.0 974.2 L713.8 972.8 L713.7 971.4 L713.5 970.0 L713.3 968.4 L713.1 966.9 L712.9 965.4 L712.6 963.8 L712.3 962.3 L712.0 960.7 L711.6 959.1 L711.3 957.5 L710.9 955.9 L710.5 954.2 L710.0 952.5 L709.6 950.8 L709.1 949.0 L708.6 947.2 L707.9 944.6 L707.0 941.9 L706.1 939.1 L705.1 936.2 L704.1 933.2 L703.0 930.2 L701.9 927.2 L700.8 924.1 L699.7 921.0 L698.6 917.9 L697.6 914.8 L696.5 911.7 L695.6 908.6 L694.7 905.6 L693.9 902.6 L693.0 899.6 L692.2 896.6 L691.3 893.5 L690.5 890.4 L689.7 887.3 L688.9 884.3 L688.2 881.2 L687.5 878.2 L686.8 875.2 L686.3 872.3 L685.8 869.4 L685.3 866.6 L685.0 863.9 L684.8 861.8 L684.7 859.7 L684.6 857.7 L684.6 855.7 L684.6 853.7 L684.6 851.8 L684.7 849.9 L684.8 848.0 L684.9 846.1 L685.0 844.2 L685.1 842.3 L685.2 840.4 L685.3 838.4 L685.3 836.5" fill="none" stroke="#c69c6d" stroke-width="16.40" stroke-linejoin="round"/>
<circle cx="685.3" cy="836.5" r="8.20" fill="#c69c6d"/>
<path d="M632.2 893.6 L631.8 895.1 L631.4 896.7 L631.0 898.3 L630.8 899.8 L630.5 901.4 L630.3 903.0 L630.2 904.5 L630.1 906.0 L630.1 907.5 L630.1 908.9 L630.1 910.4 L630.2 912.0 L630.3 913.5 L630.5 915.0 L630.8 916.5 L631.1 918.0 L631.4 919.4 L631.8 920.8 L632.3 922.2 L632.8 923.5 L633.4 924.8 L634.0 926.0 L634.7 927.1 L635.4 928.1 L636.3 929.2 L637.1 930.2 L638.1 931.1 L639.1 932.0 L640.1 932.9 L641.2 933.8 L642.3 934.6 L643.4 935.4 L644.5 936.1 L645.7 936.8 L646.8 937.4 L648.0 938.0 L649.2 938.6" fill="none" stroke="#1d1d1f" stroke-width="14.50" stroke-linejoin="round"/>
<path d="M632.7 892.0 L632.2 893.6 L631.8 895.1 L631.4 896.7 L631.0 898.3 L630.8 899.8 L630.5 901.4 L630.3 903.0 L630.2 904.5 L630.1 906.0 L630.1 907.5 L630.1 908.9 L630.1 910.4 L630.2 912.0 L630.3 913.5 L630.5 915.0 L630.8 916.5 L631.1 918.0 L631.4 919.4 L631.8 920.8 L632.3 922.2 L632.8 923.5 L633.4 924.8 L634.0 926.0 L634.7 927.1 L635.4 928.1 L636.3 929.2 L637.1 930.2 L638.1 931.1 L639.1 932.0 L640.1 932.9 L641.2 933.8 L642.3 934.6 L643.4 935.4 L644.5 936.1 L645.7 936.8 L646.8 937.4 L648.0 938.0 L649.2 938.6 L650.5 939.1" fill="none" stroke="#0cb0ec" stroke-width="10.90" stroke-linejoin="round"/>
<circle cx="754.4" cy="1021.5" r="7.25" fill="#1d1d1f"/>
<path d="M636.8 955.0 L637.8 956.0 L638.7 956.9 L639.7 957.8 L640.8 958.7 L641.9 959.6 L643.1 960.4 L644.3 961.3 L645.5 962.1 L646.7 962.9 L648.0 963.7 L649.3 964.4 L650.7 965.2 L652.0 966.0 L653.7 966.9 L655.5 967.9 L657.4 968.8 L659.3 969.7 L661.3 970.5 L663.3 971.4 L665.4 972.3 L667.5 973.1 L669.5 973.9 L671.6 974.7 L673.6 975.5 L675.6 976.3 L677.5 977.0 L679.4 977.8 L681.0 978.4 L682.6 979.1 L684.1 979.7 L685.7 980.3 L687.2 980.9 L688.7 981.5 L690.2 982.1 L691.7 982.6 L693.2 983.2 L694.6 983.8 L696.1 984.3 L697.5 984.9 L698.9 985.4 L700.3 986.0 L701.5 986.5 L702.7 986.9 L703.8 987.4 L705.0 987.8 L706.1 988.3 L707.2 988.7 L708.4 989.1 L709.5 989.6 L710.6 990.0 L711.7 990.5 L712.7 990.9 L713.8 991.4 L714.9 992.0 L716.0 992.5 L717.1 993.1 L718.2 993.7 L719.3 994.3 L720.4 995.0 L721.5 995.6 L722.6 996.3 L723.7 997.0 L724.7 997.7 L725.8 998.4 L726.9 999.1 L727.9 999.8 L729.0 1000.5 L730.0 1001.3 L731.0 1002.0 L732.0 1002.7 L733.0 1003.5 L733.9 1004.3 L734.9 1005.1 L735.8 1005.9 L736.8 1006.7 L737.7 1007.5 L738.6 1008.3 L739.5 1009.1 L740.4 1009.9 L741.3 1010.7 L742.2 1011.5 L743.1 1012.3 L744.0 1013.0 L744.8 1013.6 L745.5 1014.3 L746.3 1014.9 L747.0 1015.5 L747.8 1016.1 L748.5 1016.7 L749.3 1017.3 L750.0 1017.9 L750.7 1018.5 L751.5 1019.1 L752.2 1019.7 L752.9 1020.3 L753.7 1020.9" fill="none" stroke="#1d1d1f" stroke-width="14.50" stroke-linejoin="round"/>
<path d="M636.0 954.0 L636.8 955.0 L637.8 956.0 L638.7 956.9 L639.7 957.8 L640.8 958.7 L641.9 959.6 L643.1 960.4 L644.3 961.3 L645.5 962.1 L646.7 962.9 L648.0 963.7 L649.3 964.4 L650.7 965.2 L652.0 966.0 L653.7 966.9 L655.5 967.9 L657.4 968.8 L659.3 969.7 L661.3 970.5 L663.3 971.4 L665.4 972.3 L667.5 973.1 L669.5 973.9 L671.6 974.7 L673.6 975.5 L675.6 976.3 L677.5 977.0 L679.4 977.8 L681.0 978.4 L682.6 979.1 L684.1 979.7 L685.7 980.3 L687.2 980.9 L688.7 981.5 L690.2 982.1 L691.7 982.6 L693.2 983.2 L694.6 983.8 L696.1 984.3 L697.5 984.9 L698.9 985.4 L700.3 986.0 L701.5 986.5 L702.7 986.9 L703.8 987.4 L705.0 987.8 L706.1 988.3 L707.2 988.7 L708.4 989.1 L709.5 989.6 L710.6 990.0 L711.7 990.5 L712.7 990.9 L713.8 991.4 L714.9 992.0 L716.0 992.5 L717.1 993.1 L718.2 993.7 L719.3 994.3 L720.4 995.0 L721.5 995.6 L722.6 996.3 L723.7 997.0 L724.7 997.7 L725.8 998.4 L726.9 999.1 L727.9 999.8 L729.0 1000.5 L730.0 1001.3 L731.0 1002.0 L732.0 1002.7 L733.0 1003.5 L733.9 1004.3 L734.9 1005.1 L735.8 1005.9 L736.8 1006.7 L737.7 1007.5 L738.6 1008.3 L739.5 1009.1 L740.4 1009.9 L741.3 1010.7 L742.2 1011.5 L743.1 1012.3 L744.0 1013.0 L744.8 1013.6 L745.5 1014.3 L746.3 1014.9 L747.0 1015.5 L747.8 1016.1 L748.5 1016.7 L749.3 1017.3 L750.0 1017.9 L750.7 1018.5 L751.5 1019.1 L752.2 1019.7 L752.9 1020.3 L753.7 1020.9 L754.4 1021.5" fill="none" stroke="#0cb0ec" stroke-width="10.90" stroke-linejoin="round"/>
<circle cx="754.4" cy="1021.5" r="5.45" fill="#0cb0ec"/>
<path d="M641.2 933.8 L642.3 934.6 L643.4 935.4 L644.5 936.1 L645.7 936.8 L646.8 937.4 L648.0 938.0 L649.2 938.6 L650.5 939.1 L651.7 939.5 L653.1 939.9 L654.4 940.3 L655.8 940.6 L657.1 940.9 L658.5 941.2 L659.9 941.4 L661.4 941.6 L662.8 941.7 L664.2 941.8 L665.6 941.9 L667.0 942.0 L668.5 942.0 L670.0 942.1 L671.5 942.0 L673.0 942.0 L674.5 941.9 L676.1 941.8 L677.6 941.6 L679.1 941.4 L680.6 941.2 L682.2 940.9 L683.7 940.6 L685.1 940.3 L686.6 939.9 L688.0 939.5 L689.4 939.1 L690.8 938.6 L692.1 938.0 L693.5 937.5 L694.9 936.9 L696.2 936.2 L697.6 935.6 L698.9 934.9 L700.2 934.1 L701.4 933.4 L702.6 932.6 L703.8 931.8 L704.9 930.9 L706.0 930.0 L707.0 929.1 L708.0 928.2 L708.9 927.2 L709.9 926.2 L710.8 925.1 L711.7 924.0 L712.5 922.9 L713.3 921.8 L714.1 920.7 L714.8 919.5 L715.4 918.4 L716.0 917.3 L716.5 916.1" fill="none" stroke="#1d1d1f" stroke-width="14.50" stroke-linejoin="round"/>
<path d="M640.1 932.9 L641.2 933.8 L642.3 934.6 L643.4 935.4 L644.5 936.1 L645.7 936.8 L646.8 937.4 L648.0 938.0 L649.2 938.6 L650.5 939.1 L651.7 939.5 L653.1 939.9 L654.4 940.3 L655.8 940.6 L657.1 940.9 L658.5 941.2 L659.9 941.4 L661.4 941.6 L662.8 941.7 L664.2 941.8 L665.6 941.9 L667.0 942.0 L668.5 942.0 L670.0 942.1 L671.5 942.0 L673.0 942.0 L674.5 941.9 L676.1 941.8 L677.6 941.6 L679.1 941.4 L680.6 941.2 L682.2 940.9 L683.7 940.6 L685.1 940.3 L686.6 939.9 L688.0 939.5 L689.4 939.1 L690.8 938.6 L692.1 938.0 L693.5 937.5 L694.9 936.9 L696.2 936.2 L697.6 935.6 L698.9 934.9 L700.2 934.1 L701.4 933.4 L702.6 932.6 L703.8 931.8 L704.9 930.9 L706.0 930.0 L707.0 929.1 L708.0 928.2 L708.9 927.2 L709.9 926.2 L710.8 925.1 L711.7 924.0 L712.5 922.9 L713.3 921.8 L714.1 920.7 L714.8 919.5 L715.4 918.4 L716.0 917.3 L716.5 916.1 L717.0 915.0" fill="none" stroke="#0cb0ec" stroke-width="10.90" stroke-linejoin="round"/>
<path d="M678.8 994.6 L679.3 993.7 L679.9 992.9 L680.4 992.0 L681.0 991.2 L681.6 990.4 L682.2 989.6 L682.8 988.8 L683.5 988.0 L684.2 987.2 L684.9 986.4 L685.7 985.7 L686.4 984.9 L687.2 984.2 L688.0 983.5 L688.9 982.7 L689.7 982.0 L690.6 981.4 L691.4 980.7 L692.3 980.0 L693.2 979.3 L694.1 978.7 L695.0 978.0 L696.0 977.3 L697.0 976.6 L698.0 976.0 L699.1 975.3 L700.2 974.7 L701.2 974.1 L702.3 973.5 L703.4 972.9 L704.5 972.3 L705.7 971.6 L706.8 971.0 L707.8 970.4 L708.9 969.7 L710.0 969.0 L711.1 968.3 L712.2 967.6 L713.4 966.8 L714.5 966.1 L715.7 965.4 L716.8 964.6 L717.9 963.9 L719.1 963.1 L720.2 962.3 L721.2 961.5 L722.3 960.7 L723.3 959.8 L724.3 958.9 L725.3 958.0 L726.3 957.0 L727.2 956.0 L728.1 955.0 L729.0 953.9 L729.9 952.8 L730.7 951.7 L731.6 950.6 L732.4 949.4 L733.1 948.2 L733.9 947.0 L734.6 945.8 L735.3 944.6 L735.9 943.3 L736.5 942.0 L737.1 940.6 L737.7 939.1 L738.2 937.7 L738.7 936.1 L739.1 934.6 L739.6 933.0 L739.9 931.5 L740.3 929.9 L740.6 928.2 L740.9 926.6 L741.1 925.0 L741.3 923.3 L741.4 921.7" fill="none" stroke="#1d1d1f" stroke-width="14.50" stroke-linejoin="round"/>
<path d="M678.3 995.5 L678.8 994.6 L679.3 993.7 L679.9 992.9 L680.4 992.0 L681.0 991.2 L681.6 990.4 L682.2 989.6 L682.8 988.8 L683.5 988.0 L684.2 987.2 L684.9 986.4 L685.7 985.7 L686.4 984.9 L687.2 984.2 L688.0 983.5 L688.9 982.7 L689.7 982.0 L690.6 981.4 L691.4 980.7 L692.3 980.0 L693.2 979.3 L694.1 978.7 L695.0 978.0 L696.0 977.3 L697.0 976.6 L698.0 976.0 L699.1 975.3 L700.2 974.7 L701.2 974.1 L702.3 973.5 L703.4 972.9 L704.5 972.3 L705.7 971.6 L706.8 971.0 L707.8 970.4 L708.9 969.7 L710.0 969.0 L711.1 968.3 L712.2 967.6 L713.4 966.8 L714.5 966.1 L715.7 965.4 L716.8 964.6 L717.9 963.9 L719.1 963.1 L720.2 962.3 L721.2 961.5 L722.3 960.7 L723.3 959.8 L724.3 958.9 L725.3 958.0 L726.3 957.0 L727.2 956.0 L728.1 955.0 L729.0 953.9 L729.9 952.8 L730.7 951.7 L731.6 950.6 L732.4 949.4 L733.1 948.2 L733.9 947.0 L734.6 945.8 L735.3 944.6 L735.9 943.3 L736.5 942.0 L737.1 940.6 L737.7 939.1 L738.2 937.7 L738.7 936.1 L739.1 934.6 L739.6 933.0 L739.9 931.5 L740.3 929.9 L740.6 928.2 L740.9 926.6 L741.1 925.0 L741.3 923.3 L741.4 921.7 L741.5 920.0" fill="none" stroke="#0cb0ec" stroke-width="10.90" stroke-linejoin="round"/>
<polygon points="768.5,1022.7 794.1,1032.4 789.5,1021.1 799.6,1025.6 805.7,1040.8 789.5,1048 780.1,1044.7 791.5,1038.9 766.2,1028.5" fill="#f3351d"/>
<path d="M405.5 1212.5 L405.1 1211.8 L404.8 1211.2 L404.4 1210.5 L404.0 1209.8 L403.6 1209.1 L403.2 1208.5 L402.8 1207.8 L402.4 1207.1 L402.0 1206.5 L401.7 1205.8 L401.3 1205.1 L401.0 1204.4 L400.7 1203.7 L400.5 1203.0 L400.3 1202.3 L400.1 1201.6 L399.9 1200.9 L399.8 1200.2 L399.6 1199.5 L399.5 1198.7 L399.4 1198.0 L399.3 1197.3 L399.3 1196.6 L399.2 1195.8 L399.2 1195.1 L399.2 1194.4 L399.2 1193.7 L399.2 1193.0 L399.2 1192.3 L399.3 1191.7 L399.3 1191.0 L399.4 1190.3 L399.5 1189.6 L399.6 1189.0 L399.7 1188.3 L399.9 1187.7 L400.0 1187.0 L400.2 1186.4 L400.4 1185.8 L400.6 1185.2 L400.8 1184.6 L401.0 1184.0 L401.2 1183.5 L401.4 1183.0 L401.7 1182.6 L402.0 1182.1 L402.2 1181.7 L402.5 1181.3 L402.8 1180.8 L403.1 1180.4 L403.4 1180.0 L403.7 1179.6 L404.0 1179.2 L404.4 1178.8 L404.7 1178.4 L405.0 1178.0 L405.3 1177.6 L405.7 1177.2 L406.0 1176.8 L406.4 1176.4 L406.7 1176.0 L407.1 1175.6 L407.4 1175.2 L407.8 1174.8 L408.2 1174.4 L408.5 1174.1 L408.9 1173.7 L409.3 1173.3 L409.6 1172.9 L410.0 1172.5" fill="none" stroke="#f3351d" stroke-width="6.20" stroke-linecap="butt" stroke-linejoin="round"/>
<polygon points="393.9,1172.8 400.6,1166.4 416.7,1166.4 416.7,1182.2 410,1188.3 409.2,1178.3 404.4,1172.8" fill="#f3351d"/>
<path d="M501.7 1235.0 L500.9 1235.6 L500.1 1236.2 L499.3 1236.8 L498.5 1237.4 L497.7 1238.0 L496.9 1238.6 L496.1 1239.2 L495.3 1239.8 L494.5 1240.4 L493.7 1241.0 L492.9 1241.7 L492.1 1242.4 L491.4 1243.1 L490.6 1243.9 L489.7 1244.9 L488.8 1245.9 L487.8 1247.0 L486.9 1248.2 L486.0 1249.4 L485.0 1250.6 L484.1 1251.8 L483.3 1253.1 L482.4 1254.3 L481.5 1255.6 L480.7 1256.9 L479.9 1258.1 L479.2 1259.4 L478.5 1260.6 L477.9 1261.7 L477.2 1262.8 L476.6 1263.9 L476.0 1265.0 L475.3 1266.1 L474.7 1267.2 L474.2 1268.3 L473.7 1269.4 L473.2 1270.5 L472.8 1271.6 L472.5 1272.7 L472.2 1273.8 L472.1 1274.9 L472.0 1276.0 L472.0 1277.0 L472.2 1278.1 L472.4 1279.2 L472.6 1280.3 L472.9 1281.3 L473.3 1282.4 L473.8 1283.5 L474.3 1284.5 L474.8 1285.5 L475.4 1286.5 L476.0 1287.5 L476.6 1288.4 L477.3 1289.2 L478.0 1290.0 L478.8 1290.8 L479.6 1291.5 L480.4 1292.2 L481.4 1292.9 L482.4 1293.5 L483.4 1294.1 L484.4 1294.7 L485.5 1295.2 L486.6 1295.7 L487.7 1296.1 L488.8 1296.4 L489.9 1296.7 L490.9 1296.9 L492.0 1297.0 L493.1 1297.0 L494.2 1297.0 L495.4 1296.9 L496.6 1296.7 L497.8 1296.4 L499.0 1296.1 L500.2 1295.8 L501.4 1295.3 L502.5 1294.9 L503.7 1294.3 L504.8 1293.8 L505.9 1293.2 L507.0 1292.6 L508.0 1292.0 L509.0 1291.3 L510.0 1290.6 L510.9 1289.8 L511.8 1288.9 L512.7 1288.0 L513.5 1287.1 L514.4 1286.1 L515.2 1285.1 L516.0 1284.1 L516.8 1283.1 L517.6 1282.0 L518.4 1281.0 L519.2 1280.0 L520.0 1279.0 L520.8 1278.0 L521.7 1276.9 L522.5 1275.8 L523.3 1274.7 L524.1 1273.5 L525.0 1272.4 L525.8 1271.2 L526.6 1270.1 L527.3 1269.0 L528.1 1267.9 L528.9 1266.9 L529.6 1265.9 L530.3 1264.9 L531.0 1264.0 L531.5 1263.4 L531.9 1262.8 L532.4 1262.3 L532.8 1261.8 L533.3 1261.3 L533.7 1260.8 L534.1 1260.3 L534.5 1259.8 L534.9 1259.3 L535.3 1258.8 L535.7 1258.4 L536.2 1257.9 L536.6 1257.4 L537.0 1256.9" fill="none" stroke="#1d1d1f" stroke-width="12.50" stroke-linejoin="round"/>
<path d="M501.7 1235.0 L500.9 1235.6 L500.1 1236.2 L499.3 1236.8 L498.5 1237.4 L497.7 1238.0 L496.9 1238.6 L496.1 1239.2 L495.3 1239.8 L494.5 1240.4 L493.7 1241.0 L492.9 1241.7 L492.1 1242.4 L491.4 1243.1 L490.6 1243.9 L489.7 1244.9 L488.8 1245.9 L487.8 1247.0 L486.9 1248.2 L486.0 1249.4 L485.0 1250.6 L484.1 1251.8 L483.3 1253.1 L482.4 1254.3 L481.5 1255.6 L480.7 1256.9 L479.9 1258.1 L479.2 1259.4 L478.5 1260.6 L477.9 1261.7 L477.2 1262.8 L476.6 1263.9 L476.0 1265.0 L475.3 1266.1 L474.7 1267.2 L474.2 1268.3 L473.7 1269.4 L473.2 1270.5 L472.8 1271.6 L472.5 1272.7 L472.2 1273.8 L472.1 1274.9 L472.0 1276.0 L472.0 1277.0 L472.2 1278.1 L472.4 1279.2 L472.6 1280.3 L472.9 1281.3 L473.3 1282.4 L473.8 1283.5 L474.3 1284.5 L474.8 1285.5 L475.4 1286.5 L476.0 1287.5 L476.6 1288.4 L477.3 1289.2 L478.0 1290.0 L478.8 1290.8 L479.6 1291.5 L480.4 1292.2 L481.4 1292.9 L482.4 1293.5 L483.4 1294.1 L484.4 1294.7 L485.5 1295.2 L486.6 1295.7 L487.7 1296.1 L488.8 1296.4 L489.9 1296.7 L490.9 1296.9 L492.0 1297.0 L493.1 1297.0 L494.2 1297.0 L495.4 1296.9 L496.6 1296.7 L497.8 1296.4 L499.0 1296.1 L500.2 1295.8 L501.4 1295.3 L502.5 1294.9 L503.7 1294.3 L504.8 1293.8 L505.9 1293.2 L507.0 1292.6 L508.0 1292.0 L509.0 1291.3 L510.0 1290.6 L510.9 1289.8 L511.8 1288.9 L512.7 1288.0 L513.5 1287.1 L514.4 1286.1 L515.2 1285.1 L516.0 1284.1 L516.8 1283.1 L517.6 1282.0 L518.4 1281.0 L519.2 1280.0 L520.0 1279.0 L520.8 1278.0 L521.7 1276.9 L522.5 1275.8 L523.3 1274.7 L524.1 1273.5 L525.0 1272.4 L525.8 1271.2 L526.6 1270.1 L527.3 1269.0 L528.1 1267.9 L528.9 1266.9 L529.6 1265.9 L530.3 1264.9 L531.0 1264.0 L531.5 1263.4 L531.9 1262.8 L532.4 1262.3 L532.8 1261.8 L533.3 1261.3 L533.7 1260.8 L534.1 1260.3 L534.5 1259.8 L534.9 1259.3 L535.3 1258.8 L535.7 1258.4 L536.2 1257.9 L536.6 1257.4 L537.0 1256.9" fill="none" stroke="#e6e6e6" stroke-width="8.90" stroke-linejoin="round"/>
<rect x="481.2" y="1218.5" width="14" height="10" rx="2.5" transform="rotate(35.4 488.2 1223.5)" fill="#e6e6e6" stroke="#1d1d1f" stroke-width="1.8"/>
<circle cx="488.2" cy="1223.5" r="3" fill="#fff" stroke="#1d1d1f" stroke-width="1.3"/>
<path d="M501.7 1231.9 L504.2 1233.7 L506.7 1235.5 L509.2 1237.3 L511.8 1239.0 L514.3 1240.8 L516.8 1242.6 L519.3 1244.4 L521.8 1246.2 L524.3 1248.0 L526.8 1249.8 L529.4 1251.5 L531.9 1253.3 L534.4 1255.1 L536.9 1256.9" fill="none" stroke="#1d1d1f" stroke-width="12.00" stroke-linecap="butt" stroke-linejoin="round"/>
<path d="M501.7 1231.9 L504.2 1233.7 L506.7 1235.5 L509.2 1237.3 L511.8 1239.0 L514.3 1240.8 L516.8 1242.6 L519.3 1244.4 L521.8 1246.2 L524.3 1248.0 L526.8 1249.8 L529.4 1251.5 L531.9 1253.3 L534.4 1255.1 L536.9 1256.9" fill="none" stroke="#e6e6e6" stroke-width="8.40" stroke-linecap="butt" stroke-linejoin="round"/>
<rect x="527.9" y="1252.9" width="22.0" height="14.0" rx="7.0" transform="rotate(-54.6 538.9 1259.9)" fill="#e6e6e6" stroke="#1d1d1f" stroke-width="1.8"/>
<rect x="522.9" y="1248.9" width="28.0" height="16.0" rx="8.0" transform="rotate(-54.6 536.9 1256.9)" fill="#e6e6e6" stroke="#1d1d1f" stroke-width="1.8"/>
<rect x="487.7" y="1223.9" width="28.0" height="16.0" rx="8.0" transform="rotate(-54.6 501.7 1231.9)" fill="#e6e6e6" stroke="#1d1d1f" stroke-width="1.8"/>
<path d="M402.5 1420.8 L405.2 1419.0 L408.0 1417.2 L410.7 1415.4 L413.5 1413.7 L416.2 1411.9 L419.0 1410.1 L421.7 1408.3 L424.5 1406.6 L427.2 1404.8 L429.9 1402.9 L432.6 1401.1 L435.2 1399.2 L437.8 1397.3 L440.4 1395.3 L442.9 1393.3 L445.5 1391.3 L448.1 1389.3 L450.6 1387.2 L453.2 1385.2 L455.7 1383.1 L458.1 1381.0 L460.6 1378.8 L463.0 1376.6 L465.3 1374.5 L467.6 1372.2 L469.7 1370.0 L471.8 1367.7 L473.8 1365.4 L475.5 1363.3 L477.2 1361.1 L478.9 1358.9 L480.4 1356.7 L482.0 1354.4 L483.4 1352.1 L484.9 1349.8 L486.2 1347.5 L487.5 1345.2 L488.8 1342.9 L490.0 1340.6 L491.1 1338.3 L492.2 1336.0 L493.2 1333.7 L494.0 1331.7 L494.8 1329.7 L495.6 1327.6 L496.3 1325.6 L496.9 1323.5 L497.5 1321.5 L498.1 1319.4 L498.6 1317.4 L499.1 1315.4 L499.6 1313.4 L500.0 1311.4 L500.4 1309.4 L500.8 1307.5 L501.1 1305.6 L501.4 1304.0 L501.7 1302.4 L501.9 1300.9 L502.1 1299.3 L502.4 1297.8 L502.6 1296.3 L502.7 1294.8 L502.8 1293.3 L502.9 1291.8 L503.0 1290.4 L503.0 1288.9 L503.0 1287.4 L502.9 1285.9 L502.8 1284.4 L502.6 1282.9 L502.4 1281.3 L502.1 1279.8 L501.8 1278.3 L501.5 1276.8 L501.1 1275.3 L500.7 1273.7 L500.2 1272.2 L499.7 1270.7 L499.2 1269.2 L498.6 1267.7 L498.0 1266.2 L497.4 1264.8 L496.7 1263.3 L495.9 1261.7 L495.1 1260.2 L494.3 1258.6 L493.4 1257.1 L492.5 1255.5 L491.5 1254.0 L490.5 1252.5 L489.4 1251.0 L488.4 1249.5 L487.3 1248.0 L486.1 1246.5 L485.0 1245.1 L483.8 1243.6 L482.6 1242.2 L481.3 1240.7 L480.0 1239.2 L478.6 1237.7 L477.2 1236.2 L475.7 1234.6 L474.2 1233.2 L472.7 1231.7 L471.2 1230.3 L469.6 1228.9 L468.1 1227.6 L466.4 1226.3 L464.8 1225.1 L463.2 1224.0 L461.5 1222.9 L459.9 1222.0 L458.2 1221.0 L456.5 1220.2 L454.7 1219.3 L452.9 1218.5 L451.1 1217.8 L449.2 1217.1 L447.4 1216.5 L445.6 1215.9 L443.8 1215.4 L442.0 1214.9 L440.3 1214.6 L438.6 1214.3 L436.9 1214.1 L435.5 1214.0 L434.1 1213.9 L432.7 1213.8 L431.3 1213.8 L429.9 1213.9 L428.5 1214.0 L427.1 1214.1 L425.8 1214.3 L424.5 1214.5 L423.3 1214.8 L422.1 1215.2 L421.1 1215.6 L420.1 1216.1 L419.3 1216.7 L418.7 1217.3 L418.1 1217.9 L417.5 1218.6 L417.0 1219.3 L416.6 1220.1 L416.2 1221.0 L415.8 1221.8 L415.5 1222.7 L415.2 1223.6 L415.1 1224.6 L414.9 1225.5 L414.8 1226.4 L414.8 1227.3 L414.9 1228.1 L415.1 1229.1 L415.4 1230.1 L415.7 1231.2 L416.2 1232.2 L416.8 1233.3 L417.5 1234.4 L418.2 1235.4 L419.0 1236.5 L419.8 1237.5 L420.7 1238.5 L421.6 1239.5 L422.6 1240.4 L423.5 1241.3 L424.5 1242.2 L425.8 1243.2 L427.1 1244.1 L428.6 1245.0 L430.2 1245.8 L431.8 1246.6 L433.5 1247.4 L435.2 1248.2 L437.0 1248.9 L438.7 1249.5 L440.5 1250.2 L442.3 1250.9 L444.0 1251.5 L445.7 1252.2 L447.4 1252.8 L448.9 1253.4 L450.5 1253.9 L452.0 1254.4 L453.6 1254.9 L455.2 1255.3 L456.8 1255.7 L458.3 1256.2 L459.9 1256.6 L461.4 1257.0 L462.9 1257.5 L464.4 1258.0 L465.8 1258.6 L467.2 1259.1 L468.5 1259.8 L469.7 1260.4 L470.8 1261.1 L471.9 1261.7 L473.1 1262.4 L474.1 1263.1 L475.2 1263.8 L476.3 1264.6 L477.3 1265.3 L478.3 1266.1 L479.2 1266.9 L480.1 1267.8 L481.0 1268.6 L481.8 1269.5 L482.6 1270.4 L483.3 1271.3 L484.0 1272.2 L484.7 1273.1 L485.3 1274.0 L486.0 1275.0 L486.6 1275.9 L487.1 1276.9 L487.7 1277.9 L488.1 1279.0 L488.5 1280.0 L488.9 1281.1 L489.2 1282.2 L489.4 1283.3 L489.6 1284.4 L489.7 1285.8 L489.7 1287.2 L489.6 1288.6 L489.4 1290.1 L489.1 1291.7 L488.8 1293.2 L488.4 1294.8 L487.9 1296.4 L487.4 1297.9 L486.9 1299.5 L486.3 1301.1 L485.7 1302.6 L485.0 1304.1 L484.4 1305.6 L483.7 1307.2 L482.9 1308.7 L482.0 1310.3 L481.2 1311.8 L480.2 1313.3 L479.2 1314.8 L478.2 1316.3 L477.1 1317.8 L476.0 1319.3 L474.9 1320.8 L473.8 1322.2 L472.6 1323.7 L471.5 1325.2 L470.3 1326.7 L469.0 1328.3 L467.6 1330.0 L466.3 1331.6 L464.8 1333.3 L463.4 1334.9 L461.9 1336.5 L460.4 1338.2 L458.9 1339.8 L457.4 1341.4 L455.8 1343.1 L454.2 1344.7 L452.5 1346.3 L450.9 1347.9 L449.2 1349.5 L447.3 1351.3 L445.3 1353.1 L443.3 1354.9 L441.3 1356.7 L439.2 1358.5 L437.1 1360.3 L434.9 1362.1 L432.7 1363.8 L430.5 1365.6 L428.3 1367.4 L426.1 1369.1 L423.8 1370.8 L421.6 1372.5 L419.3 1374.2 L416.9 1375.9 L414.5 1377.6 L412.0 1379.3 L409.5 1380.9 L407.0 1382.6 L404.5 1384.2 L402.0 1385.8 L399.4 1387.4 L396.8 1389.0 L394.3 1390.6 L391.7 1392.2 L389.2 1393.8 L386.6 1395.4 L384.1 1397.0" fill="none" stroke="#1d1d1f" stroke-width="14.00" stroke-linejoin="round"/>
<path d="M402.5 1420.8 L405.2 1419.0 L408.0 1417.2 L410.7 1415.4 L413.5 1413.7 L416.2 1411.9 L419.0 1410.1 L421.7 1408.3 L424.5 1406.6 L427.2 1404.8 L429.9 1402.9 L432.6 1401.1 L435.2 1399.2 L437.8 1397.3 L440.4 1395.3 L442.9 1393.3 L445.5 1391.3 L448.1 1389.3 L450.6 1387.2 L453.2 1385.2 L455.7 1383.1 L458.1 1381.0 L460.6 1378.8 L463.0 1376.6 L465.3 1374.5 L467.6 1372.2 L469.7 1370.0 L471.8 1367.7 L473.8 1365.4 L475.5 1363.3 L477.2 1361.1 L478.9 1358.9 L480.4 1356.7 L482.0 1354.4 L483.4 1352.1 L484.9 1349.8 L486.2 1347.5 L487.5 1345.2 L488.8 1342.9 L490.0 1340.6 L491.1 1338.3 L492.2 1336.0 L493.2 1333.7 L494.0 1331.7 L494.8 1329.7 L495.6 1327.6 L496.3 1325.6 L496.9 1323.5 L497.5 1321.5 L498.1 1319.4 L498.6 1317.4 L499.1 1315.4 L499.6 1313.4 L500.0 1311.4 L500.4 1309.4 L500.8 1307.5 L501.1 1305.6 L501.4 1304.0 L501.7 1302.4 L501.9 1300.9 L502.1 1299.3 L502.4 1297.8 L502.6 1296.3 L502.7 1294.8 L502.8 1293.3 L502.9 1291.8 L503.0 1290.4 L503.0 1288.9 L503.0 1287.4 L502.9 1285.9 L502.8 1284.4 L502.6 1282.9 L502.4 1281.3 L502.1 1279.8 L501.8 1278.3 L501.5 1276.8 L501.1 1275.3 L500.7 1273.7 L500.2 1272.2 L499.7 1270.7 L499.2 1269.2 L498.6 1267.7 L498.0 1266.2 L497.4 1264.8 L496.7 1263.3 L495.9 1261.7 L495.1 1260.2 L494.3 1258.6 L493.4 1257.1 L492.5 1255.5 L491.5 1254.0 L490.5 1252.5 L489.4 1251.0 L488.4 1249.5 L487.3 1248.0 L486.1 1246.5 L485.0 1245.1 L483.8 1243.6 L482.6 1242.2 L481.3 1240.7 L480.0 1239.2 L478.6 1237.7 L477.2 1236.2 L475.7 1234.6 L474.2 1233.2 L472.7 1231.7 L471.2 1230.3 L469.6 1228.9 L468.1 1227.6 L466.4 1226.3 L464.8 1225.1 L463.2 1224.0 L461.5 1222.9 L459.9 1222.0 L458.2 1221.0 L456.5 1220.2 L454.7 1219.3 L452.9 1218.5 L451.1 1217.8 L449.2 1217.1 L447.4 1216.5 L445.6 1215.9 L443.8 1215.4 L442.0 1214.9 L440.3 1214.6 L438.6 1214.3 L436.9 1214.1 L435.5 1214.0 L434.1 1213.9 L432.7 1213.8 L431.3 1213.8 L429.9 1213.9 L428.5 1214.0 L427.1 1214.1 L425.8 1214.3 L424.5 1214.5 L423.3 1214.8 L422.1 1215.2 L421.1 1215.6 L420.1 1216.1 L419.3 1216.7 L418.7 1217.3 L418.1 1217.9 L417.5 1218.6 L417.0 1219.3 L416.6 1220.1 L416.2 1221.0 L415.8 1221.8 L415.5 1222.7 L415.2 1223.6 L415.1 1224.6 L414.9 1225.5 L414.8 1226.4 L414.8 1227.3 L414.9 1228.1 L415.1 1229.1 L415.4 1230.1 L415.7 1231.2 L416.2 1232.2 L416.8 1233.3 L417.5 1234.4 L418.2 1235.4 L419.0 1236.5 L419.8 1237.5 L420.7 1238.5 L421.6 1239.5 L422.6 1240.4 L423.5 1241.3 L424.5 1242.2 L425.8 1243.2 L427.1 1244.1 L428.6 1245.0 L430.2 1245.8 L431.8 1246.6 L433.5 1247.4 L435.2 1248.2 L437.0 1248.9 L438.7 1249.5 L440.5 1250.2 L442.3 1250.9 L444.0 1251.5 L445.7 1252.2 L447.4 1252.8 L448.9 1253.4 L450.5 1253.9 L452.0 1254.4 L453.6 1254.9 L455.2 1255.3 L456.8 1255.7 L458.3 1256.2 L459.9 1256.6 L461.4 1257.0 L462.9 1257.5 L464.4 1258.0 L465.8 1258.6 L467.2 1259.1 L468.5 1259.8 L469.7 1260.4 L470.8 1261.1 L471.9 1261.7 L473.1 1262.4 L474.1 1263.1 L475.2 1263.8 L476.3 1264.6 L477.3 1265.3 L478.3 1266.1 L479.2 1266.9 L480.1 1267.8 L481.0 1268.6 L481.8 1269.5 L482.6 1270.4 L483.3 1271.3 L484.0 1272.2 L484.7 1273.1 L485.3 1274.0 L486.0 1275.0 L486.6 1275.9 L487.1 1276.9 L487.7 1277.9 L488.1 1279.0 L488.5 1280.0 L488.9 1281.1 L489.2 1282.2 L489.4 1283.3 L489.6 1284.4 L489.7 1285.8 L489.7 1287.2 L489.6 1288.6 L489.4 1290.1 L489.1 1291.7 L488.8 1293.2 L488.4 1294.8 L487.9 1296.4 L487.4 1297.9 L486.9 1299.5 L486.3 1301.1 L485.7 1302.6 L485.0 1304.1 L484.4 1305.6 L483.7 1307.2 L482.9 1308.7 L482.0 1310.3 L481.2 1311.8 L480.2 1313.3 L479.2 1314.8 L478.2 1316.3 L477.1 1317.8 L476.0 1319.3 L474.9 1320.8 L473.8 1322.2 L472.6 1323.7 L471.5 1325.2 L470.3 1326.7 L469.0 1328.3 L467.6 1330.0 L466.3 1331.6 L464.8 1333.3 L463.4 1334.9 L461.9 1336.5 L460.4 1338.2 L458.9 1339.8 L457.4 1341.4 L455.8 1343.1 L454.2 1344.7 L452.5 1346.3 L450.9 1347.9 L449.2 1349.5 L447.3 1351.3 L445.3 1353.1 L443.3 1354.9 L441.3 1356.7 L439.2 1358.5 L437.1 1360.3 L434.9 1362.1 L432.7 1363.8 L430.5 1365.6 L428.3 1367.4 L426.1 1369.1 L423.8 1370.8 L421.6 1372.5 L419.3 1374.2 L416.9 1375.9 L414.5 1377.6 L412.0 1379.3 L409.5 1380.9 L407.0 1382.6 L404.5 1384.2 L402.0 1385.8 L399.4 1387.4 L396.8 1389.0 L394.3 1390.6 L391.7 1392.2 L389.2 1393.8 L386.6 1395.4 L384.1 1397.0" fill="none" stroke="#0cb0ec" stroke-width="10.40" stroke-linejoin="round"/>
<path d="M502.8 1293.3 L502.9 1291.8 L503.0 1290.4 L503.0 1288.9 L503.0 1287.4 L502.9 1285.9 L502.8 1284.4 L502.6 1282.9 L502.4 1281.3 L502.1 1279.8 L501.8 1278.3 L501.5 1276.8 L501.1 1275.3 L500.7 1273.7 L500.2 1272.2 L499.7 1270.7 L499.2 1269.2 L498.6 1267.7 L498.0 1266.2 L497.4 1264.8 L496.7 1263.3 L495.9 1261.7 L495.1 1260.2 L494.3 1258.6 L493.4 1257.1 L492.5 1255.5 L491.5 1254.0 L490.5 1252.5 L489.4 1251.0 L488.4 1249.5 L487.3 1248.0 L486.1 1246.5 L485.0 1245.1 L483.8 1243.6 L482.6 1242.2 L481.3 1240.7 L480.0 1239.2 L478.6 1237.7 L477.2 1236.2 L475.7 1234.6 L474.2 1233.2 L472.7 1231.7 L471.2 1230.3 L469.6 1228.9 L468.1 1227.6 L466.4 1226.3 L464.8 1225.1 L463.2 1224.0 L461.5 1222.9 L459.9 1222.0 L458.2 1221.0 L456.5 1220.2 L454.7 1219.3 L452.9 1218.5 L451.1 1217.8" fill="none" stroke="#1d1d1f" stroke-width="14.00" stroke-linejoin="round"/>
<path d="M502.7 1294.8 L502.8 1293.3 L502.9 1291.8 L503.0 1290.4 L503.0 1288.9 L503.0 1287.4 L502.9 1285.9 L502.8 1284.4 L502.6 1282.9 L502.4 1281.3 L502.1 1279.8 L501.8 1278.3 L501.5 1276.8 L501.1 1275.3 L500.7 1273.7 L500.2 1272.2 L499.7 1270.7 L499.2 1269.2 L498.6 1267.7 L498.0 1266.2 L497.4 1264.8 L496.7 1263.3 L495.9 1261.7 L495.1 1260.2 L494.3 1258.6 L493.4 1257.1 L492.5 1255.5 L491.5 1254.0 L490.5 1252.5 L489.4 1251.0 L488.4 1249.5 L487.3 1248.0 L486.1 1246.5 L485.0 1245.1 L483.8 1243.6 L482.6 1242.2 L481.3 1240.7 L480.0 1239.2 L478.6 1237.7 L477.2 1236.2 L475.7 1234.6 L474.2 1233.2 L472.7 1231.7 L471.2 1230.3 L469.6 1228.9 L468.1 1227.6 L466.4 1226.3 L464.8 1225.1 L463.2 1224.0 L461.5 1222.9 L459.9 1222.0 L458.2 1221.0 L456.5 1220.2 L454.7 1219.3 L452.9 1218.5 L451.1 1217.8 L449.2 1217.1" fill="none" stroke="#0cb0ec" stroke-width="10.40" stroke-linejoin="round"/>
<path d="M472.6 1280.3 L472.9 1281.3 L473.3 1282.4 L473.8 1283.5 L474.3 1284.5 L474.8 1285.5 L475.4 1286.5 L476.0 1287.5 L476.6 1288.4 L477.3 1289.2 L478.0 1290.0 L478.8 1290.8 L479.6 1291.5 L480.4 1292.2 L481.4 1292.9 L482.4 1293.5 L483.4 1294.1 L484.4 1294.7 L485.5 1295.2 L486.6 1295.7 L487.7 1296.1 L488.8 1296.4 L489.9 1296.7 L490.9 1296.9 L492.0 1297.0 L493.1 1297.0 L494.2 1297.0 L495.4 1296.9 L496.6 1296.7 L497.8 1296.4 L499.0 1296.1 L500.2 1295.8 L501.4 1295.3 L502.5 1294.9 L503.7 1294.3 L504.8 1293.8 L505.9 1293.2 L507.0 1292.6 L508.0 1292.0 L509.0 1291.3 L510.0 1290.6 L510.9 1289.8 L511.8 1288.9 L512.7 1288.0 L513.5 1287.1 L514.4 1286.1 L515.2 1285.1 L516.0 1284.1 L516.8 1283.1 L517.6 1282.0 L518.4 1281.0 L519.2 1280.0 L520.0 1279.0 L520.8 1278.0 L521.7 1276.9 L522.5 1275.8 L523.3 1274.7 L524.1 1273.5 L525.0 1272.4 L525.8 1271.2 L526.6 1270.1 L527.3 1269.0 L528.1 1267.9 L528.9 1266.9 L529.6 1265.9 L530.3 1264.9 L531.0 1264.0 L531.5 1263.4" fill="none" stroke="#1d1d1f" stroke-width="12.50" stroke-linejoin="round"/>
<path d="M472.4 1279.2 L472.6 1280.3 L472.9 1281.3 L473.3 1282.4 L473.8 1283.5 L474.3 1284.5 L474.8 1285.5 L475.4 1286.5 L476.0 1287.5 L476.6 1288.4 L477.3 1289.2 L478.0 1290.0 L478.8 1290.8 L479.6 1291.5 L480.4 1292.2 L481.4 1292.9 L482.4 1293.5 L483.4 1294.1 L484.4 1294.7 L485.5 1295.2 L486.6 1295.7 L487.7 1296.1 L488.8 1296.4 L489.9 1296.7 L490.9 1296.9 L492.0 1297.0 L493.1 1297.0 L494.2 1297.0 L495.4 1296.9 L496.6 1296.7 L497.8 1296.4 L499.0 1296.1 L500.2 1295.8 L501.4 1295.3 L502.5 1294.9 L503.7 1294.3 L504.8 1293.8 L505.9 1293.2 L507.0 1292.6 L508.0 1292.0 L509.0 1291.3 L510.0 1290.6 L510.9 1289.8 L511.8 1288.9 L512.7 1288.0 L513.5 1287.1 L514.4 1286.1 L515.2 1285.1 L516.0 1284.1 L516.8 1283.1 L517.6 1282.0 L518.4 1281.0 L519.2 1280.0 L520.0 1279.0 L520.8 1278.0 L521.7 1276.9 L522.5 1275.8 L523.3 1274.7 L524.1 1273.5 L525.0 1272.4 L525.8 1271.2 L526.6 1270.1 L527.3 1269.0 L528.1 1267.9 L528.9 1266.9 L529.6 1265.9 L530.3 1264.9 L531.0 1264.0 L531.5 1263.4 L531.9 1262.8" fill="none" stroke="#e6e6e6" stroke-width="8.90" stroke-linejoin="round"/>
<path d="M746.6 1230.1 L746.0 1231.0 L745.4 1231.9 L744.8 1232.9 L744.1 1233.8 L743.5 1234.7 L742.9 1235.6 L742.3 1236.5 L741.7 1237.4 L741.1 1238.3 L740.5 1239.3 L739.8 1240.2 L739.2 1241.1 L738.6 1242.1 L738.0 1243.0 L737.4 1244.0 L736.7 1245.0 L736.1 1246.0 L735.4 1247.0 L734.8 1248.0 L734.2 1249.0 L733.5 1250.0 L732.9 1251.0 L732.2 1252.0 L731.6 1253.0 L730.9 1254.0 L730.3 1255.0 L729.7 1256.0 L729.0 1257.0 L728.3 1258.0 L727.7 1258.9 L726.9 1259.9 L726.2 1260.8 L725.5 1261.7 L724.7 1262.7 L724.0 1263.6 L723.3 1264.6 L722.6 1265.5 L722.0 1266.4 L721.4 1267.3 L720.8 1268.2 L720.4 1269.1 L720.0 1270.0 L719.8 1270.7 L719.5 1271.3 L719.3 1272.0 L719.2 1272.6 L719.0 1273.2 L718.9 1273.9 L718.8 1274.5 L718.8 1275.1 L718.7 1275.8 L718.7 1276.4 L718.7 1277.1 L718.7 1277.7 L718.8 1278.3 L718.9 1279.0 L719.0 1279.8 L719.2 1280.6 L719.4 1281.4 L719.7 1282.3 L719.9 1283.2 L720.3 1284.0 L720.6 1284.9 L721.0 1285.7 L721.4 1286.5 L721.8 1287.3 L722.3 1288.1 L722.9 1288.8 L723.4 1289.4 L724.0 1290.0 L724.7 1290.6 L725.4 1291.1 L726.2 1291.6 L727.1 1292.0 L728.0 1292.4 L728.9 1292.8 L729.8 1293.1 L730.8 1293.4 L731.8 1293.6 L732.8 1293.9 L733.8 1294.0 L734.8 1294.2 L735.8 1294.3 L736.7 1294.4 L737.6 1294.5 L738.6 1294.5 L739.6 1294.4 L740.6 1294.4 L741.6 1294.2 L742.5 1294.1 L743.5 1293.9 L744.5 1293.7 L745.5 1293.5 L746.4 1293.2 L747.4 1293.0 L748.3 1292.7 L749.2 1292.3 L750.0 1292.0 L750.7 1291.7 L751.4 1291.3 L752.1 1291.0 L752.8 1290.6 L753.5 1290.2 L754.1 1289.7 L754.8 1289.3 L755.4 1288.8 L756.0 1288.3 L756.6 1287.8 L757.2 1287.3 L757.8 1286.7 L758.3 1286.2 L758.9 1285.6 L759.5 1284.9 L760.1 1284.2 L760.6 1283.4 L761.1 1282.6 L761.6 1281.8 L762.1 1281.0 L762.6 1280.1 L763.1 1279.2 L763.5 1278.3 L764.0 1277.5 L764.5 1276.6 L765.0 1275.7 L765.5 1274.8 L766.0 1274.0 L766.5 1273.1 L767.1 1272.3 L767.6 1271.4 L768.2 1270.5 L768.7 1269.6 L769.3 1268.7 L769.8 1267.8 L770.4 1266.9 L771.0 1266.0 L771.6 1265.2 L772.2 1264.3 L772.8 1263.5 L773.4 1262.7 L774.0 1262.0 L774.6 1261.4 L775.2 1260.7 L775.8 1260.1 L776.4 1259.6 L777.0 1259.0 L777.6 1258.5 L778.3 1257.9 L778.9 1257.4 L779.5 1256.9 L780.2 1256.3 L780.8 1255.8 L781.4 1255.3 L782.1 1254.8 L782.7 1254.2" fill="none" stroke="#1d1d1f" stroke-width="12.50" stroke-linejoin="round"/>
<path d="M746.6 1230.1 L746.0 1231.0 L745.4 1231.9 L744.8 1232.9 L744.1 1233.8 L743.5 1234.7 L742.9 1235.6 L742.3 1236.5 L741.7 1237.4 L741.1 1238.3 L740.5 1239.3 L739.8 1240.2 L739.2 1241.1 L738.6 1242.1 L738.0 1243.0 L737.4 1244.0 L736.7 1245.0 L736.1 1246.0 L735.4 1247.0 L734.8 1248.0 L734.2 1249.0 L733.5 1250.0 L732.9 1251.0 L732.2 1252.0 L731.6 1253.0 L730.9 1254.0 L730.3 1255.0 L729.7 1256.0 L729.0 1257.0 L728.3 1258.0 L727.7 1258.9 L726.9 1259.9 L726.2 1260.8 L725.5 1261.7 L724.7 1262.7 L724.0 1263.6 L723.3 1264.6 L722.6 1265.5 L722.0 1266.4 L721.4 1267.3 L720.8 1268.2 L720.4 1269.1 L720.0 1270.0 L719.8 1270.7 L719.5 1271.3 L719.3 1272.0 L719.2 1272.6 L719.0 1273.2 L718.9 1273.9 L718.8 1274.5 L718.8 1275.1 L718.7 1275.8 L718.7 1276.4 L718.7 1277.1 L718.7 1277.7 L718.8 1278.3 L718.9 1279.0 L719.0 1279.8 L719.2 1280.6 L719.4 1281.4 L719.7 1282.3 L719.9 1283.2 L720.3 1284.0 L720.6 1284.9 L721.0 1285.7 L721.4 1286.5 L721.8 1287.3 L722.3 1288.1 L722.9 1288.8 L723.4 1289.4 L724.0 1290.0 L724.7 1290.6 L725.4 1291.1 L726.2 1291.6 L727.1 1292.0 L728.0 1292.4 L728.9 1292.8 L729.8 1293.1 L730.8 1293.4 L731.8 1293.6 L732.8 1293.9 L733.8 1294.0 L734.8 1294.2 L735.8 1294.3 L736.7 1294.4 L737.6 1294.5 L738.6 1294.5 L739.6 1294.4 L740.6 1294.4 L741.6 1294.2 L742.5 1294.1 L743.5 1293.9 L744.5 1293.7 L745.5 1293.5 L746.4 1293.2 L747.4 1293.0 L748.3 1292.7 L749.2 1292.3 L750.0 1292.0 L750.7 1291.7 L751.4 1291.3 L752.1 1291.0 L752.8 1290.6 L753.5 1290.2 L754.1 1289.7 L754.8 1289.3 L755.4 1288.8 L756.0 1288.3 L756.6 1287.8 L757.2 1287.3 L757.8 1286.7 L758.3 1286.2 L758.9 1285.6 L759.5 1284.9 L760.1 1284.2 L760.6 1283.4 L761.1 1282.6 L761.6 1281.8 L762.1 1281.0 L762.6 1280.1 L763.1 1279.2 L763.5 1278.3 L764.0 1277.5 L764.5 1276.6 L765.0 1275.7 L765.5 1274.8 L766.0 1274.0 L766.5 1273.1 L767.1 1272.3 L767.6 1271.4 L768.2 1270.5 L768.7 1269.6 L769.3 1268.7 L769.8 1267.8 L770.4 1266.9 L771.0 1266.0 L771.6 1265.2 L772.2 1264.3 L772.8 1263.5 L773.4 1262.7 L774.0 1262.0 L774.6 1261.4 L775.2 1260.7 L775.8 1260.1 L776.4 1259.6 L777.0 1259.0 L777.6 1258.5 L778.3 1257.9 L778.9 1257.4 L779.5 1256.9 L780.2 1256.3 L780.8 1255.8 L781.4 1255.3 L782.1 1254.8 L782.7 1254.2" fill="none" stroke="#e6e6e6" stroke-width="8.90" stroke-linejoin="round"/>
<path d="M630.4 1407.4 L632.4 1405.6 L634.5 1403.9 L636.6 1402.2 L638.6 1400.4 L640.7 1398.7 L642.8 1396.9 L644.9 1395.2 L646.9 1393.4 L649.0 1391.7 L651.0 1389.9 L653.0 1388.2 L655.0 1386.4 L657.0 1384.6 L658.9 1382.8 L660.7 1381.1 L662.5 1379.3 L664.3 1377.5 L666.1 1375.7 L667.9 1373.9 L669.6 1372.1 L671.3 1370.3 L673.0 1368.5 L674.7 1366.7 L676.4 1364.9 L678.1 1363.1 L679.7 1361.4 L681.4 1359.7 L683.0 1358.0 L684.4 1356.6 L685.9 1355.1 L687.3 1353.8 L688.7 1352.4 L690.1 1351.1 L691.5 1349.7 L692.9 1348.4 L694.2 1347.1 L695.6 1345.7 L696.9 1344.4 L698.2 1343.1 L699.5 1341.7 L700.8 1340.3 L702.0 1338.9 L703.2 1337.5 L704.3 1336.1 L705.5 1334.7 L706.6 1333.3 L707.7 1331.9 L708.8 1330.4 L709.9 1329.0 L710.9 1327.5 L712.0 1326.1 L713.0 1324.6 L714.0 1323.2 L715.0 1321.8 L716.0 1320.4 L717.0 1319.0 L717.9 1317.8 L718.7 1316.5 L719.6 1315.3 L720.4 1314.0 L721.2 1312.8 L722.0 1311.6 L722.8 1310.4 L723.6 1309.1 L724.3 1307.9 L725.1 1306.7 L725.8 1305.5 L726.6 1304.3 L727.3 1303.2 L728.0 1302.0 L728.7 1301.0 L729.3 1299.9 L730.0 1298.9 L730.7 1297.9 L731.4 1296.9 L732.1 1295.9 L732.8 1294.9 L733.4 1293.9 L734.0 1292.9 L734.6 1292.0 L735.0 1291.0 L735.5 1290.0 L735.8 1289.0 L736.0 1288.0 L736.1 1287.1 L736.2 1286.3 L736.2 1285.4 L736.2 1284.5 L736.1 1283.7 L736.0 1282.8 L735.9 1281.9 L735.7 1281.1 L735.5 1280.2 L735.2 1279.3 L735.0 1278.5 L734.7 1277.7 L734.3 1276.8 L734.0 1276.0 L733.6 1275.1 L733.1 1274.2 L732.5 1273.4 L732.0 1272.5 L731.3 1271.7 L730.7 1270.8 L730.0 1270.0 L729.3 1269.1 L728.5 1268.3 L727.8 1267.5 L727.1 1266.6 L726.4 1265.8 L725.7 1264.9 L725.0 1264.0 L724.3 1263.0 L723.5 1262.1 L722.8 1261.1 L722.0 1260.2 L721.2 1259.2 L720.4 1258.2 L719.6 1257.2 L718.9 1256.2 L718.1 1255.2 L717.4 1254.2 L716.8 1253.2 L716.1 1252.1 L715.5 1251.1 L715.0 1250.0 L714.5 1248.9 L714.1 1247.8 L713.6 1246.7 L713.2 1245.5 L712.8 1244.4 L712.5 1243.2 L712.1 1242.0 L711.9 1240.8 L711.6 1239.6 L711.4 1238.5 L711.2 1237.3 L711.1 1236.2 L711.0 1235.1 L711.0 1234.0 L711.0 1233.1 L711.1 1232.1 L711.1 1231.2 L711.2 1230.3 L711.4 1229.3 L711.5 1228.4 L711.7 1227.5 L711.9 1226.6 L712.2 1225.7 L712.5 1224.9 L712.8 1224.1 L713.2 1223.3 L713.6 1222.6 L714.0 1222.0 L714.4 1221.5 L714.9 1221.0 L715.3 1220.5 L715.8 1220.0 L716.4 1219.6 L716.9 1219.2 L717.5 1218.9 L718.1 1218.5 L718.7 1218.2 L719.3 1217.9 L720.0 1217.6 L720.6 1217.4 L721.3 1217.2 L722.0 1217.0 L722.9 1216.8 L723.8 1216.7 L724.7 1216.6 L725.7 1216.6 L726.6 1216.6 L727.7 1216.6 L728.7 1216.7 L729.7 1216.8 L730.8 1217.0 L731.8 1217.1 L732.9 1217.3 L733.9 1217.5 L735.0 1217.8 L736.0 1218.0 L737.1 1218.3 L738.3 1218.7 L739.4 1219.0 L740.6 1219.5 L741.7 1219.9 L742.9 1220.4 L744.0 1221.0 L745.2 1221.5 L746.3 1222.1 L747.5 1222.6 L748.6 1223.2 L749.7 1223.8 L750.9 1224.4 L752.0 1225.0 L753.2 1225.6 L754.3 1226.3 L755.5 1226.9 L756.6 1227.6 L757.8 1228.3 L758.9 1229.0 L760.1 1229.7 L761.2 1230.5 L762.3 1231.2 L763.5 1231.9 L764.6 1232.7 L765.7 1233.5 L766.9 1234.2 L768.0 1235.0 L769.2 1235.8 L770.3 1236.6 L771.5 1237.4 L772.7 1238.2 L773.8 1239.1 L775.0 1239.9 L776.1 1240.8 L777.3 1241.6 L778.4 1242.5 L779.6 1243.4 L780.7 1244.3 L781.8 1245.2 L782.9 1246.1 L784.0 1247.0 L785.1 1247.9 L786.2 1248.9 L787.3 1249.8 L788.4 1250.7 L789.5 1251.7 L790.6 1252.7 L791.7 1253.6 L792.7 1254.6 L793.8 1255.6 L794.8 1256.7 L795.7 1257.7 L796.6 1258.8 L797.5 1259.9 L798.3 1261.0 L799.0 1262.1 L799.8 1263.3 L800.5 1264.4 L801.2 1265.6 L801.9 1266.9 L802.6 1268.1 L803.2 1269.4 L803.7 1270.6 L804.2 1271.9 L804.6 1273.2 L805.0 1274.4 L805.3 1275.6 L805.4 1276.8 L805.5 1278.0 L805.5 1279.1 L805.4 1280.2 L805.2 1281.3 L805.0 1282.4 L804.7 1283.6 L804.4 1284.7 L804.0 1285.8 L803.6 1286.9 L803.1 1287.9 L802.6 1288.9 L802.0 1289.8 L801.4 1290.6 L800.7 1291.4 L800.0 1292.0 L799.3 1292.5 L798.4 1293.0 L797.6 1293.3 L796.6 1293.7 L795.6 1293.9 L794.6 1294.1 L793.5 1294.3 L792.5 1294.4 L791.4 1294.4 L790.3 1294.4 L789.2 1294.4 L788.1 1294.3 L787.0 1294.2 L786.0 1294.0 L784.9 1293.7 L783.7 1293.4 L782.6 1292.9 L781.4 1292.4 L780.2 1291.8 L779.1 1291.1 L777.9 1290.4 L776.7 1289.7 L775.6 1288.9 L774.5 1288.2 L773.3 1287.5 L772.2 1286.8 L771.1 1286.1 L770.0 1285.5 L769.0 1285.0 L768.1 1284.4 L767.1 1283.8 L766.2 1283.3 L765.2 1282.7 L764.3 1282.1 L763.4 1281.6 L762.4 1281.0 L761.5 1280.5 L760.6 1280.0 L759.7 1279.6 L758.8 1279.2 L757.9 1278.8 L757.0 1278.5 L756.3 1278.3 L755.5 1278.1 L754.8 1277.9 L754.0 1277.7 L753.2 1277.6 L752.5 1277.4 L751.8 1277.3 L751.0 1277.2 L750.3 1277.2 L749.6 1277.2 L748.9 1277.2 L748.3 1277.3 L747.6 1277.4 L747.0 1277.5 L746.5 1277.7 L746.0 1277.9 L745.5 1278.1 L745.0 1278.3 L744.5 1278.6 L744.1 1278.9 L743.6 1279.3 L743.2 1279.6 L742.8 1280.0 L742.4 1280.4 L742.0 1280.8 L741.6 1281.2 L741.3 1281.6 L741.0 1282.0 L740.7 1282.4 L740.5 1282.8 L740.3 1283.3 L740.1 1283.8 L740.0 1284.2 L739.8 1284.7 L739.7 1285.2 L739.6 1285.7 L739.5 1286.2 L739.4 1286.8 L739.3 1287.3 L739.2 1287.9 L739.0 1288.4 L738.9 1289.0 L738.7 1289.8 L738.5 1290.6 L738.3 1291.5 L738.1 1292.4 L737.9 1293.3 L737.7 1294.2 L737.5 1295.1 L737.3 1296.1 L737.0 1297.1 L736.8 1298.1 L736.5 1299.0 L736.3 1300.0 L735.9 1301.0 L735.6 1302.0 L735.1 1303.2 L734.7 1304.4 L734.1 1305.7 L733.6 1307.0 L733.0 1308.3 L732.4 1309.5 L731.7 1310.8 L731.1 1312.2 L730.4 1313.5 L729.7 1314.8 L729.1 1316.1 L728.4 1317.4 L727.7 1318.7 L727.0 1320.0 L726.3 1321.3 L725.6 1322.7 L724.9 1324.0 L724.1 1325.4 L723.4 1326.7 L722.6 1328.1 L721.9 1329.4 L721.1 1330.8 L720.3 1332.1 L719.5 1333.5 L718.7 1334.8 L717.8 1336.2 L716.9 1337.5 L716.0 1338.9 L714.9 1340.4 L713.9 1341.9 L712.7 1343.4 L711.6 1344.9 L710.4 1346.5 L709.2 1348.0 L708.0 1349.5 L706.7 1351.0 L705.5 1352.5 L704.2 1354.0 L702.9 1355.5 L701.6 1357.0 L700.3 1358.5 L699.0 1360.0 L697.6 1361.5 L696.2 1363.1 L694.8 1364.5 L693.4 1366.0 L692.0 1367.5 L690.6 1368.9 L689.1 1370.4 L687.7 1371.9 L686.2 1373.4 L684.7 1374.9 L683.1 1376.5 L681.5 1378.1 L679.9 1379.8 L678.3 1381.5 L676.1 1383.8 L673.8 1386.2 L671.5 1388.7 L669.1 1391.3 L666.7 1393.9 L664.2 1396.6 L661.7 1399.3 L659.1 1402.1 L656.6 1404.8 L654.0 1407.6 L651.5 1410.3 L649.0 1413.0 L646.5 1415.7 L644.0 1418.4" fill="none" stroke="#1d1d1f" stroke-width="14.00" stroke-linejoin="round"/>
<path d="M630.4 1407.4 L632.4 1405.6 L634.5 1403.9 L636.6 1402.2 L638.6 1400.4 L640.7 1398.7 L642.8 1396.9 L644.9 1395.2 L646.9 1393.4 L649.0 1391.7 L651.0 1389.9 L653.0 1388.2 L655.0 1386.4 L657.0 1384.6 L658.9 1382.8 L660.7 1381.1 L662.5 1379.3 L664.3 1377.5 L666.1 1375.7 L667.9 1373.9 L669.6 1372.1 L671.3 1370.3 L673.0 1368.5 L674.7 1366.7 L676.4 1364.9 L678.1 1363.1 L679.7 1361.4 L681.4 1359.7 L683.0 1358.0 L684.4 1356.6 L685.9 1355.1 L687.3 1353.8 L688.7 1352.4 L690.1 1351.1 L691.5 1349.7 L692.9 1348.4 L694.2 1347.1 L695.6 1345.7 L696.9 1344.4 L698.2 1343.1 L699.5 1341.7 L700.8 1340.3 L702.0 1338.9 L703.2 1337.5 L704.3 1336.1 L705.5 1334.7 L706.6 1333.3 L707.7 1331.9 L708.8 1330.4 L709.9 1329.0 L710.9 1327.5 L712.0 1326.1 L713.0 1324.6 L714.0 1323.2 L715.0 1321.8 L716.0 1320.4 L717.0 1319.0 L717.9 1317.8 L718.7 1316.5 L719.6 1315.3 L720.4 1314.0 L721.2 1312.8 L722.0 1311.6 L722.8 1310.4 L723.6 1309.1 L724.3 1307.9 L725.1 1306.7 L725.8 1305.5 L726.6 1304.3 L727.3 1303.2 L728.0 1302.0 L728.7 1301.0 L729.3 1299.9 L730.0 1298.9 L730.7 1297.9 L731.4 1296.9 L732.1 1295.9 L732.8 1294.9 L733.4 1293.9 L734.0 1292.9 L734.6 1292.0 L735.0 1291.0 L735.5 1290.0 L735.8 1289.0 L736.0 1288.0 L736.1 1287.1 L736.2 1286.3 L736.2 1285.4 L736.2 1284.5 L736.1 1283.7 L736.0 1282.8 L735.9 1281.9 L735.7 1281.1 L735.5 1280.2 L735.2 1279.3 L735.0 1278.5 L734.7 1277.7 L734.3 1276.8 L734.0 1276.0 L733.6 1275.1 L733.1 1274.2 L732.5 1273.4 L732.0 1272.5 L731.3 1271.7 L730.7 1270.8 L730.0 1270.0 L729.3 1269.1 L728.5 1268.3 L727.8 1267.5 L727.1 1266.6 L726.4 1265.8 L725.7 1264.9 L725.0 1264.0 L724.3 1263.0 L723.5 1262.1 L722.8 1261.1 L722.0 1260.2 L721.2 1259.2 L720.4 1258.2 L719.6 1257.2 L718.9 1256.2 L718.1 1255.2 L717.4 1254.2 L716.8 1253.2 L716.1 1252.1 L715.5 1251.1 L715.0 1250.0 L714.5 1248.9 L714.1 1247.8 L713.6 1246.7 L713.2 1245.5 L712.8 1244.4 L712.5 1243.2 L712.1 1242.0 L711.9 1240.8 L711.6 1239.6 L711.4 1238.5 L711.2 1237.3 L711.1 1236.2 L711.0 1235.1 L711.0 1234.0 L711.0 1233.1 L711.1 1232.1 L711.1 1231.2 L711.2 1230.3 L711.4 1229.3 L711.5 1228.4 L711.7 1227.5 L711.9 1226.6 L712.2 1225.7 L712.5 1224.9 L712.8 1224.1 L713.2 1223.3 L713.6 1222.6 L714.0 1222.0 L714.4 1221.5 L714.9 1221.0 L715.3 1220.5 L715.8 1220.0 L716.4 1219.6 L716.9 1219.2 L717.5 1218.9 L718.1 1218.5 L718.7 1218.2 L719.3 1217.9 L720.0 1217.6 L720.6 1217.4 L721.3 1217.2 L722.0 1217.0 L722.9 1216.8 L723.8 1216.7 L724.7 1216.6 L725.7 1216.6 L726.6 1216.6 L727.7 1216.6 L728.7 1216.7 L729.7 1216.8 L730.8 1217.0 L731.8 1217.1 L732.9 1217.3 L733.9 1217.5 L735.0 1217.8 L736.0 1218.0 L737.1 1218.3 L738.3 1218.7 L739.4 1219.0 L740.6 1219.5 L741.7 1219.9 L742.9 1220.4 L744.0 1221.0 L745.2 1221.5 L746.3 1222.1 L747.5 1222.6 L748.6 1223.2 L749.7 1223.8 L750.9 1224.4 L752.0 1225.0 L753.2 1225.6 L754.3 1226.3 L755.5 1226.9 L756.6 1227.6 L757.8 1228.3 L758.9 1229.0 L760.1 1229.7 L761.2 1230.5 L762.3 1231.2 L763.5 1231.9 L764.6 1232.7 L765.7 1233.5 L766.9 1234.2 L768.0 1235.0 L769.2 1235.8 L770.3 1236.6 L771.5 1237.4 L772.7 1238.2 L773.8 1239.1 L775.0 1239.9 L776.1 1240.8 L777.3 1241.6 L778.4 1242.5 L779.6 1243.4 L780.7 1244.3 L781.8 1245.2 L782.9 1246.1 L784.0 1247.0 L785.1 1247.9 L786.2 1248.9 L787.3 1249.8 L788.4 1250.7 L789.5 1251.7 L790.6 1252.7 L791.7 1253.6 L792.7 1254.6 L793.8 1255.6 L794.8 1256.7 L795.7 1257.7 L796.6 1258.8 L797.5 1259.9 L798.3 1261.0 L799.0 1262.1 L799.8 1263.3 L800.5 1264.4 L801.2 1265.6 L801.9 1266.9 L802.6 1268.1 L803.2 1269.4 L803.7 1270.6 L804.2 1271.9 L804.6 1273.2 L805.0 1274.4 L805.3 1275.6 L805.4 1276.8 L805.5 1278.0 L805.5 1279.1 L805.4 1280.2 L805.2 1281.3 L805.0 1282.4 L804.7 1283.6 L804.4 1284.7 L804.0 1285.8 L803.6 1286.9 L803.1 1287.9 L802.6 1288.9 L802.0 1289.8 L801.4 1290.6 L800.7 1291.4 L800.0 1292.0 L799.3 1292.5 L798.4 1293.0 L797.6 1293.3 L796.6 1293.7 L795.6 1293.9 L794.6 1294.1 L793.5 1294.3 L792.5 1294.4 L791.4 1294.4 L790.3 1294.4 L789.2 1294.4 L788.1 1294.3 L787.0 1294.2 L786.0 1294.0 L784.9 1293.7 L783.7 1293.4 L782.6 1292.9 L781.4 1292.4 L780.2 1291.8 L779.1 1291.1 L777.9 1290.4 L776.7 1289.7 L775.6 1288.9 L774.5 1288.2 L773.3 1287.5 L772.2 1286.8 L771.1 1286.1 L770.0 1285.5 L769.0 1285.0 L768.1 1284.4 L767.1 1283.8 L766.2 1283.3 L765.2 1282.7 L764.3 1282.1 L763.4 1281.6 L762.4 1281.0 L761.5 1280.5 L760.6 1280.0 L759.7 1279.6 L758.8 1279.2 L757.9 1278.8 L757.0 1278.5 L756.3 1278.3 L755.5 1278.1 L754.8 1277.9 L754.0 1277.7 L753.2 1277.6 L752.5 1277.4 L751.8 1277.3 L751.0 1277.2 L750.3 1277.2 L749.6 1277.2 L748.9 1277.2 L748.3 1277.3 L747.6 1277.4 L747.0 1277.5 L746.5 1277.7 L746.0 1277.9 L745.5 1278.1 L745.0 1278.3 L744.5 1278.6 L744.1 1278.9 L743.6 1279.3 L743.2 1279.6 L742.8 1280.0 L742.4 1280.4 L742.0 1280.8 L741.6 1281.2 L741.3 1281.6 L741.0 1282.0 L740.7 1282.4 L740.5 1282.8 L740.3 1283.3 L740.1 1283.8 L740.0 1284.2 L739.8 1284.7 L739.7 1285.2 L739.6 1285.7 L739.5 1286.2 L739.4 1286.8 L739.3 1287.3 L739.2 1287.9 L739.0 1288.4 L738.9 1289.0 L738.7 1289.8 L738.5 1290.6 L738.3 1291.5 L738.1 1292.4 L737.9 1293.3 L737.7 1294.2 L737.5 1295.1 L737.3 1296.1 L737.0 1297.1 L736.8 1298.1 L736.5 1299.0 L736.3 1300.0 L735.9 1301.0 L735.6 1302.0 L735.1 1303.2 L734.7 1304.4 L734.1 1305.7 L733.6 1307.0 L733.0 1308.3 L732.4 1309.5 L731.7 1310.8 L731.1 1312.2 L730.4 1313.5 L729.7 1314.8 L729.1 1316.1 L728.4 1317.4 L727.7 1318.7 L727.0 1320.0 L726.3 1321.3 L725.6 1322.7 L724.9 1324.0 L724.1 1325.4 L723.4 1326.7 L722.6 1328.1 L721.9 1329.4 L721.1 1330.8 L720.3 1332.1 L719.5 1333.5 L718.7 1334.8 L717.8 1336.2 L716.9 1337.5 L716.0 1338.9 L714.9 1340.4 L713.9 1341.9 L712.7 1343.4 L711.6 1344.9 L710.4 1346.5 L709.2 1348.0 L708.0 1349.5 L706.7 1351.0 L705.5 1352.5 L704.2 1354.0 L702.9 1355.5 L701.6 1357.0 L700.3 1358.5 L699.0 1360.0 L697.6 1361.5 L696.2 1363.1 L694.8 1364.5 L693.4 1366.0 L692.0 1367.5 L690.6 1368.9 L689.1 1370.4 L687.7 1371.9 L686.2 1373.4 L684.7 1374.9 L683.1 1376.5 L681.5 1378.1 L679.9 1379.8 L678.3 1381.5 L676.1 1383.8 L673.8 1386.2 L671.5 1388.7 L669.1 1391.3 L666.7 1393.9 L664.2 1396.6 L661.7 1399.3 L659.1 1402.1 L656.6 1404.8 L654.0 1407.6 L651.5 1410.3 L649.0 1413.0 L646.5 1415.7 L644.0 1418.4" fill="none" stroke="#0cb0ec" stroke-width="10.40" stroke-linejoin="round"/>
<path d="M776.7 1289.7 L775.6 1288.9 L774.5 1288.2 L773.3 1287.5 L772.2 1286.8 L771.1 1286.1 L770.0 1285.5 L769.0 1285.0 L768.1 1284.4 L767.1 1283.8 L766.2 1283.3 L765.2 1282.7 L764.3 1282.1 L763.4 1281.6 L762.4 1281.0 L761.5 1280.5 L760.6 1280.0 L759.7 1279.6 L758.8 1279.2 L757.9 1278.8 L757.0 1278.5 L756.3 1278.3 L755.5 1278.1 L754.8 1277.9 L754.0 1277.7 L753.2 1277.6 L752.5 1277.4 L751.8 1277.3 L751.0 1277.2 L750.3 1277.2 L749.6 1277.2 L748.9 1277.2 L748.3 1277.3 L747.6 1277.4 L747.0 1277.5 L746.5 1277.7 L746.0 1277.9 L745.5 1278.1 L745.0 1278.3 L744.5 1278.6 L744.1 1278.9 L743.6 1279.3 L743.2 1279.6 L742.8 1280.0 L742.4 1280.4 L742.0 1280.8 L741.6 1281.2 L741.3 1281.6 L741.0 1282.0 L740.7 1282.4 L740.5 1282.8 L740.3 1283.3 L740.1 1283.8 L740.0 1284.2 L739.8 1284.7 L739.7 1285.2 L739.6 1285.7 L739.5 1286.2 L739.4 1286.8 L739.3 1287.3 L739.2 1287.9 L739.0 1288.4 L738.9 1289.0 L738.7 1289.8" fill="none" stroke="#1d1d1f" stroke-width="14.00" stroke-linejoin="round"/>
<path d="M777.9 1290.4 L776.7 1289.7 L775.6 1288.9 L774.5 1288.2 L773.3 1287.5 L772.2 1286.8 L771.1 1286.1 L770.0 1285.5 L769.0 1285.0 L768.1 1284.4 L767.1 1283.8 L766.2 1283.3 L765.2 1282.7 L764.3 1282.1 L763.4 1281.6 L762.4 1281.0 L761.5 1280.5 L760.6 1280.0 L759.7 1279.6 L758.8 1279.2 L757.9 1278.8 L757.0 1278.5 L756.3 1278.3 L755.5 1278.1 L754.8 1277.9 L754.0 1277.7 L753.2 1277.6 L752.5 1277.4 L751.8 1277.3 L751.0 1277.2 L750.3 1277.2 L749.6 1277.2 L748.9 1277.2 L748.3 1277.3 L747.6 1277.4 L747.0 1277.5 L746.5 1277.7 L746.0 1277.9 L745.5 1278.1 L745.0 1278.3 L744.5 1278.6 L744.1 1278.9 L743.6 1279.3 L743.2 1279.6 L742.8 1280.0 L742.4 1280.4 L742.0 1280.8 L741.6 1281.2 L741.3 1281.6 L741.0 1282.0 L740.7 1282.4 L740.5 1282.8 L740.3 1283.3 L740.1 1283.8 L740.0 1284.2 L739.8 1284.7 L739.7 1285.2 L739.6 1285.7 L739.5 1286.2 L739.4 1286.8 L739.3 1287.3 L739.2 1287.9 L739.0 1288.4 L738.9 1289.0 L738.7 1289.8 L738.5 1290.6" fill="none" stroke="#0cb0ec" stroke-width="10.40" stroke-linejoin="round"/>
<path d="M735.1 1303.2 L734.7 1304.4 L734.1 1305.7 L733.6 1307.0 L733.0 1308.3 L732.4 1309.5 L731.7 1310.8 L731.1 1312.2 L730.4 1313.5 L729.7 1314.8 L729.1 1316.1 L728.4 1317.4 L727.7 1318.7 L727.0 1320.0 L726.3 1321.3 L725.6 1322.7 L724.9 1324.0 L724.1 1325.4 L723.4 1326.7 L722.6 1328.1 L721.9 1329.4 L721.1 1330.8 L720.3 1332.1 L719.5 1333.5 L718.7 1334.8 L717.8 1336.2 L716.9 1337.5 L716.0 1338.9 L714.9 1340.4 L713.9 1341.9 L712.7 1343.4 L711.6 1344.9 L710.4 1346.5 L709.2 1348.0 L708.0 1349.5 L706.7 1351.0 L705.5 1352.5 L704.2 1354.0 L702.9 1355.5 L701.6 1357.0 L700.3 1358.5 L699.0 1360.0 L697.6 1361.5 L696.2 1363.1 L694.8 1364.5 L693.4 1366.0 L692.0 1367.5 L690.6 1368.9 L689.1 1370.4 L687.7 1371.9 L686.2 1373.4 L684.7 1374.9 L683.1 1376.5 L681.5 1378.1 L679.9 1379.8 L678.3 1381.5 L676.1 1383.8 L673.8 1386.2 L671.5 1388.7 L669.1 1391.3 L666.7 1393.9 L664.2 1396.6 L661.7 1399.3 L659.1 1402.1 L656.6 1404.8 L654.0 1407.6 L651.5 1410.3 L649.0 1413.0 L646.5 1415.7" fill="none" stroke="#1d1d1f" stroke-width="14.00" stroke-linejoin="round"/>
<path d="M735.6 1302.0 L735.1 1303.2 L734.7 1304.4 L734.1 1305.7 L733.6 1307.0 L733.0 1308.3 L732.4 1309.5 L731.7 1310.8 L731.1 1312.2 L730.4 1313.5 L729.7 1314.8 L729.1 1316.1 L728.4 1317.4 L727.7 1318.7 L727.0 1320.0 L726.3 1321.3 L725.6 1322.7 L724.9 1324.0 L724.1 1325.4 L723.4 1326.7 L722.6 1328.1 L721.9 1329.4 L721.1 1330.8 L720.3 1332.1 L719.5 1333.5 L718.7 1334.8 L717.8 1336.2 L716.9 1337.5 L716.0 1338.9 L714.9 1340.4 L713.9 1341.9 L712.7 1343.4 L711.6 1344.9 L710.4 1346.5 L709.2 1348.0 L708.0 1349.5 L706.7 1351.0 L705.5 1352.5 L704.2 1354.0 L702.9 1355.5 L701.6 1357.0 L700.3 1358.5 L699.0 1360.0 L697.6 1361.5 L696.2 1363.1 L694.8 1364.5 L693.4 1366.0 L692.0 1367.5 L690.6 1368.9 L689.1 1370.4 L687.7 1371.9 L686.2 1373.4 L684.7 1374.9 L683.1 1376.5 L681.5 1378.1 L679.9 1379.8 L678.3 1381.5 L676.1 1383.8 L673.8 1386.2 L671.5 1388.7 L669.1 1391.3 L666.7 1393.9 L664.2 1396.6 L661.7 1399.3 L659.1 1402.1 L656.6 1404.8 L654.0 1407.6 L651.5 1410.3 L649.0 1413.0 L646.5 1415.7 L644.0 1418.4" fill="none" stroke="#0cb0ec" stroke-width="10.40" stroke-linejoin="round"/>
<path d="M721.8 1287.3 L722.3 1288.1 L722.9 1288.8 L723.4 1289.4 L724.0 1290.0 L724.7 1290.6 L725.4 1291.1 L726.2 1291.6 L727.1 1292.0 L728.0 1292.4 L728.9 1292.8 L729.8 1293.1 L730.8 1293.4 L731.8 1293.6 L732.8 1293.9 L733.8 1294.0 L734.8 1294.2 L735.8 1294.3 L736.7 1294.4 L737.6 1294.5 L738.6 1294.5 L739.6 1294.4 L740.6 1294.4 L741.6 1294.2 L742.5 1294.1 L743.5 1293.9 L744.5 1293.7 L745.5 1293.5 L746.4 1293.2 L747.4 1293.0 L748.3 1292.7 L749.2 1292.3 L750.0 1292.0 L750.7 1291.7 L751.4 1291.3 L752.1 1291.0 L752.8 1290.6 L753.5 1290.2 L754.1 1289.7 L754.8 1289.3 L755.4 1288.8 L756.0 1288.3 L756.6 1287.8 L757.2 1287.3 L757.8 1286.7 L758.3 1286.2 L758.9 1285.6 L759.5 1284.9 L760.1 1284.2 L760.6 1283.4 L761.1 1282.6 L761.6 1281.8 L762.1 1281.0 L762.6 1280.1" fill="none" stroke="#1d1d1f" stroke-width="12.50" stroke-linejoin="round"/>
<path d="M721.4 1286.5 L721.8 1287.3 L722.3 1288.1 L722.9 1288.8 L723.4 1289.4 L724.0 1290.0 L724.7 1290.6 L725.4 1291.1 L726.2 1291.6 L727.1 1292.0 L728.0 1292.4 L728.9 1292.8 L729.8 1293.1 L730.8 1293.4 L731.8 1293.6 L732.8 1293.9 L733.8 1294.0 L734.8 1294.2 L735.8 1294.3 L736.7 1294.4 L737.6 1294.5 L738.6 1294.5 L739.6 1294.4 L740.6 1294.4 L741.6 1294.2 L742.5 1294.1 L743.5 1293.9 L744.5 1293.7 L745.5 1293.5 L746.4 1293.2 L747.4 1293.0 L748.3 1292.7 L749.2 1292.3 L750.0 1292.0 L750.7 1291.7 L751.4 1291.3 L752.1 1291.0 L752.8 1290.6 L753.5 1290.2 L754.1 1289.7 L754.8 1289.3 L755.4 1288.8 L756.0 1288.3 L756.6 1287.8 L757.2 1287.3 L757.8 1286.7 L758.3 1286.2 L758.9 1285.6 L759.5 1284.9 L760.1 1284.2 L760.6 1283.4 L761.1 1282.6 L761.6 1281.8 L762.1 1281.0 L762.6 1280.1 L763.1 1279.2" fill="none" stroke="#e6e6e6" stroke-width="8.90" stroke-linejoin="round"/>
<rect x="726.3" y="1217.3" width="14" height="10" rx="2.5" transform="rotate(34.0 733.3 1222.3)" fill="#e6e6e6" stroke="#1d1d1f" stroke-width="1.8"/>
<circle cx="733.3" cy="1222.3" r="3" fill="#fff" stroke="#1d1d1f" stroke-width="1.3"/>
<path d="M746.6 1230.1 L749.2 1231.8 L751.8 1233.5 L754.3 1235.3 L756.9 1237.0 L759.5 1238.7 L762.1 1240.4 L764.7 1242.2 L767.2 1243.9 L769.8 1245.6 L772.4 1247.3 L775.0 1249.0 L777.5 1250.8 L780.1 1252.5 L782.7 1254.2" fill="none" stroke="#1d1d1f" stroke-width="12.00" stroke-linecap="butt" stroke-linejoin="round"/>
<path d="M746.6 1230.1 L749.2 1231.8 L751.8 1233.5 L754.3 1235.3 L756.9 1237.0 L759.5 1238.7 L762.1 1240.4 L764.7 1242.2 L767.2 1243.9 L769.8 1245.6 L772.4 1247.3 L775.0 1249.0 L777.5 1250.8 L780.1 1252.5 L782.7 1254.2" fill="none" stroke="#e6e6e6" stroke-width="8.40" stroke-linecap="butt" stroke-linejoin="round"/>
<rect x="773.7" y="1250.2" width="22.0" height="14.0" rx="7.0" transform="rotate(-56.0 784.7 1257.2)" fill="#e6e6e6" stroke="#1d1d1f" stroke-width="1.8"/>
<rect x="768.7" y="1246.2" width="28.0" height="16.0" rx="8.0" transform="rotate(-56.0 782.7 1254.2)" fill="#e6e6e6" stroke="#1d1d1f" stroke-width="1.8"/>
<rect x="732.6" y="1222.1" width="28.0" height="16.0" rx="8.0" transform="rotate(-56.0 746.6 1230.1)" fill="#e6e6e6" stroke="#1d1d1f" stroke-width="1.8"/>
<polygon points="702.2,1256.1 706.7,1259.4 693.9,1277.8 703.9,1277.8 699.4,1283.9 683.3,1287.8 680.6,1272.8 685.6,1265 689.4,1273.9" fill="#f3351d"/>
<polygon points="773.9,1301.7 778.3,1304.4 765.6,1323.3 777.2,1323.3 772.8,1329.4 757.2,1334.4 753.9,1318.9 758.3,1312.8 761.1,1321.1" fill="#f3351d"/>
<path d="M930.0 1214.4 L929.4 1215.0 L928.9 1215.7 L928.3 1216.3 L927.8 1216.9 L927.2 1217.5 L926.7 1218.1 L926.1 1218.8 L925.6 1219.4 L925.0 1220.0 L924.5 1220.7 L923.9 1221.3 L923.3 1222.0 L922.8 1222.6 L922.2 1223.3 L921.6 1224.1 L920.9 1224.9 L920.3 1225.7 L919.6 1226.5 L918.9 1227.3 L918.3 1228.2 L917.6 1229.0 L916.9 1229.9 L916.3 1230.7 L915.6 1231.6 L914.9 1232.5 L914.3 1233.3 L913.6 1234.2 L913.0 1235.0 L912.4 1235.8 L911.7 1236.7 L911.1 1237.5 L910.4 1238.3 L909.8 1239.1 L909.1 1240.0 L908.5 1240.8 L907.9 1241.6 L907.2 1242.5 L906.6 1243.3 L906.0 1244.2 L905.5 1245.0 L904.9 1245.8 L904.4 1246.7 L903.9 1247.5 L903.4 1248.3 L902.9 1249.1 L902.4 1249.8 L902.0 1250.6 L901.5 1251.4 L901.0 1252.2 L900.6 1253.0 L900.2 1253.8 L899.9 1254.6 L899.6 1255.5 L899.3 1256.3 L899.1 1257.1 L899.0 1258.0 L898.9 1259.0 L898.9 1260.0 L898.9 1261.0 L898.9 1262.1 L899.0 1263.1 L899.2 1264.2 L899.4 1265.3 L899.6 1266.4 L899.9 1267.4 L900.2 1268.4 L900.6 1269.4 L901.0 1270.3 L901.5 1271.2 L902.0 1272.0 L902.6 1272.7 L903.2 1273.4 L903.9 1274.1 L904.7 1274.8 L905.5 1275.4 L906.4 1275.9 L907.3 1276.5 L908.3 1277.0 L909.2 1277.4 L910.2 1277.8 L911.1 1278.2 L912.1 1278.5 L913.1 1278.8 L914.0 1279.0 L914.9 1279.1 L915.9 1279.2 L916.9 1279.2 L917.9 1279.2 L918.9 1279.1 L919.9 1279.0 L921.0 1278.8 L922.0 1278.6 L923.0 1278.3 L924.1 1278.1 L925.1 1277.8 L926.1 1277.5 L927.0 1277.3 L928.0 1277.0 L928.9 1276.7 L929.8 1276.5 L930.7 1276.2 L931.6 1276.0 L932.5 1275.7 L933.4 1275.4 L934.3 1275.0 L935.1 1274.7 L936.0 1274.3 L936.8 1273.9 L937.6 1273.5 L938.4 1273.0 L939.2 1272.5 L940.0 1272.0 L940.8 1271.4 L941.6 1270.6 L942.4 1269.9 L943.1 1269.0 L943.9 1268.2 L944.6 1267.3 L945.3 1266.4 L946.0 1265.4 L946.7 1264.5 L947.3 1263.6 L948.0 1262.6 L948.7 1261.7 L949.3 1260.8 L950.0 1260.0 L950.6 1259.3 L951.2 1258.5 L951.8 1257.8 L952.3 1257.1 L952.9 1256.4 L953.4 1255.7 L954.0 1255.0 L954.5 1254.3 L955.1 1253.6 L955.6 1252.9 L956.2 1252.2 L956.7 1251.5 L957.3 1250.7 L957.8 1250.0 L958.4 1249.2 L958.9 1248.5 L959.5 1247.7 L960.0 1246.9 L960.6 1246.1 L961.2 1245.3 L961.7 1244.5 L962.3 1243.7 L962.8 1242.9 L963.4 1242.1 L963.9 1241.3 L964.5 1240.5 L965.0 1239.7 L965.6 1238.9" fill="none" stroke="#1d1d1f" stroke-width="12.50" stroke-linejoin="round"/>
<path d="M930.0 1214.4 L929.4 1215.0 L928.9 1215.7 L928.3 1216.3 L927.8 1216.9 L927.2 1217.5 L926.7 1218.1 L926.1 1218.8 L925.6 1219.4 L925.0 1220.0 L924.5 1220.7 L923.9 1221.3 L923.3 1222.0 L922.8 1222.6 L922.2 1223.3 L921.6 1224.1 L920.9 1224.9 L920.3 1225.7 L919.6 1226.5 L918.9 1227.3 L918.3 1228.2 L917.6 1229.0 L916.9 1229.9 L916.3 1230.7 L915.6 1231.6 L914.9 1232.5 L914.3 1233.3 L913.6 1234.2 L913.0 1235.0 L912.4 1235.8 L911.7 1236.7 L911.1 1237.5 L910.4 1238.3 L909.8 1239.1 L909.1 1240.0 L908.5 1240.8 L907.9 1241.6 L907.2 1242.5 L906.6 1243.3 L906.0 1244.2 L905.5 1245.0 L904.9 1245.8 L904.4 1246.7 L903.9 1247.5 L903.4 1248.3 L902.9 1249.1 L902.4 1249.8 L902.0 1250.6 L901.5 1251.4 L901.0 1252.2 L900.6 1253.0 L900.2 1253.8 L899.9 1254.6 L899.6 1255.5 L899.3 1256.3 L899.1 1257.1 L899.0 1258.0 L898.9 1259.0 L898.9 1260.0 L898.9 1261.0 L898.9 1262.1 L899.0 1263.1 L899.2 1264.2 L899.4 1265.3 L899.6 1266.4 L899.9 1267.4 L900.2 1268.4 L900.6 1269.4 L901.0 1270.3 L901.5 1271.2 L902.0 1272.0 L902.6 1272.7 L903.2 1273.4 L903.9 1274.1 L904.7 1274.8 L905.5 1275.4 L906.4 1275.9 L907.3 1276.5 L908.3 1277.0 L909.2 1277.4 L910.2 1277.8 L911.1 1278.2 L912.1 1278.5 L913.1 1278.8 L914.0 1279.0 L914.9 1279.1 L915.9 1279.2 L916.9 1279.2 L917.9 1279.2 L918.9 1279.1 L919.9 1279.0 L921.0 1278.8 L922.0 1278.6 L923.0 1278.3 L924.1 1278.1 L925.1 1277.8 L926.1 1277.5 L927.0 1277.3 L928.0 1277.0 L928.9 1276.7 L929.8 1276.5 L930.7 1276.2 L931.6 1276.0 L932.5 1275.7 L933.4 1275.4 L934.3 1275.0 L935.1 1274.7 L936.0 1274.3 L936.8 1273.9 L937.6 1273.5 L938.4 1273.0 L939.2 1272.5 L940.0 1272.0 L940.8 1271.4 L941.6 1270.6 L942.4 1269.9 L943.1 1269.0 L943.9 1268.2 L944.6 1267.3 L945.3 1266.4 L946.0 1265.4 L946.7 1264.5 L947.3 1263.6 L948.0 1262.6 L948.7 1261.7 L949.3 1260.8 L950.0 1260.0 L950.6 1259.3 L951.2 1258.5 L951.8 1257.8 L952.3 1257.1 L952.9 1256.4 L953.4 1255.7 L954.0 1255.0 L954.5 1254.3 L955.1 1253.6 L955.6 1252.9 L956.2 1252.2 L956.7 1251.5 L957.3 1250.7 L957.8 1250.0 L958.4 1249.2 L958.9 1248.5 L959.5 1247.7 L960.0 1246.9 L960.6 1246.1 L961.2 1245.3 L961.7 1244.5 L962.3 1243.7 L962.8 1242.9 L963.4 1242.1 L963.9 1241.3 L964.5 1240.5 L965.0 1239.7 L965.6 1238.9" fill="none" stroke="#e6e6e6" stroke-width="8.90" stroke-linejoin="round"/>
<rect x="907.4" y="1200.6" width="14" height="10" rx="2.5" transform="rotate(34.0 914.4 1205.6)" fill="#e6e6e6" stroke="#1d1d1f" stroke-width="1.8"/>
<circle cx="914.4" cy="1205.6" r="3" fill="#fff" stroke="#1d1d1f" stroke-width="1.3"/>
<path d="M930.0 1214.4 L932.5 1216.2 L935.1 1217.9 L937.6 1219.6 L940.2 1221.4 L942.7 1223.2 L945.3 1224.9 L947.8 1226.7 L950.3 1228.4 L952.9 1230.2 L955.4 1231.9 L958.0 1233.7 L960.5 1235.4 L963.1 1237.2 L965.6 1238.9" fill="none" stroke="#1d1d1f" stroke-width="12.00" stroke-linecap="butt" stroke-linejoin="round"/>
<path d="M930.0 1214.4 L932.5 1216.2 L935.1 1217.9 L937.6 1219.6 L940.2 1221.4 L942.7 1223.2 L945.3 1224.9 L947.8 1226.7 L950.3 1228.4 L952.9 1230.2 L955.4 1231.9 L958.0 1233.7 L960.5 1235.4 L963.1 1237.2 L965.6 1238.9" fill="none" stroke="#e6e6e6" stroke-width="8.40" stroke-linecap="butt" stroke-linejoin="round"/>
<rect x="956.6" y="1234.9" width="22.0" height="14.0" rx="7.0" transform="rotate(-56.0 967.6 1241.9)" fill="#e6e6e6" stroke="#1d1d1f" stroke-width="1.8"/>
<rect x="951.6" y="1230.9" width="28.0" height="16.0" rx="8.0" transform="rotate(-56.0 965.6 1238.9)" fill="#e6e6e6" stroke="#1d1d1f" stroke-width="1.8"/>
<rect x="916.0" y="1206.4" width="28.0" height="16.0" rx="8.0" transform="rotate(-56.0 930.0 1214.4)" fill="#e6e6e6" stroke="#1d1d1f" stroke-width="1.8"/>
<circle cx="921.0" cy="1264.0" r="7.50" fill="#1d1d1f"/>
<path d="M879.4 1338.3 L880.1 1336.6 L880.8 1334.8 L881.6 1333.1 L882.3 1331.3 L883.1 1329.6 L883.8 1327.8 L884.5 1326.1 L885.3 1324.3 L886.0 1322.6 L886.7 1320.9 L887.3 1319.1 L887.9 1317.4 L888.5 1315.7 L889.0 1314.0 L889.4 1312.5 L889.8 1310.9 L890.2 1309.4 L890.6 1307.9 L891.0 1306.3 L891.3 1304.8 L891.6 1303.3 L891.9 1301.8 L892.1 1300.3 L892.3 1298.8 L892.5 1297.3 L892.7 1295.9 L892.9 1294.4 L893.0 1293.0 L893.1 1291.7 L893.1 1290.5 L893.1 1289.2 L893.1 1288.0 L893.0 1286.7 L892.9 1285.5 L892.8 1284.3 L892.8 1283.0 L892.7 1281.8 L892.6 1280.6 L892.5 1279.5 L892.5 1278.3 L892.5 1277.1 L892.5 1276.0 L892.5 1275.0 L892.6 1274.0 L892.6 1273.0 L892.6 1272.0 L892.6 1271.0 L892.7 1270.0 L892.7 1269.0 L892.8 1268.1 L892.9 1267.1 L893.0 1266.2 L893.2 1265.4 L893.4 1264.5 L893.7 1263.7 L894.0 1263.0 L894.3 1262.4 L894.6 1261.9 L895.0 1261.3 L895.3 1260.8 L895.7 1260.3 L896.1 1259.8 L896.6 1259.3 L897.0 1258.9 L897.5 1258.5 L898.0 1258.1 L898.5 1257.7 L899.0 1257.3 L899.5 1257.0 L900.0 1256.7 L900.6 1256.4 L901.1 1256.2 L901.7 1255.9 L902.4 1255.7 L903.0 1255.5 L903.7 1255.4 L904.3 1255.3 L905.0 1255.1 L905.7 1255.1 L906.3 1255.0 L907.0 1255.0 L907.6 1255.0 L908.3 1255.0 L908.9 1255.0 L909.5 1255.1 L910.1 1255.1 L910.7 1255.2 L911.3 1255.4 L911.9 1255.5 L912.5 1255.7 L913.1 1255.9 L913.6 1256.1 L914.2 1256.3 L914.7 1256.6 L915.3 1256.9 L915.8 1257.2 L916.2 1257.5 L916.7 1257.8 L917.1 1258.1 L917.5 1258.5 L917.8 1258.9 L918.2 1259.3 L918.5 1259.8 L918.8 1260.2 L919.0 1260.7 L919.3 1261.2 L919.6 1261.6 L919.9 1262.1 L920.1 1262.6 L920.4 1263.1 L920.7 1263.5 L921.0 1264.0" fill="none" stroke="#1d1d1f" stroke-width="15.00" stroke-linejoin="round"/>
<path d="M879.4 1338.3 L880.1 1336.6 L880.8 1334.8 L881.6 1333.1 L882.3 1331.3 L883.1 1329.6 L883.8 1327.8 L884.5 1326.1 L885.3 1324.3 L886.0 1322.6 L886.7 1320.9 L887.3 1319.1 L887.9 1317.4 L888.5 1315.7 L889.0 1314.0 L889.4 1312.5 L889.8 1310.9 L890.2 1309.4 L890.6 1307.9 L891.0 1306.3 L891.3 1304.8 L891.6 1303.3 L891.9 1301.8 L892.1 1300.3 L892.3 1298.8 L892.5 1297.3 L892.7 1295.9 L892.9 1294.4 L893.0 1293.0 L893.1 1291.7 L893.1 1290.5 L893.1 1289.2 L893.1 1288.0 L893.0 1286.7 L892.9 1285.5 L892.8 1284.3 L892.8 1283.0 L892.7 1281.8 L892.6 1280.6 L892.5 1279.5 L892.5 1278.3 L892.5 1277.1 L892.5 1276.0 L892.5 1275.0 L892.6 1274.0 L892.6 1273.0 L892.6 1272.0 L892.6 1271.0 L892.7 1270.0 L892.7 1269.0 L892.8 1268.1 L892.9 1267.1 L893.0 1266.2 L893.2 1265.4 L893.4 1264.5 L893.7 1263.7 L894.0 1263.0 L894.3 1262.4 L894.6 1261.9 L895.0 1261.3 L895.3 1260.8 L895.7 1260.3 L896.1 1259.8 L896.6 1259.3 L897.0 1258.9 L897.5 1258.5 L898.0 1258.1 L898.5 1257.7 L899.0 1257.3 L899.5 1257.0 L900.0 1256.7 L900.6 1256.4 L901.1 1256.2 L901.7 1255.9 L902.4 1255.7 L903.0 1255.5 L903.7 1255.4 L904.3 1255.3 L905.0 1255.1 L905.7 1255.1 L906.3 1255.0 L907.0 1255.0 L907.6 1255.0 L908.3 1255.0 L908.9 1255.0 L909.5 1255.1 L910.1 1255.1 L910.7 1255.2 L911.3 1255.4 L911.9 1255.5 L912.5 1255.7 L913.1 1255.9 L913.6 1256.1 L914.2 1256.3 L914.7 1256.6 L915.3 1256.9 L915.8 1257.2 L916.2 1257.5 L916.7 1257.8 L917.1 1258.1 L917.5 1258.5 L917.8 1258.9 L918.2 1259.3 L918.5 1259.8 L918.8 1260.2 L919.0 1260.7 L919.3 1261.2 L919.6 1261.6 L919.9 1262.1 L920.1 1262.6 L920.4 1263.1 L920.7 1263.5 L921.0 1264.0" fill="none" stroke="#0cb0ec" stroke-width="11.40" stroke-linejoin="round"/>
<circle cx="921.0" cy="1264.0" r="5.70" fill="#0cb0ec"/>
<circle cx="918.0" cy="1299.0" r="7.50" fill="#1d1d1f"/>
<path d="M896.1 1338.3 L896.7 1336.6 L897.4 1334.8 L898.1 1333.0 L898.8 1331.3 L899.5 1329.5 L900.2 1327.7 L900.8 1325.9 L901.5 1324.2 L902.2 1322.4 L902.8 1320.7 L903.4 1319.0 L904.0 1317.3 L904.5 1315.6 L905.0 1314.0 L905.4 1312.6 L905.8 1311.3 L906.2 1310.0 L906.5 1308.6 L906.9 1307.3 L907.2 1306.0 L907.5 1304.7 L907.8 1303.4 L908.1 1302.2 L908.3 1300.9 L908.5 1299.7 L908.7 1298.4 L908.9 1297.2 L909.0 1296.0 L909.1 1294.9 L909.1 1293.9 L909.1 1292.9 L909.1 1291.9 L909.0 1290.8 L908.9 1289.8 L908.8 1288.8 L908.8 1287.8 L908.7 1286.9 L908.6 1285.9 L908.5 1284.9 L908.5 1283.9 L908.5 1283.0 L908.5 1282.0 L908.5 1281.1 L908.6 1280.2 L908.6 1279.3 L908.6 1278.4 L908.6 1277.4 L908.7 1276.5 L908.7 1275.6 L908.8 1274.8 L908.9 1273.9 L909.0 1273.1 L909.2 1272.2 L909.4 1271.5 L909.7 1270.7 L910.0 1270.0 L910.3 1269.4 L910.7 1268.8 L911.1 1268.2 L911.5 1267.6 L911.9 1267.0 L912.4 1266.5 L912.9 1265.9 L913.4 1265.4 L913.9 1265.0 L914.5 1264.5 L915.0 1264.1 L915.6 1263.8 L916.1 1263.5 L916.7 1263.3 L917.3 1263.1 L917.9 1263.0 L918.5 1262.9 L919.2 1262.9 L919.9 1262.9 L920.6 1262.9 L921.3 1263.0 L922.0 1263.1 L922.7 1263.2 L923.3 1263.4 L924.0 1263.6 L924.6 1263.8 L925.1 1264.1 L925.6 1264.4 L926.0 1264.7 L926.4 1265.0 L926.8 1265.4 L927.1 1265.8 L927.4 1266.2 L927.7 1266.7 L928.0 1267.2 L928.2 1267.7 L928.5 1268.2 L928.7 1268.7 L928.9 1269.3 L929.1 1269.8 L929.3 1270.4 L929.5 1271.0 L929.8 1271.9 L930.0 1272.8 L930.1 1273.8 L930.3 1274.9 L930.4 1276.0 L930.5 1277.1 L930.6 1278.3 L930.7 1279.4 L930.7 1280.6 L930.8 1281.7 L930.8 1282.9 L930.9 1284.0 L930.9 1285.0 L931.0 1286.0 L931.1 1286.8 L931.2 1287.6 L931.3 1288.3 L931.4 1289.1 L931.5 1289.9 L931.7 1290.6 L931.8 1291.3 L931.8 1292.0 L931.9 1292.8 L931.9 1293.4 L931.9 1294.1 L931.8 1294.8 L931.7 1295.4 L931.5 1296.0 L931.2 1296.6 L930.9 1297.2 L930.6 1297.8 L930.2 1298.4 L929.7 1299.0 L929.3 1299.6 L928.7 1300.1 L928.2 1300.6 L927.7 1301.1 L927.1 1301.5 L926.6 1301.9 L926.0 1302.2 L925.5 1302.4 L925.0 1302.5 L924.5 1302.5 L924.1 1302.5 L923.6 1302.4 L923.1 1302.2 L922.6 1301.9 L922.1 1301.6 L921.6 1301.3 L921.1 1301.0 L920.5 1300.6 L920.0 1300.3 L919.5 1299.9 L919.0 1299.6 L918.5 1299.3 L918.0 1299.0" fill="none" stroke="#1d1d1f" stroke-width="15.00" stroke-linejoin="round"/>
<path d="M896.1 1338.3 L896.7 1336.6 L897.4 1334.8 L898.1 1333.0 L898.8 1331.3 L899.5 1329.5 L900.2 1327.7 L900.8 1325.9 L901.5 1324.2 L902.2 1322.4 L902.8 1320.7 L903.4 1319.0 L904.0 1317.3 L904.5 1315.6 L905.0 1314.0 L905.4 1312.6 L905.8 1311.3 L906.2 1310.0 L906.5 1308.6 L906.9 1307.3 L907.2 1306.0 L907.5 1304.7 L907.8 1303.4 L908.1 1302.2 L908.3 1300.9 L908.5 1299.7 L908.7 1298.4 L908.9 1297.2 L909.0 1296.0 L909.1 1294.9 L909.1 1293.9 L909.1 1292.9 L909.1 1291.9 L909.0 1290.8 L908.9 1289.8 L908.8 1288.8 L908.8 1287.8 L908.7 1286.9 L908.6 1285.9 L908.5 1284.9 L908.5 1283.9 L908.5 1283.0 L908.5 1282.0 L908.5 1281.1 L908.6 1280.2 L908.6 1279.3 L908.6 1278.4 L908.6 1277.4 L908.7 1276.5 L908.7 1275.6 L908.8 1274.8 L908.9 1273.9 L909.0 1273.1 L909.2 1272.2 L909.4 1271.5 L909.7 1270.7 L910.0 1270.0 L910.3 1269.4 L910.7 1268.8 L911.1 1268.2 L911.5 1267.6 L911.9 1267.0 L912.4 1266.5 L912.9 1265.9 L913.4 1265.4 L913.9 1265.0 L914.5 1264.5 L915.0 1264.1 L915.6 1263.8 L916.1 1263.5 L916.7 1263.3 L917.3 1263.1 L917.9 1263.0 L918.5 1262.9 L919.2 1262.9 L919.9 1262.9 L920.6 1262.9 L921.3 1263.0 L922.0 1263.1 L922.7 1263.2 L923.3 1263.4 L924.0 1263.6 L924.6 1263.8 L925.1 1264.1 L925.6 1264.4 L926.0 1264.7 L926.4 1265.0 L926.8 1265.4 L927.1 1265.8 L927.4 1266.2 L927.7 1266.7 L928.0 1267.2 L928.2 1267.7 L928.5 1268.2 L928.7 1268.7 L928.9 1269.3 L929.1 1269.8 L929.3 1270.4 L929.5 1271.0 L929.8 1271.9 L930.0 1272.8 L930.1 1273.8 L930.3 1274.9 L930.4 1276.0 L930.5 1277.1 L930.6 1278.3 L930.7 1279.4 L930.7 1280.6 L930.8 1281.7 L930.8 1282.9 L930.9 1284.0 L930.9 1285.0 L931.0 1286.0 L931.1 1286.8 L931.2 1287.6 L931.3 1288.3 L931.4 1289.1 L931.5 1289.9 L931.7 1290.6 L931.8 1291.3 L931.8 1292.0 L931.9 1292.8 L931.9 1293.4 L931.9 1294.1 L931.8 1294.8 L931.7 1295.4 L931.5 1296.0 L931.2 1296.6 L930.9 1297.2 L930.6 1297.8 L930.2 1298.4 L929.7 1299.0 L929.3 1299.6 L928.7 1300.1 L928.2 1300.6 L927.7 1301.1 L927.1 1301.5 L926.6 1301.9 L926.0 1302.2 L925.5 1302.4 L925.0 1302.5 L924.5 1302.5 L924.1 1302.5 L923.6 1302.4 L923.1 1302.2 L922.6 1301.9 L922.1 1301.6 L921.6 1301.3 L921.1 1301.0 L920.5 1300.6 L920.0 1300.3 L919.5 1299.9 L919.0 1299.6 L918.5 1299.3 L918.0 1299.0" fill="none" stroke="#0cb0ec" stroke-width="11.40" stroke-linejoin="round"/>
<circle cx="918.0" cy="1299.0" r="5.70" fill="#0cb0ec"/>
<path d="M917.9 1279.2 L918.9 1279.1 L919.9 1279.0 L921.0 1278.8 L922.0 1278.6 L923.0 1278.3 L924.1 1278.1 L925.1 1277.8 L926.1 1277.5 L927.0 1277.3 L928.0 1277.0 L928.9 1276.7 L929.8 1276.5 L930.7 1276.2 L931.6 1276.0 L932.5 1275.7 L933.4 1275.4 L934.3 1275.0 L935.1 1274.7 L936.0 1274.3 L936.8 1273.9 L937.6 1273.5 L938.4 1273.0 L939.2 1272.5 L940.0 1272.0 L940.8 1271.4 L941.6 1270.6 L942.4 1269.9 L943.1 1269.0 L943.9 1268.2 L944.6 1267.3 L945.3 1266.4 L946.0 1265.4 L946.7 1264.5 L947.3 1263.6 L948.0 1262.6 L948.7 1261.7 L949.3 1260.8 L950.0 1260.0 L950.6 1259.3" fill="none" stroke="#1d1d1f" stroke-width="12.50" stroke-linejoin="round"/>
<path d="M916.9 1279.2 L917.9 1279.2 L918.9 1279.1 L919.9 1279.0 L921.0 1278.8 L922.0 1278.6 L923.0 1278.3 L924.1 1278.1 L925.1 1277.8 L926.1 1277.5 L927.0 1277.3 L928.0 1277.0 L928.9 1276.7 L929.8 1276.5 L930.7 1276.2 L931.6 1276.0 L932.5 1275.7 L933.4 1275.4 L934.3 1275.0 L935.1 1274.7 L936.0 1274.3 L936.8 1273.9 L937.6 1273.5 L938.4 1273.0 L939.2 1272.5 L940.0 1272.0 L940.8 1271.4 L941.6 1270.6 L942.4 1269.9 L943.1 1269.0 L943.9 1268.2 L944.6 1267.3 L945.3 1266.4 L946.0 1265.4 L946.7 1264.5 L947.3 1263.6 L948.0 1262.6 L948.7 1261.7 L949.3 1260.8 L950.0 1260.0 L950.6 1259.3 L951.2 1258.5" fill="none" stroke="#e6e6e6" stroke-width="8.90" stroke-linejoin="round"/>
<path d="M908.6 1285.9 L908.5 1284.9 L908.5 1283.9 L908.5 1283.0 L908.5 1282.0 L908.5 1281.1 L908.6 1280.2 L908.6 1279.3 L908.6 1278.4 L908.6 1277.4 L908.7 1276.5 L908.7 1275.6 L908.8 1274.8 L908.9 1273.9 L909.0 1273.1 L909.2 1272.2 L909.4 1271.5 L909.7 1270.7 L910.0 1270.0 L910.3 1269.4 L910.7 1268.8 L911.1 1268.2 L911.5 1267.6 L911.9 1267.0 L912.4 1266.5 L912.9 1265.9 L913.4 1265.4 L913.9 1265.0 L914.5 1264.5 L915.0 1264.1 L915.6 1263.8 L916.1 1263.5 L916.7 1263.3 L917.3 1263.1 L917.9 1263.0 L918.5 1262.9 L919.2 1262.9 L919.9 1262.9 L920.6 1262.9 L921.3 1263.0 L922.0 1263.1 L922.7 1263.2 L923.3 1263.4 L924.0 1263.6 L924.6 1263.8 L925.1 1264.1 L925.6 1264.4 L926.0 1264.7 L926.4 1265.0 L926.8 1265.4 L927.1 1265.8 L927.4 1266.2 L927.7 1266.7" fill="none" stroke="#1d1d1f" stroke-width="15.00" stroke-linejoin="round"/>
<path d="M908.7 1286.9 L908.6 1285.9 L908.5 1284.9 L908.5 1283.9 L908.5 1283.0 L908.5 1282.0 L908.5 1281.1 L908.6 1280.2 L908.6 1279.3 L908.6 1278.4 L908.6 1277.4 L908.7 1276.5 L908.7 1275.6 L908.8 1274.8 L908.9 1273.9 L909.0 1273.1 L909.2 1272.2 L909.4 1271.5 L909.7 1270.7 L910.0 1270.0 L910.3 1269.4 L910.7 1268.8 L911.1 1268.2 L911.5 1267.6 L911.9 1267.0 L912.4 1266.5 L912.9 1265.9 L913.4 1265.4 L913.9 1265.0 L914.5 1264.5 L915.0 1264.1 L915.6 1263.8 L916.1 1263.5 L916.7 1263.3 L917.3 1263.1 L917.9 1263.0 L918.5 1262.9 L919.2 1262.9 L919.9 1262.9 L920.6 1262.9 L921.3 1263.0 L922.0 1263.1 L922.7 1263.2 L923.3 1263.4 L924.0 1263.6 L924.6 1263.8 L925.1 1264.1 L925.6 1264.4 L926.0 1264.7 L926.4 1265.0 L926.8 1265.4 L927.1 1265.8 L927.4 1266.2 L927.7 1266.7 L928.0 1267.2" fill="none" stroke="#0cb0ec" stroke-width="11.40" stroke-linejoin="round"/>
<path d="M823.2 1403.6 L825.2 1401.7 L827.3 1399.9 L829.4 1398.1 L831.4 1396.3 L833.5 1394.5 L835.6 1392.7 L837.7 1390.9 L839.7 1389.1 L841.8 1387.2 L843.8 1385.3 L845.8 1383.4 L847.8 1381.4 L849.8 1379.3 L851.7 1377.2 L853.8 1374.7 L856.0 1372.1 L858.2 1369.4 L860.4 1366.6 L862.6 1363.8 L864.7 1360.9 L866.9 1357.9 L868.9 1355.0 L870.9 1352.1 L872.8 1349.2 L874.7 1346.4 L876.4 1343.6 L878.0 1340.9 L879.4 1338.3 L880.4 1336.4 L881.3 1334.6 L882.2 1332.7 L883.0 1330.9 L883.7 1329.1 L884.4 1327.3 L885.1 1325.5 L885.7 1323.8 L886.3 1322.1 L886.9 1320.4 L887.4 1318.7 L888.0 1317.1 L888.5 1315.5 L889.0 1314.0 L889.4 1312.9 L889.7 1311.8 L890.0 1310.8 L890.3 1309.7 L890.6 1308.7 L890.9 1307.8 L891.2 1306.8 L891.4 1305.8 L891.7 1304.9 L891.9 1303.9 L892.2 1302.9 L892.5 1302.0 L892.7 1301.0 L893.0 1300.0" fill="none" stroke="#1d1d1f" stroke-width="14.00" stroke-linejoin="round"/>
<path d="M823.2 1403.6 L825.2 1401.7 L827.3 1399.9 L829.4 1398.1 L831.4 1396.3 L833.5 1394.5 L835.6 1392.7 L837.7 1390.9 L839.7 1389.1 L841.8 1387.2 L843.8 1385.3 L845.8 1383.4 L847.8 1381.4 L849.8 1379.3 L851.7 1377.2 L853.8 1374.7 L856.0 1372.1 L858.2 1369.4 L860.4 1366.6 L862.6 1363.8 L864.7 1360.9 L866.9 1357.9 L868.9 1355.0 L870.9 1352.1 L872.8 1349.2 L874.7 1346.4 L876.4 1343.6 L878.0 1340.9 L879.4 1338.3 L880.4 1336.4 L881.3 1334.6 L882.2 1332.7 L883.0 1330.9 L883.7 1329.1 L884.4 1327.3 L885.1 1325.5 L885.7 1323.8 L886.3 1322.1 L886.9 1320.4 L887.4 1318.7 L888.0 1317.1 L888.5 1315.5 L889.0 1314.0 L889.4 1312.9 L889.7 1311.8 L890.0 1310.8 L890.3 1309.7 L890.6 1308.7 L890.9 1307.8 L891.2 1306.8 L891.4 1305.8 L891.7 1304.9 L891.9 1303.9 L892.2 1302.9 L892.5 1302.0 L892.7 1301.0 L893.0 1300.0" fill="none" stroke="#0cb0ec" stroke-width="10.40" stroke-linejoin="round"/>
<path d="M837.8 1417.5 L839.8 1415.3 L841.8 1413.2 L843.8 1411.1 L845.8 1409.1 L847.8 1407.0 L849.8 1404.9 L851.8 1402.9 L853.8 1400.8 L855.8 1398.6 L857.8 1396.4 L859.8 1394.2 L861.7 1391.9 L863.7 1389.5 L865.6 1387.0 L867.9 1383.9 L870.3 1380.6 L872.7 1377.2 L875.1 1373.7 L877.5 1370.0 L879.9 1366.3 L882.3 1362.6 L884.6 1358.8 L886.8 1355.2 L889.0 1351.5 L891.0 1348.0 L892.8 1344.6 L894.6 1341.4 L896.1 1338.3 L897.0 1336.3 L897.9 1334.4 L898.7 1332.5 L899.5 1330.6 L900.2 1328.8 L900.8 1327.0 L901.5 1325.2 L902.1 1323.5 L902.6 1321.8 L903.1 1320.1 L903.6 1318.5 L904.1 1317.0 L904.6 1315.5 L905.0 1314.0 L905.3 1313.0 L905.6 1312.1 L905.8 1311.2 L906.0 1310.3 L906.3 1309.4 L906.5 1308.6 L906.7 1307.8 L906.8 1306.9 L907.0 1306.1 L907.2 1305.3 L907.4 1304.5 L907.6 1303.7 L907.8 1302.8 L908.0 1302.0" fill="none" stroke="#1d1d1f" stroke-width="14.00" stroke-linejoin="round"/>
<path d="M837.8 1417.5 L839.8 1415.3 L841.8 1413.2 L843.8 1411.1 L845.8 1409.1 L847.8 1407.0 L849.8 1404.9 L851.8 1402.9 L853.8 1400.8 L855.8 1398.6 L857.8 1396.4 L859.8 1394.2 L861.7 1391.9 L863.7 1389.5 L865.6 1387.0 L867.9 1383.9 L870.3 1380.6 L872.7 1377.2 L875.1 1373.7 L877.5 1370.0 L879.9 1366.3 L882.3 1362.6 L884.6 1358.8 L886.8 1355.2 L889.0 1351.5 L891.0 1348.0 L892.8 1344.6 L894.6 1341.4 L896.1 1338.3 L897.0 1336.3 L897.9 1334.4 L898.7 1332.5 L899.5 1330.6 L900.2 1328.8 L900.8 1327.0 L901.5 1325.2 L902.1 1323.5 L902.6 1321.8 L903.1 1320.1 L903.6 1318.5 L904.1 1317.0 L904.6 1315.5 L905.0 1314.0 L905.3 1313.0 L905.6 1312.1 L905.8 1311.2 L906.0 1310.3 L906.3 1309.4 L906.5 1308.6 L906.7 1307.8 L906.8 1306.9 L907.0 1306.1 L907.2 1305.3 L907.4 1304.5 L907.6 1303.7 L907.8 1302.8 L908.0 1302.0" fill="none" stroke="#0cb0ec" stroke-width="10.40" stroke-linejoin="round"/>

<defs>
<clipPath id="ctop"><rect x="0" y="1300" width="1080" height="136"/></clipPath>
<clipPath id="cbot"><rect x="0" y="1436" width="1080" height="100"/></clipPath>
<mask id="wmask" maskUnits="userSpaceOnUse" x="0" y="1300" width="1080" height="215">
<path d="M78.3 1358.8 L85.5 1390.4 L102.1 1362.6 L99.2 1394.8 L123.6 1373.5 L110.8 1403.3 L140.6 1390.5 L119.3 1414.9 L151.5 1412.0 L123.7 1428.6 L155.3 1435.8 L123.7 1443.0 L151.5 1459.6 L119.3 1456.7 L140.6 1481.1 L110.8 1468.3 L123.6 1498.1 L99.2 1476.8 L102.1 1509.0 L85.5 1481.2 L78.3 1512.8 L71.1 1481.2 L54.5 1509.0 L57.4 1476.8 L33.0 1498.1 L45.8 1468.3 L16.0 1481.1 L37.3 1456.7 L5.1 1459.6 L32.9 1443.0 L1.3 1435.8 L32.9 1428.6 L5.1 1412.0 L37.3 1414.9 L16.0 1390.5 L45.8 1403.3 L33.0 1373.5 L57.4 1394.8 L54.5 1362.6 L71.1 1390.4 Z M35.3 1435.8 A43 43 0 0 1 121.3 1435.8 Z" fill="#fff" fill-rule="evenodd"/>
<g font-family="Liberation Serif" font-weight="bold" font-size="114.5">
<g clip-path="url(#ctop)">
<g fill="#fff" stroke="#fff" stroke-width="11" stroke-linejoin="round"><text transform="translate(170.6 1473) scale(0.970 1)">S</text><text transform="translate(238.9 1473) scale(0.804 1)">E</text><text transform="translate(305.6 1473) scale(0.819 1)">A</text><text transform="translate(371.1 1473) scale(0.757 1)">T</text><text transform="translate(436.8 1473) scale(0.870 1)">R</text><text transform="translate(517.6 1473) scale(0.782 1)">A</text><text transform="translate(580.8 1473) scale(0.835 1)">C</text><text transform="translate(658.0 1473) scale(0.755 1)">K</text><text transform="translate(734.0 1473) scale(0.731 1)">E</text><text transform="translate(794.8 1473) scale(0.858 1)">R</text><text transform="translate(876.2 1473) scale(0.865 1)">.</text><text transform="translate(911.8 1473) scale(0.858 1)">R</text><text transform="translate(995.2 1473) scale(0.794 1)">U</text></g>
<g fill="#000" stroke="#000" stroke-width="5.5" stroke-linejoin="round"><text transform="translate(170.6 1473) scale(0.970 1)">S</text><text transform="translate(238.9 1473) scale(0.804 1)">E</text><text transform="translate(305.6 1473) scale(0.819 1)">A</text><text transform="translate(371.1 1473) scale(0.757 1)">T</text><text transform="translate(436.8 1473) scale(0.870 1)">R</text><text transform="translate(517.6 1473) scale(0.782 1)">A</text><text transform="translate(580.8 1473) scale(0.835 1)">C</text><text transform="translate(658.0 1473) scale(0.755 1)">K</text><text transform="translate(734.0 1473) scale(0.731 1)">E</text><text transform="translate(794.8 1473) scale(0.858 1)">R</text><text transform="translate(876.2 1473) scale(0.865 1)">.</text><text transform="translate(911.8 1473) scale(0.858 1)">R</text><text transform="translate(995.2 1473) scale(0.794 1)">U</text></g>
</g>
<g clip-path="url(#cbot)">
<g fill="#fff" stroke="#fff" stroke-width="11" stroke-linejoin="round"><text transform="translate(170.6 1473) scale(0.970 1)">S</text><text transform="translate(238.9 1473) scale(0.804 1)">E</text><text transform="translate(305.6 1473) scale(0.819 1)">A</text><text transform="translate(371.1 1473) scale(0.757 1)">T</text><text transform="translate(436.8 1473) scale(0.870 1)">R</text><text transform="translate(517.6 1473) scale(0.782 1)">A</text><text transform="translate(580.8 1473) scale(0.835 1)">C</text><text transform="translate(658.0 1473) scale(0.755 1)">K</text><text transform="translate(734.0 1473) scale(0.731 1)">E</text><text transform="translate(794.8 1473) scale(0.858 1)">R</text><text transform="translate(876.2 1473) scale(0.865 1)">.</text><text transform="translate(911.8 1473) scale(0.858 1)">R</text><text transform="translate(995.2 1473) scale(0.794 1)">U</text></g>
</g>
</g>
</mask>
</defs>
<rect x="0" y="1300" width="1080" height="215" fill="#0071ab" fill-opacity="0.6" mask="url(#wmask)"/>
</svg>
</body></html>
